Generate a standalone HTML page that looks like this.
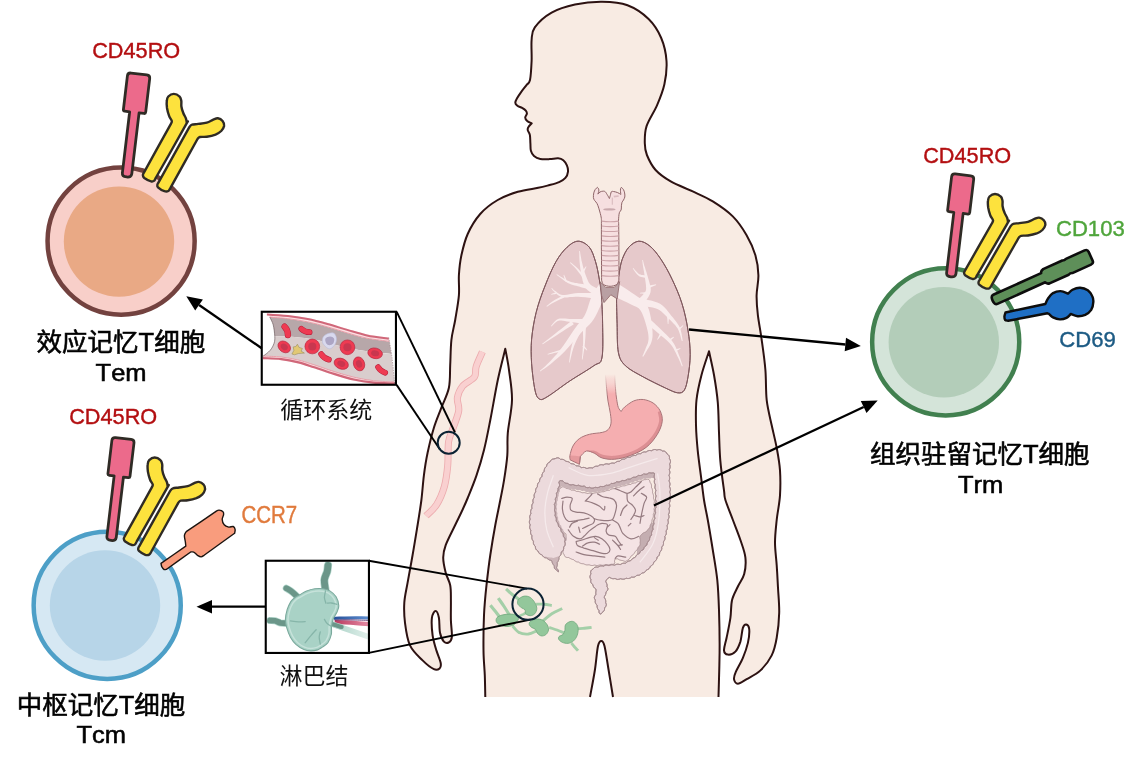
<!DOCTYPE html>
<html lang="zh-CN">
<head>
<meta charset="utf-8">
<title>记忆T细胞亚群</title>
<style>
html,body{margin:0;padding:0;background:#fff;}
body{width:1139px;height:766px;overflow:hidden;}
svg{display:block;}
text{font-family:"Liberation Sans","Noto Sans CJK SC",sans-serif;font-kerning:none;}
.cell{font-size:25.5px;fill:#000;stroke:#000;stroke-width:0.6px;}
.cell2{font-size:25px;}
.mk{font-size:21.7px;stroke-width:0.4px;}
.cap{font-size:23px;fill:#111;}
</style>
</head>
<body>
<svg width="1139" height="766" viewBox="0 0 1139 766">
<rect width="1139" height="766" fill="#fff"/>
<path d="M485.3,697C485.2,693.4 485.1,683.2 484.8,675.4C484.5,667.6 483.6,660.4 483.5,650.4C483.4,640.4 483.5,626.2 484,615.3C484.5,604.4 485.4,595.2 486.5,585.2C487.6,575.2 488.8,565 490.3,555C491.8,545 493.6,534.2 495.3,525C497,515.8 498.9,507.4 500.3,500C501.8,492.6 502.8,487.8 504,480.4C505.2,472.9 506.7,463.2 507.3,455.3C507.9,447.4 507,442 507.8,432.8C508.6,423.6 511.8,410.5 512,400C512.2,389.5 510.1,378.5 509,370C507.9,361.5 505.9,352.3 505.3,348.8C504.1,354 500.3,368.1 497.8,380C495.3,391.9 492.6,408.3 490.3,420C488,431.7 486.3,440.8 484,450C481.7,459.2 479.2,467.4 476.5,475.4C473.8,483.4 470.2,491.9 467.7,498C465.2,504.1 463.6,507.5 461.5,512C459.4,516.5 457.8,519.5 455.2,525C452.6,530.5 447.7,539.7 445.7,545.1C443.7,550.5 443.2,553 443.2,557.6C443.2,562.2 444.5,568.1 445.7,572.7C446.9,577.3 449.3,580.6 450.2,585.2C451.1,589.8 450.8,594.4 450.9,600.3C451,606.1 450.7,614.2 450.9,620.3C451.1,626.3 452.2,632.9 451.9,636.6C451.6,640.3 450.2,641.6 448.9,642.4C447.6,643.2 445.4,643.2 443.9,641.6C442.4,640 440.8,636.8 440,632.8C439.2,628.8 439.6,621.4 438.9,617.8C438.2,614.2 436.8,611 435.6,611C434.4,611 432.4,613.8 431.9,617.8C431.4,621.8 431.9,629.9 432.6,635.3C433.4,640.7 435,645.8 436.4,650.4C437.8,655 440.2,660 440.7,663C441.2,666 440.7,667.4 439.6,668.4C438.5,669.4 436.7,670.5 433.9,669.2C431.1,667.9 426.6,664.4 422.6,660.4C418.6,656.4 412.9,651.7 410,645.4C407.1,639.1 405.9,629.9 405,622.8C404.1,615.7 403.9,609.5 404.3,602.8C404.7,596.1 406.2,590.7 407.6,582.7C409,574.7 410.9,564.6 412.6,555C414.3,545.4 416.1,534.2 417.6,525C419.1,515.8 420.3,508.3 421.4,500C422.4,491.7 422.9,483.3 423.9,475.4C424.9,467.5 425.9,460.7 427.6,452.8C429.3,444.9 431.6,435.3 433.9,427.8C436.2,420.3 438.9,414.4 441.4,407.7C443.9,401 447.4,394.8 448.9,387.7C450.4,380.6 449.8,372.9 450.2,365C450.6,357.1 450.6,347.5 451.4,340C452.2,332.5 453.9,327.4 455.2,320C456.4,312.6 458.3,302.8 458.9,295.4C459.5,287.9 458.5,282 458.9,275.3C459.3,268.6 459.9,262.2 461.4,255.3C462.9,248.4 464.6,240.9 467.7,234C470.8,227.1 475.2,219.7 480.2,214C485.2,208.3 491.4,203.7 497.7,200C504,196.3 511,193.8 517.8,191.8C524.5,189.8 532.9,188.9 538.2,187.8C543.5,186.7 546.2,185.9 549.7,185C553.2,184.1 556.5,183.3 559.1,182.1C561.7,180.9 563.9,179.7 565.4,177.9C566.9,176.2 567.8,173.7 568,171.6C568.2,169.5 567.7,167.3 566.9,165.4C566.1,163.5 564.8,161.4 563.3,160.2C561.8,159 560.4,158.5 558.1,158.3C555.8,158.1 552.7,159 549.7,159.1C546.7,159.2 542.9,159.4 540.3,158.9C537.7,158.4 535.6,157.4 534,156C532.4,154.6 531.5,152.8 530.9,150.7C530.3,148.6 530.6,146 530.4,143.4C530.2,140.8 530.3,137.3 529.9,135.1C529.5,132.9 528.1,131.7 527.8,130.4C527.5,129.1 527.6,128.4 528.3,127.2C528.9,126 531.1,124 531.7,123.4C531,123 528.3,122 527.2,121C526.1,120 525.2,118.7 525.2,117.5C525.2,116.3 526.8,114.9 526.9,113.7C527,112.5 526.6,111.6 525.8,110.6C525,109.6 523.5,108.7 522.1,107.9C520.7,107.1 518.5,106.7 517.4,105.8C516.3,104.9 515.3,104 515.3,102.7C515.3,101.4 516.2,99.8 517.2,98C518.2,96.2 519.6,94.2 521.1,92.1C522.6,90 524.8,87.3 526.3,85.3C527.8,83.3 529.1,84 530,80C530.9,76 531.3,67.7 531.6,61C531.9,54.3 531.1,45.6 531.6,40C532.1,34.4 531.5,32 534.8,27.4C538.1,22.8 544.9,16.4 551.6,12.6C558.3,8.8 566.6,6.3 575,4.5C583.4,2.7 593.5,1.7 602.2,1.8C611,1.9 619.8,2.4 627.5,5.3C635.2,8.2 643,13.6 648.6,19C654.2,24.4 658.2,31 661.2,38C664.2,45 666,53.3 666.5,61C667,68.7 666,76.9 664.4,84.3C662.8,91.7 660,98.4 657,105.4C654,112.4 648.5,120.1 646.5,126.4C644.5,132.7 644.7,138.5 644.8,143.3C644.9,148.1 645.1,150.6 646.9,155C648.7,159.4 651.6,165.6 655.6,170C659.6,174.4 664.5,177.8 670.7,181.4C676.9,185 685.7,188.1 692.7,191.4C699.7,194.7 706.1,197.2 712.8,201.4C719.5,205.6 727.2,210.8 732.8,216.4C738.4,222 742.8,228.7 746.6,235.2C750.4,241.7 753.4,248.6 755.4,255.3C757.4,262 758.2,268.6 758.4,275.3C758.6,282 756.7,288.7 756.6,295.4C756.5,302.1 757,308 757.9,315.4C758.8,322.8 760.5,330.9 761.7,340C763,349.1 764.6,360 765.4,370C766.2,380 765.7,391 766.7,400.2C767.8,409.4 770,417.4 771.7,425.3C773.4,433.2 775.3,440.3 776.7,447.8C778.1,455.3 779.5,462.5 780,470.4C780.5,478.3 780.5,487.1 780,495.4C779.5,503.7 777.5,512.1 776.7,520C775.9,527.9 775,535.1 775,542.6C775,550.1 776.2,557.7 776.7,565.2C777.2,572.7 777.6,579.8 778,587.7C778.4,595.6 779.4,604.4 779.2,612.8C779,621.1 778,630.7 776.7,637.8C775.5,644.9 774.4,650 771.7,655.4C769,660.8 764.7,666.4 760.5,670.4C756.3,674.4 750.5,677 746.7,679.2C742.9,681.4 740,683.7 737.9,683.7C735.8,683.7 734.3,681.2 734,679.2C733.7,677.2 734.4,675.2 735.9,671.7C737.4,668.2 740.9,662.7 742.9,657.9C744.9,653.1 746.8,647.7 747.9,642.9C749,638.1 749.5,632 749.2,629C748.9,626 747.2,624.8 746.2,624.6C745.2,624.4 743.9,625 742.9,627.8C741.9,630.6 741.6,637.6 740.4,641.6C739.1,645.6 737.5,649.4 735.4,651.6C733.3,653.8 729.8,654.8 727.9,654.6C726,654.4 724.2,653.2 724,650.4C723.8,647.6 725.5,643.2 726.6,637.8C727.7,632.4 729.5,624 730.4,617.8C731.3,611.5 730.8,605.5 732,600.3C733.2,595.1 735.9,590.9 737.9,586.5C739.9,582.1 743,578.8 744.2,574C745.5,569.2 746,563.3 745.4,557.6C744.8,551.9 742.5,546.3 740.4,540C738.3,533.7 735.4,526.7 732.9,520C730.4,513.3 726.9,504.9 725.4,500C723.9,495.1 724.9,497 724,490.4C723.1,483.8 721.1,470 720.3,460.4C719.5,450.8 719.4,442.4 719,432.8C718.6,423.2 718.6,412.3 717.8,402.7C717,393.1 715.5,383.6 714,375C712.5,366.4 709.8,355.2 709,351.3C707.8,355.2 703.6,366.9 701.5,375C699.4,383.1 697.4,391.6 696.5,400C695.6,408.4 695.8,416.9 696,425.3C696.2,433.7 696.8,441.1 697.7,450.3C698.6,459.5 700.5,472.1 701.5,480.4C702.5,488.7 703,493.4 704,500C705,506.6 706.3,511.7 707.8,520C709.3,528.3 711.2,540 712.8,550C714.4,560 716.3,570.2 717.3,580.2C718.3,590.2 718.6,598.6 719,610.3C719.4,622 719.7,635.9 719.6,650.4C719.5,664.9 718.7,689.2 718.5,697L613,697C612.3,692.5 610,678.5 608.6,670C607.2,661.5 605.7,650.8 604.5,646C603.3,641.2 602.4,641 601.3,641C600.2,641 599.1,641.2 598,646C596.9,650.8 596.2,661.5 594.9,670C593.6,678.5 590.8,692.5 590,697Z" fill="#f8ebe3"/>
<path d="M485.3,697C485.2,693.4 485.1,683.2 484.8,675.4C484.5,667.6 483.6,660.4 483.5,650.4C483.4,640.4 483.5,626.2 484,615.3C484.5,604.4 485.4,595.2 486.5,585.2C487.6,575.2 488.8,565 490.3,555C491.8,545 493.6,534.2 495.3,525C497,515.8 498.9,507.4 500.3,500C501.8,492.6 502.8,487.8 504,480.4C505.2,472.9 506.7,463.2 507.3,455.3C507.9,447.4 507,442 507.8,432.8C508.6,423.6 511.8,410.5 512,400C512.2,389.5 510.1,378.5 509,370C507.9,361.5 505.9,352.3 505.3,348.8C504.1,354 500.3,368.1 497.8,380C495.3,391.9 492.6,408.3 490.3,420C488,431.7 486.3,440.8 484,450C481.7,459.2 479.2,467.4 476.5,475.4C473.8,483.4 470.2,491.9 467.7,498C465.2,504.1 463.6,507.5 461.5,512C459.4,516.5 457.8,519.5 455.2,525C452.6,530.5 447.7,539.7 445.7,545.1C443.7,550.5 443.2,553 443.2,557.6C443.2,562.2 444.5,568.1 445.7,572.7C446.9,577.3 449.3,580.6 450.2,585.2C451.1,589.8 450.8,594.4 450.9,600.3C451,606.1 450.7,614.2 450.9,620.3C451.1,626.3 452.2,632.9 451.9,636.6C451.6,640.3 450.2,641.6 448.9,642.4C447.6,643.2 445.4,643.2 443.9,641.6C442.4,640 440.8,636.8 440,632.8C439.2,628.8 439.6,621.4 438.9,617.8C438.2,614.2 436.8,611 435.6,611C434.4,611 432.4,613.8 431.9,617.8C431.4,621.8 431.9,629.9 432.6,635.3C433.4,640.7 435,645.8 436.4,650.4C437.8,655 440.2,660 440.7,663C441.2,666 440.7,667.4 439.6,668.4C438.5,669.4 436.7,670.5 433.9,669.2C431.1,667.9 426.6,664.4 422.6,660.4C418.6,656.4 412.9,651.7 410,645.4C407.1,639.1 405.9,629.9 405,622.8C404.1,615.7 403.9,609.5 404.3,602.8C404.7,596.1 406.2,590.7 407.6,582.7C409,574.7 410.9,564.6 412.6,555C414.3,545.4 416.1,534.2 417.6,525C419.1,515.8 420.3,508.3 421.4,500C422.4,491.7 422.9,483.3 423.9,475.4C424.9,467.5 425.9,460.7 427.6,452.8C429.3,444.9 431.6,435.3 433.9,427.8C436.2,420.3 438.9,414.4 441.4,407.7C443.9,401 447.4,394.8 448.9,387.7C450.4,380.6 449.8,372.9 450.2,365C450.6,357.1 450.6,347.5 451.4,340C452.2,332.5 453.9,327.4 455.2,320C456.4,312.6 458.3,302.8 458.9,295.4C459.5,287.9 458.5,282 458.9,275.3C459.3,268.6 459.9,262.2 461.4,255.3C462.9,248.4 464.6,240.9 467.7,234C470.8,227.1 475.2,219.7 480.2,214C485.2,208.3 491.4,203.7 497.7,200C504,196.3 511,193.8 517.8,191.8C524.5,189.8 532.9,188.9 538.2,187.8C543.5,186.7 546.2,185.9 549.7,185C553.2,184.1 556.5,183.3 559.1,182.1C561.7,180.9 563.9,179.7 565.4,177.9C566.9,176.2 567.8,173.7 568,171.6C568.2,169.5 567.7,167.3 566.9,165.4C566.1,163.5 564.8,161.4 563.3,160.2C561.8,159 560.4,158.5 558.1,158.3C555.8,158.1 552.7,159 549.7,159.1C546.7,159.2 542.9,159.4 540.3,158.9C537.7,158.4 535.6,157.4 534,156C532.4,154.6 531.5,152.8 530.9,150.7C530.3,148.6 530.6,146 530.4,143.4C530.2,140.8 530.3,137.3 529.9,135.1C529.5,132.9 528.1,131.7 527.8,130.4C527.5,129.1 527.6,128.4 528.3,127.2C528.9,126 531.1,124 531.7,123.4C531,123 528.3,122 527.2,121C526.1,120 525.2,118.7 525.2,117.5C525.2,116.3 526.8,114.9 526.9,113.7C527,112.5 526.6,111.6 525.8,110.6C525,109.6 523.5,108.7 522.1,107.9C520.7,107.1 518.5,106.7 517.4,105.8C516.3,104.9 515.3,104 515.3,102.7C515.3,101.4 516.2,99.8 517.2,98C518.2,96.2 519.6,94.2 521.1,92.1C522.6,90 524.8,87.3 526.3,85.3C527.8,83.3 529.1,84 530,80C530.9,76 531.3,67.7 531.6,61C531.9,54.3 531.1,45.6 531.6,40C532.1,34.4 531.5,32 534.8,27.4C538.1,22.8 544.9,16.4 551.6,12.6C558.3,8.8 566.6,6.3 575,4.5C583.4,2.7 593.5,1.7 602.2,1.8C611,1.9 619.8,2.4 627.5,5.3C635.2,8.2 643,13.6 648.6,19C654.2,24.4 658.2,31 661.2,38C664.2,45 666,53.3 666.5,61C667,68.7 666,76.9 664.4,84.3C662.8,91.7 660,98.4 657,105.4C654,112.4 648.5,120.1 646.5,126.4C644.5,132.7 644.7,138.5 644.8,143.3C644.9,148.1 645.1,150.6 646.9,155C648.7,159.4 651.6,165.6 655.6,170C659.6,174.4 664.5,177.8 670.7,181.4C676.9,185 685.7,188.1 692.7,191.4C699.7,194.7 706.1,197.2 712.8,201.4C719.5,205.6 727.2,210.8 732.8,216.4C738.4,222 742.8,228.7 746.6,235.2C750.4,241.7 753.4,248.6 755.4,255.3C757.4,262 758.2,268.6 758.4,275.3C758.6,282 756.7,288.7 756.6,295.4C756.5,302.1 757,308 757.9,315.4C758.8,322.8 760.5,330.9 761.7,340C763,349.1 764.6,360 765.4,370C766.2,380 765.7,391 766.7,400.2C767.8,409.4 770,417.4 771.7,425.3C773.4,433.2 775.3,440.3 776.7,447.8C778.1,455.3 779.5,462.5 780,470.4C780.5,478.3 780.5,487.1 780,495.4C779.5,503.7 777.5,512.1 776.7,520C775.9,527.9 775,535.1 775,542.6C775,550.1 776.2,557.7 776.7,565.2C777.2,572.7 777.6,579.8 778,587.7C778.4,595.6 779.4,604.4 779.2,612.8C779,621.1 778,630.7 776.7,637.8C775.5,644.9 774.4,650 771.7,655.4C769,660.8 764.7,666.4 760.5,670.4C756.3,674.4 750.5,677 746.7,679.2C742.9,681.4 740,683.7 737.9,683.7C735.8,683.7 734.3,681.2 734,679.2C733.7,677.2 734.4,675.2 735.9,671.7C737.4,668.2 740.9,662.7 742.9,657.9C744.9,653.1 746.8,647.7 747.9,642.9C749,638.1 749.5,632 749.2,629C748.9,626 747.2,624.8 746.2,624.6C745.2,624.4 743.9,625 742.9,627.8C741.9,630.6 741.6,637.6 740.4,641.6C739.1,645.6 737.5,649.4 735.4,651.6C733.3,653.8 729.8,654.8 727.9,654.6C726,654.4 724.2,653.2 724,650.4C723.8,647.6 725.5,643.2 726.6,637.8C727.7,632.4 729.5,624 730.4,617.8C731.3,611.5 730.8,605.5 732,600.3C733.2,595.1 735.9,590.9 737.9,586.5C739.9,582.1 743,578.8 744.2,574C745.5,569.2 746,563.3 745.4,557.6C744.8,551.9 742.5,546.3 740.4,540C738.3,533.7 735.4,526.7 732.9,520C730.4,513.3 726.9,504.9 725.4,500C723.9,495.1 724.9,497 724,490.4C723.1,483.8 721.1,470 720.3,460.4C719.5,450.8 719.4,442.4 719,432.8C718.6,423.2 718.6,412.3 717.8,402.7C717,393.1 715.5,383.6 714,375C712.5,366.4 709.8,355.2 709,351.3C707.8,355.2 703.6,366.9 701.5,375C699.4,383.1 697.4,391.6 696.5,400C695.6,408.4 695.8,416.9 696,425.3C696.2,433.7 696.8,441.1 697.7,450.3C698.6,459.5 700.5,472.1 701.5,480.4C702.5,488.7 703,493.4 704,500C705,506.6 706.3,511.7 707.8,520C709.3,528.3 711.2,540 712.8,550C714.4,560 716.3,570.2 717.3,580.2C718.3,590.2 718.6,598.6 719,610.3C719.4,622 719.7,635.9 719.6,650.4C719.5,664.9 718.7,689.2 718.5,697" fill="none" stroke="#2d1212" stroke-width="2" stroke-linejoin="round"/>
<path d="M613,697C612.3,692.5 610,678.5 608.6,670C607.2,661.5 605.7,650.8 604.5,646C603.3,641.2 602.4,641 601.3,641C600.2,641 599.1,641.2 598,646C596.9,650.8 596.2,661.5 594.9,670C593.6,678.5 590.8,692.5 590,697" fill="none" stroke="#2d1212" stroke-width="2" stroke-linejoin="round"/>
<path d="M482.4,351.9C481.4,354.3 477.5,362.3 476.2,366.5C474.8,370.7 476.6,373.7 474.4,377C472.1,380.2 465.4,382.6 462.6,386.1C459.8,389.6 458.1,393.7 457.4,397.8C456.7,402 459.5,405.7 458.7,410.9C457.9,416.1 454.4,423.9 452.7,429.1C451,434.4 449.4,436.1 448.5,442.2C447.7,448.3 448.4,458.3 447.7,465.7C447,473.1 446.2,480 444.4,486.5C442.5,493.1 439.6,499.9 436.5,504.8C433.5,509.7 427.8,513.9 426.1,515.8" fill="none" stroke="#ecaaad" stroke-width="7.0" stroke-linecap="butt"/><path d="M482.4,351.9C481.4,354.3 477.5,362.3 476.2,366.5C474.8,370.7 476.6,373.7 474.4,377C472.1,380.2 465.4,382.6 462.6,386.1C459.8,389.6 458.1,393.7 457.4,397.8C456.7,402 459.5,405.7 458.7,410.9C457.9,416.1 454.4,423.9 452.7,429.1C451,434.4 449.4,436.1 448.5,442.2C447.7,448.3 448.4,458.3 447.7,465.7C447,473.1 446.2,480 444.4,486.5C442.5,493.1 439.6,499.9 436.5,504.8C433.5,509.7 427.8,513.9 426.1,515.8" fill="none" stroke="#f9d0d0" stroke-width="5.4" stroke-linecap="butt"/>
<path d="M578.2,241.2C581.9,241.2 586.4,243.8 589.3,247.2C592.2,250.6 593.8,256.2 595.5,261.6C597.2,267 598.3,273.4 599.3,279.3C600.3,285.3 600.9,289.7 601.5,297.1C602,304.5 602.5,313.5 602.6,323.7C602.7,333.8 603.4,351 601.9,358C600.4,365 599.1,361.9 593.7,365.8C588.3,369.7 577.1,376.1 569.3,381.3C561.6,386.5 552.2,393.9 547.2,396.8C542.2,399.8 541.4,400.1 539.4,399C537.4,397.9 536.3,396.1 535,390.2C533.7,384.3 532.2,372.1 531.6,363.6C531.1,355.1 530.9,347.7 531.6,339.2C532.4,330.7 533.9,321.5 536.1,312.6C538.3,303.7 541.6,294.5 545,286C548.3,277.5 552.3,268.1 556,261.6C559.7,255.1 563.4,250.6 567.1,247.2C570.8,243.8 574.5,241.2 578.2,241.2Z" fill="#e6c9cb" stroke="#80595e" stroke-width="1"/><path d="M638.8,241.2C635.3,241.4 631.6,244.2 628.8,247.2C626.1,250.2 623.9,254.8 622.2,259.4C620.5,264 619.8,269.4 618.9,274.9C617.9,280.4 616.9,284.5 616.6,292.6C616.4,300.8 616.8,313.7 617.1,323.7C617.4,333.6 617,345.5 618.4,352.5C619.8,359.5 621.4,361.7 625.5,365.8C629.7,369.9 636.6,373.2 643.2,376.9C649.9,380.6 659.7,385.3 665.4,388C671.1,390.6 674.5,392.5 677.6,392.8C680.8,393.2 682.5,392.8 684.3,390.2C686,387.5 687,382.8 688,376.9C689,371 690.2,362.5 690.2,354.7C690.2,346.9 689.4,338.8 688,330.3C686.7,321.8 684.7,312.2 682,303.7C679.4,295.2 675.6,286.7 672.1,279.3C668.6,271.9 664.7,264.9 661,259.4C657.3,253.8 653.6,249.1 649.9,246.1C646.2,243.1 642.3,241 638.8,241.2Z" fill="#e6c9cb" stroke="#80595e" stroke-width="1"/><clipPath id="cl"><path d="M578.2,241.2C581.9,241.2 586.4,243.8 589.3,247.2C592.2,250.6 593.8,256.2 595.5,261.6C597.2,267 598.3,273.4 599.3,279.3C600.3,285.3 600.9,289.7 601.5,297.1C602,304.5 602.5,313.5 602.6,323.7C602.7,333.8 603.4,351 601.9,358C600.4,365 599.1,361.9 593.7,365.8C588.3,369.7 577.1,376.1 569.3,381.3C561.6,386.5 552.2,393.9 547.2,396.8C542.2,399.8 541.4,400.1 539.4,399C537.4,397.9 536.3,396.1 535,390.2C533.7,384.3 532.2,372.1 531.6,363.6C531.1,355.1 530.9,347.7 531.6,339.2C532.4,330.7 533.9,321.5 536.1,312.6C538.3,303.7 541.6,294.5 545,286C548.3,277.5 552.3,268.1 556,261.6C559.7,255.1 563.4,250.6 567.1,247.2C570.8,243.8 574.5,241.2 578.2,241.2Z"/></clipPath><clipPath id="cr"><path d="M638.8,241.2C635.3,241.4 631.6,244.2 628.8,247.2C626.1,250.2 623.9,254.8 622.2,259.4C620.5,264 619.8,269.4 618.9,274.9C617.9,280.4 616.9,284.5 616.6,292.6C616.4,300.8 616.8,313.7 617.1,323.7C617.4,333.6 617,345.5 618.4,352.5C619.8,359.5 621.4,361.7 625.5,365.8C629.7,369.9 636.6,373.2 643.2,376.9C649.9,380.6 659.7,385.3 665.4,388C671.1,390.6 674.5,392.5 677.6,392.8C680.8,393.2 682.5,392.8 684.3,390.2C686,387.5 687,382.8 688,376.9C689,371 690.2,362.5 690.2,354.7C690.2,346.9 689.4,338.8 688,330.3C686.7,321.8 684.7,312.2 682,303.7C679.4,295.2 675.6,286.7 672.1,279.3C668.6,271.9 664.7,264.9 661,259.4C657.3,253.8 653.6,249.1 649.9,246.1C646.2,243.1 642.3,241 638.8,241.2Z"/></clipPath><g clip-path="url(#cl)"><path d="M599.3,284.1L598.6,285.2L597.5,286.8L596.2,288.7L594.7,291.1L593.2,293.6L591.7,296.5L590.4,299.5L589.3,302.8L588.3,306L587.3,309.2L586.2,312L585.1,314.5L583.9,316.7L582.6,318.6L581,320.6L579.3,322.7L577.3,325.2L575.3,327.9L573,331.2L570.7,334.7L568.2,338.5L565.7,342.2L563.3,345.7L561,348.8L558.8,351.6L556.7,354.2L554.5,356.6L552.5,358.8L550.5,360.9L548.7,362.8L546.9,364.6L545.2,366.2L543.5,367.7L542,369L540.8,370L539.9,370.8L540.3,371.4L541.3,370.7L542.6,369.8L544.3,368.7L546.1,367.4L548.1,365.9L550.1,364.4L552.2,362.7L554.4,360.8L556.8,358.8L559.2,356.7L561.8,354.3L564.4,351.7L567.1,348.8L570,345.5L573,342.1L575.9,338.7L578.7,335.5L581.1,332.7L583.3,330.4L585.4,328.4L587.4,326.5L589.5,324.4L591.5,322.2L593.5,319.5L595.3,316.4L597,313.2L598.5,310L599.9,307L601.2,304.3L602.4,302.1L603.7,300.2L605.2,298.3L606.6,296.5L608.1,294.9L609.3,293.4L610.3,292.3Z" fill="#f9ecec"/><path d="M600.1,289.8L598.8,289.2L597.1,288.4L595.2,287.5L593.3,286.5L591.6,285.5L590.4,284.5L589.5,283.5L588.6,282.2L587.9,280.7L587.2,279.1L586.5,277.3L585.8,275.4L585.1,273.4L584.4,271.3L583.7,269.1L583.1,266.9L582.5,264.6L582,262.5L581.5,260.4L581.1,258.1L580.7,255.9L580.4,253.9L580.1,252.2L579.9,250.9L579.2,251L579.2,252.3L579.3,254L579.3,256.1L579.4,258.3L579.5,260.7L579.7,262.9L579.9,265.1L580.2,267.4L580.5,269.8L580.9,272.1L581.3,274.4L581.7,276.6L582.2,278.6L582.6,280.6L583.2,282.5L583.8,284.5L584.7,286.4L586,288.4L587.7,290.2L589.7,291.8L591.7,293.3L593.6,294.6L595.2,295.6L596.2,296.3Z" fill="#f9ecec"/><path d="M585,276.3L584.1,275.3L582.9,274L581.4,272.4L579.9,270.7L578.3,269.1L577,267.7L575.7,266.6L574.4,265.5L573.2,264.4L572.1,263.5L571.1,262.8L570.4,262.2L570,262.7L570.6,263.4L571.5,264.2L572.5,265.2L573.6,266.3L574.8,267.5L575.9,268.8L577.1,270.2L578.4,271.9L579.8,273.7L581.1,275.5L582.2,276.9L582.9,278Z" fill="#f9ecec"/><path d="M583.9,272.1L584.2,271.4L584.7,270.5L585.2,269.4L585.7,268.3L586.2,267.3L586.5,266.7L585.9,266.3L585.5,266.9L584.8,267.7L584.1,268.7L583.3,269.7L582.7,270.5L582.2,271.1Z" fill="#f9ecec"/><path d="M589.7,285.1L588.4,285L586.7,284.7L584.7,284.4L582.6,284.1L580.4,283.8L578.5,283.5L576.8,283.1L575.1,282.9L573.5,282.6L572,282.2L570.4,281.8L568.7,281.1L566.7,280.2L564.5,278.9L562.2,277.5L560,276.2L558.2,275L556.9,274.2L556.5,274.7L557.7,275.7L559.5,277L561.5,278.6L563.7,280.2L565.8,281.7L567.8,282.9L569.6,283.8L571.3,284.4L572.9,285L574.6,285.4L576.2,285.8L577.9,286.3L579.8,286.8L581.9,287.4L584,287.9L586,288.4L587.7,288.8L588.9,289Z" fill="#f9ecec"/><path d="M566.8,280.8L566.5,280.1L566,279L565.5,277.8L564.9,276.6L564.4,275.5L564.1,274.8L563.5,275L563.7,275.8L564,276.9L564.3,278.2L564.7,279.5L565,280.6L565.2,281.4Z" fill="#f9ecec"/><path d="M598.3,293.1L596.1,293.1L593,293L589.3,292.9L585.4,292.9L581.6,292.9L578.2,293L575.1,293.3L572.2,293.8L569.5,294.3L567,294.8L564.8,295.1L562.8,295.1L561.2,294.8L559.8,294.3L558.5,293.5L557.4,292.7L556.3,291.8L555.3,291.1L554.4,290.5L553.7,289.9L553.1,289.3L552.6,288.8L552.2,288.3L551.8,288L551.4,288.4L551.6,288.8L552,289.3L552.5,289.9L553,290.5L553.7,291.3L554.6,292L555.5,292.8L556.4,293.7L557.6,294.8L558.9,295.8L560.6,296.6L562.5,297.2L564.8,297.4L567.3,297.4L569.9,297.1L572.6,296.9L575.4,296.7L578.2,296.7L581.4,296.9L585.1,297.3L589,297.7L592.6,298.2L595.7,298.6L598,298.8Z" fill="#f9ecec"/><path d="M563.2,295.2L562.1,295.8L560.6,296.7L558.8,297.7L556.9,298.8L555,299.8L553.4,300.8L552,301.8L550.6,302.8L549.3,303.8L548.2,304.8L547.2,305.5L546.5,306.1L546.9,306.7L547.7,306.2L548.7,305.5L549.9,304.7L551.3,303.8L552.8,303L554.2,302.2L555.8,301.4L557.7,300.5L559.7,299.6L561.6,298.8L563.2,298.1L564.4,297.6Z" fill="#f9ecec"/><path d="M555.8,292.2L555.2,292.4L554.4,292.8L553.4,293.2L552.5,293.5L551.6,293.9L551.1,294.1L551.2,294.7L551.9,294.6L552.7,294.5L553.8,294.3L554.8,294.2L555.7,294L556.3,293.9Z" fill="#f9ecec"/><path d="M586.1,319L584.2,319L581.6,319L578.5,318.9L575.2,318.9L572.1,318.9L569.4,318.9L567.3,318.8L565.2,318.6L563.3,318.5L561.5,318.5L559.7,318.6L558,319.1L556.3,320L554.9,321.3L553.6,322.7L552.5,324.1L551.6,325.3L550.9,326.1L551.4,326.6L552.2,325.8L553.2,324.7L554.4,323.5L555.8,322.3L557.2,321.3L558.5,320.7L559.9,320.5L561.4,320.6L563.1,320.8L564.9,321.1L567,321.5L569.2,321.8L571.9,322.2L575,322.5L578.2,322.9L581.3,323.3L583.9,323.7L585.8,323.9Z" fill="#f9ecec"/><path d="M571.5,320.9L569.7,322.3L567.2,324.2L564.3,326.5L561.2,329L558.1,331.3L555.4,333.4L552.9,335.4L550.3,337.4L547.7,339.4L545.4,341.2L543.5,342.7L542.1,343.8L542.5,344.3L544,343.4L546.1,342L548.5,340.5L551.2,338.7L554,336.9L556.7,335.2L559.6,333.3L562.8,331.3L566.1,329.1L569.3,327.1L571.9,325.4L573.8,324.2Z" fill="#f9ecec"/><path d="M577.5,329.5L576.8,331.2L575.9,333.6L574.8,336.4L573.7,339.4L572.6,342.6L571.8,345.5L571.1,348.5L570.5,351.7L570,355L569.6,358L569.3,360.6L569,362.4L569.7,362.5L570.1,360.7L570.7,358.2L571.4,355.3L572.2,352.1L573.1,349L574,346.2L575.1,343.5L576.4,340.6L577.8,337.7L579.2,335L580.3,332.8L581.1,331.1Z" fill="#f9ecec"/><path d="M582.9,325.9L582.9,327.8L583,330.5L583,333.7L583.1,337.2L583.1,340.5L583.1,343.6L582.9,346.5L582.7,349.6L582.5,352.6L582.2,355.4L582,357.8L581.9,359.5L582.5,359.6L582.8,357.9L583.2,355.6L583.6,352.8L584.1,349.7L584.5,346.6L584.9,343.7L585.1,340.6L585.4,337.2L585.6,333.8L585.7,330.6L585.9,327.9L586,325.9Z" fill="#f9ecec"/><path d="M562.4,349.2L561.4,349.5L560.1,349.9L558.4,350.4L556.7,350.9L555.1,351.4L553.7,351.9L552.4,352.3L551.2,352.7L550,353.1L549,353.4L548.2,353.7L547.5,353.9L547.7,354.6L548.4,354.4L549.2,354.2L550.3,354L551.5,353.7L552.7,353.4L554,353.1L555.4,352.8L557.1,352.5L558.9,352.1L560.5,351.8L561.9,351.5L563,351.3Z" fill="#f9ecec"/><path d="M582.4,346.4L583,346.9L583.7,347.6L584.6,348.5L585.5,349.3L586.3,350L586.8,350.5L587.3,350L586.9,349.5L586.3,348.6L585.5,347.6L584.8,346.7L584.2,345.8L583.7,345.2Z" fill="#f9ecec"/></g><g clip-path="url(#cr)"><path d="M611.2,295.1L613.3,296.1L616.3,297.5L619.7,299L623.3,300.7L626.7,302.3L629.6,303.8L632.1,305L634.3,306L636.1,306.8L637.5,307.5L638.7,308.3L639.8,309.4L640.9,311.1L642.1,313.3L643.2,315.9L644.2,318.7L645.1,321.6L645.9,324.3L646.7,326.9L647.3,329.5L647.9,332L648.3,334.5L648.5,336.8L648.6,339L648.3,340.9L647.9,342.9L647.2,344.7L646.4,346.6L645.7,348.3L645.1,349.9L644.5,351.3L644,352.6L643.5,353.8L643.1,354.8L642.7,355.6L642.4,356.3L643.2,356.7L643.6,356.1L644.1,355.3L644.7,354.4L645.3,353.3L646,352L646.8,350.7L647.6,349.2L648.6,347.7L649.6,345.9L650.7,343.9L651.5,341.8L652.1,339.4L652.5,336.9L652.6,334.3L652.5,331.5L652.3,328.7L652,325.9L651.7,323.1L651.2,320.1L650.7,317L650,313.8L649.2,310.6L648.1,307.6L646.7,304.7L645,302.2L642.9,300.3L640.9,298.7L638.8,297.5L636.9,296.2L634.8,294.8L632.1,293L628.9,290.8L625.5,288.6L622.3,286.5L619.6,284.7L617.7,283.5Z" fill="#f9ecec"/><path d="M643.6,303.6L644.4,302.5L645.5,301L647,299.1L648.4,297L649.7,294.6L650.5,292.2L650.8,289.8L650.6,287.5L650.2,285.3L649.6,283.2L649,281.1L648.4,279L647.8,276.8L647.1,274.4L646.4,272L645.6,269.7L645,267.6L644.4,265.9L644,264.4L643.7,263.2L643.4,262.1L643.2,261.3L643.1,260.6L642.9,260L642.3,260.1L642.3,260.7L642.4,261.4L642.5,262.3L642.6,263.4L642.8,264.7L643,266.2L643.3,268.1L643.7,270.2L644.1,272.6L644.5,275L644.9,277.4L645.2,279.7L645.5,281.8L645.8,284L646,286L646.1,287.8L646.1,289.5L645.7,290.9L645,292.2L643.8,293.8L642.4,295.4L640.9,297L639.5,298.3L638.5,299.4Z" fill="#f9ecec"/><path d="M646.1,275.4L645.3,275.3L644.2,275.2L642.9,275.1L641.6,274.9L640.4,274.6L639.3,274.2L638.3,273.4L637.1,272.3L635.9,271.1L634.9,269.9L634,268.8L633.3,268L632.8,268.5L633.3,269.3L634.1,270.4L635,271.8L636.1,273.3L637.2,274.6L638.3,275.6L639.6,276.4L641.1,276.9L642.5,277.3L643.9,277.6L644.9,277.8L645.7,278Z" fill="#f9ecec"/><path d="M648.1,288.4L649,288L650.5,287.4L652.1,286.7L653.8,286L655.2,285.4L656.2,285L656,284.3L655,284.5L653.4,284.8L651.7,285.1L649.9,285.4L648.4,285.6L647.3,285.8Z" fill="#f9ecec"/><path d="M646.6,292.1L645.8,292.2L644.6,292.3L643.3,292.4L641.9,292.6L640.7,292.7L639.9,292.7L639.9,293.4L640.7,293.5L641.9,293.6L643.3,293.7L644.6,293.9L645.8,294L646.6,294.1Z" fill="#f9ecec"/><path d="M642.5,306.3L644.4,306.6L646.9,306.8L649.7,307.1L652.6,307.6L655.3,308.2L657.4,308.9L659.3,309.9L661.1,311.3L663,312.9L664.8,314.7L666.6,316.6L668.4,318.4L670.2,320.1L671.9,321.8L673.5,323.4L675.1,325.1L676.5,326.9L677.7,328.6L678.7,330.7L679.5,333L680.3,335.4L680.9,337.7L681.4,339.7L681.8,341.1L682.7,340.9L682.5,339.4L682.2,337.4L681.8,335.1L681.3,332.5L680.7,329.9L679.8,327.6L678.7,325.4L677.4,323.4L676,321.4L674.4,319.5L672.9,317.6L671.3,315.7L669.8,313.7L668.2,311.7L666.5,309.6L664.6,307.5L662.5,305.6L660.1,303.8L657.3,302.5L654.1,301.4L651,300.5L648,299.9L645.6,299.3L644,298.9Z" fill="#f9ecec"/><path d="M667,315.2L667.1,316.3L667.2,317.9L667.4,319.7L667.5,321.5L667.7,323.1L667.7,324.1L668.4,324.1L668.5,323.1L668.6,321.5L668.8,319.7L669,317.9L669.1,316.3L669.2,315.2Z" fill="#f9ecec"/><path d="M679.8,329.9L680.2,329.4L680.8,328.6L681.6,327.8L682.3,326.9L682.9,326.2L683.4,325.7L682.9,325.2L682.4,325.6L681.6,326.2L680.7,326.9L679.8,327.6L679.1,328.2L678.6,328.6Z" fill="#f9ecec"/><path d="M647.6,324.8L648.9,325.8L650.7,327.2L652.9,328.8L655.1,330.6L657.4,332.4L659.5,334.2L661.5,335.9L663.5,337.5L665.5,339.2L667.5,340.9L669.2,342.7L670.8,344.5L672.3,346.5L673.6,348.6L674.8,350.9L675.9,353.1L676.9,355.3L677.9,357.3L678.8,359.1L679.6,360.9L680.3,362.6L680.9,364.1L681.5,365.4L681.9,366.4L682.7,366.1L682.4,365.1L682,363.8L681.5,362.2L680.9,360.4L680.3,358.5L679.5,356.6L678.7,354.5L677.9,352.3L676.9,349.9L675.9,347.4L674.7,345L673.3,342.7L671.7,340.6L670,338.5L668.1,336.5L666.2,334.6L664.3,332.7L662.5,330.9L660.5,329L658.4,326.9L656.2,324.9L654.2,323L652.5,321.5L651.3,320.4Z" fill="#f9ecec"/><path d="M660.5,332.4L660.1,333.3L659.5,334.5L658.8,335.9L658.1,337.4L657.6,338.6L657.2,339.5L657.7,339.8L658.3,339L659.1,337.9L660.1,336.7L661,335.4L661.8,334.3L662.4,333.6Z" fill="#f9ecec"/><path d="M670,341.1L670.5,340.6L671.2,340L672,339.2L672.8,338.4L673.6,337.7L674,337.2L673.6,336.7L673.1,337L672.2,337.5L671.2,338.1L670.2,338.7L669.4,339.2L668.8,339.5Z" fill="#f9ecec"/><path d="M675.9,351.1L676.5,350.8L677.3,350.4L678.3,350L679.2,349.5L680,349.1L680.6,348.8L680.4,348.2L679.8,348.3L678.9,348.6L677.8,348.8L676.8,349.1L675.9,349.3L675.3,349.4Z" fill="#f9ecec"/></g><path d="M578.2,241.2C581.9,241.2 586.4,243.8 589.3,247.2C592.2,250.6 593.8,256.2 595.5,261.6C597.2,267 598.3,273.4 599.3,279.3C600.3,285.3 600.9,289.7 601.5,297.1C602,304.5 602.5,313.5 602.6,323.7C602.7,333.8 603.4,351 601.9,358C600.4,365 599.1,361.9 593.7,365.8C588.3,369.7 577.1,376.1 569.3,381.3C561.6,386.5 552.2,393.9 547.2,396.8C542.2,399.8 541.4,400.1 539.4,399C537.4,397.9 536.3,396.1 535,390.2C533.7,384.3 532.2,372.1 531.6,363.6C531.1,355.1 530.9,347.7 531.6,339.2C532.4,330.7 533.9,321.5 536.1,312.6C538.3,303.7 541.6,294.5 545,286C548.3,277.5 552.3,268.1 556,261.6C559.7,255.1 563.4,250.6 567.1,247.2C570.8,243.8 574.5,241.2 578.2,241.2Z" fill="none" stroke="#80595e" stroke-width="1"/><path d="M638.8,241.2C635.3,241.4 631.6,244.2 628.8,247.2C626.1,250.2 623.9,254.8 622.2,259.4C620.5,264 619.8,269.4 618.9,274.9C617.9,280.4 616.9,284.5 616.6,292.6C616.4,300.8 616.8,313.7 617.1,323.7C617.4,333.6 617,345.5 618.4,352.5C619.8,359.5 621.4,361.7 625.5,365.8C629.7,369.9 636.6,373.2 643.2,376.9C649.9,380.6 659.7,385.3 665.4,388C671.1,390.6 674.5,392.5 677.6,392.8C680.8,393.2 682.5,392.8 684.3,390.2C686,387.5 687,382.8 688,376.9C689,371 690.2,362.5 690.2,354.7C690.2,346.9 689.4,338.8 688,330.3C686.7,321.8 684.7,312.2 682,303.7C679.4,295.2 675.6,286.7 672.1,279.3C668.6,271.9 664.7,264.9 661,259.4C657.3,253.8 653.6,249.1 649.9,246.1C646.2,243.1 642.3,241 638.8,241.2Z" fill="none" stroke="#80595e" stroke-width="1"/>
<path d="M600.2,281.9L605.7,287.4L614.2,287.4L619.6,281.6L617.2,298.9L610.8,294.8L604,302.6L601.6,295.5Z" fill="#b9a0a3" stroke="#8e6468" stroke-width="0.8" stroke-linejoin="round"/><path d="M597.3,187.3C597.5,187.6 598.3,188.2 598.6,188.8C598.8,189.4 598.9,190.3 598.8,191.2C598.7,192 598,193.6 597.9,194.1C598.2,193.8 599.1,192.5 600,192C600.8,191.5 602,191.2 602.9,191.2C603.8,191.1 604.5,191.1 605.3,191.8C606,192.4 606.9,194.2 607.6,195.3C608.3,196.4 609.1,198 609.4,198.5C609.6,197.9 610.2,195.8 610.5,194.7C610.9,193.6 610.8,192.3 611.3,191.8C611.8,191.2 612.4,191.3 613.5,191.5C614.5,191.6 616.4,192.1 617.6,192.6C618.8,193.1 620.3,194.1 620.9,194.4C620.8,194 620.6,192.7 620.5,191.8C620.5,190.8 620.4,189.5 620.5,188.8C620.7,188.1 621.3,187.6 621.4,187.3C621.8,187.7 622.9,188.8 623.5,189.7C624,190.6 624.4,191.7 624.6,192.9C624.9,194.2 625,195.9 624.8,197C624.6,198.2 623.9,199.1 623.5,200C623,200.9 622.4,201.4 622,202.3C621.7,203.3 621.6,204.6 621.4,205.8C621.3,207.1 621.5,208.9 621.1,210C620.8,211 619.9,211.2 619.5,212.3C619.1,213.4 618.9,215 618.8,216.4C618.6,217.9 618.6,219.7 618.5,221.1C618.5,222.6 618.6,220.5 618.7,225C618.7,229.5 618.9,238.7 618.9,247.9C619,257.1 618.9,274.8 618.9,280.2C618.5,280.9 618,283.6 616.5,284.6C615.1,285.6 612.2,286.3 610.1,286.3C607.9,286.3 605,285.6 603.6,284.6C602.2,283.6 601.9,280.9 601.6,280.2C601.6,274.8 601.5,257.1 601.4,247.9C601.4,238.7 601.4,230 601.4,225C601.4,220.1 601.5,220.1 601.3,218.2C601.1,216.3 600.7,215.2 600.3,213.5C599.9,211.8 599.3,209.9 598.8,208.2C598.3,206.5 597.7,204.8 597,203.5C596.4,202.2 595.3,201.5 594.7,200.6C594.1,199.6 593.5,198.9 593.4,197.6C593.3,196.4 593.5,194.3 593.8,192.9C594.1,191.6 594.7,190.3 595.3,189.4C595.9,188.5 597,187.7 597.3,187.3Z" fill="#f6dfe0" stroke="#8e6468" stroke-width="1" stroke-linejoin="round"/><path d="M601.8,221.1Q610.1,222.3 618.8,221.1M601.8,226Q610.1,227.2 618.8,226M601.8,231Q610.1,232.1 618.8,231M601.8,235.9Q610.1,237.1 618.8,235.9M601.8,240.6Q610.1,241.8 618.8,240.6M601.8,245.6Q610.1,246.8 618.8,245.6M601.8,250.5Q610.1,251.7 618.8,250.5M601.8,255.4Q610.1,256.6 618.8,255.4M601.8,260.3Q610.1,261.5 618.8,260.3M601.8,265.4Q610.1,266.6 618.8,265.4M601.8,270.5Q610.1,271.7 618.8,270.5M601.8,275.6Q610.1,276.8 618.8,275.6" fill="none" stroke="#cda4a9" stroke-width="1.1"/><ellipse cx="609.38" cy="209.38" rx="6.2" ry="1.2" fill="#c9a9ad"/><path d="M612.31,197.63L612.31,204.68" stroke="#d3b4b8" stroke-width="0.9" fill="none"/><path d="M613.5,195.8L618.5,195.2L618.8,196.8L614.1,197.6Z" fill="#dbbcc0"/>
<defs><linearGradient id="eso" x1="0" y1="0" x2="0" y2="1"><stop offset="0" stop-color="#f5aeb0" stop-opacity="0"/><stop offset="0.09" stop-color="#f6c5c5" stop-opacity="0.55"/><stop offset="0.22" stop-color="#f5aeb0" stop-opacity="1"/><stop offset="1" stop-color="#f5aeb0"/></linearGradient><linearGradient id="esl" x1="0" y1="0" x2="0" y2="1"><stop offset="0" stop-color="#a97478" stop-opacity="0"/><stop offset="0.25" stop-color="#a97478" stop-opacity="1"/><stop offset="1" stop-color="#a97478"/></linearGradient></defs><path d="M605.3,374.2C605.6,376.6 606.2,384 606.6,388.4C607,392.9 607.4,396.9 608,401.1C608.7,405.3 609.9,410 610.4,413.7C610.9,417.4 611.4,420.6 611,423.2C610.7,425.8 609.7,428 608.2,429.5C606.7,431.1 605.3,431.6 602.2,432.4C599.1,433.2 593.3,433.2 589.5,434.3C585.7,435.3 582,436.7 579.3,438.7C576.5,440.7 574.5,443.3 572.9,446.1C571.4,448.9 570.4,453.3 569.9,455.6C569.5,457.9 570.2,459.2 570.2,459.9C571.8,460.6 577.9,463.6 579.4,464.3C579.6,463 580.2,457.7 580.4,456.4C581.4,455.5 584.1,451.5 586.4,451C588.7,450.5 591.6,452.1 594.3,453.2C596.9,454.4 598.7,457 602.2,458C605.6,459 610.1,459.7 614.8,459.2C619.6,458.8 625.4,457.5 630.6,455.4C635.9,453.4 642,450.7 646.4,447.2C650.8,443.8 654.5,438.9 657.2,434.6C659.8,430.3 661.7,425.6 662.2,421.6C662.7,417.7 661.7,414 660.2,410.9C658.6,407.8 655.9,404.9 653.1,403C650.2,401.1 646.5,399.9 643.3,399.5C640,399.2 636.9,399.7 633.8,400.9C630.7,402.2 626.7,405.3 624.6,407.1C622.5,408.9 621.7,410.8 621.1,411.5C620.7,410.8 619,409.4 618.3,407.4C617.6,405.4 617.2,402.7 616.7,399.5C616.2,396.3 615.8,392.7 615.5,388.4C615.1,384.2 614.9,376.6 614.8,374.2Z" fill="url(#eso)"/><path d="M586.4,451C587.7,451.4 591.6,452.1 594.3,453.2C596.9,454.4 598.7,457 602.2,458C605.6,459 610.1,459.7 614.8,459.2C619.6,458.8 625.4,457.5 630.6,455.4C635.9,453.4 642,450.7 646.4,447.2C650.8,443.8 654.5,438.9 657.2,434.6C659.8,430.3 661.7,425.6 662.2,421.6C662.7,417.7 660.5,412.7 660.2,410.9L657.8,412.1C658,413.7 659.6,417.8 659.1,421.3C658.5,424.8 656.8,429.1 654.3,433C651.8,436.9 648.1,441.3 644,444.5C640,447.8 634.7,450.4 629.8,452.3C625,454.2 619.3,455.3 614.8,455.8C610.3,456.2 606.3,455.6 603,454.8C599.7,454 597.8,451.5 595.1,450.9C592.3,450.2 587.8,451 586.4,451Z" fill="#dc8f93"/><path d="M569.9,455.6L570.2,459.9L579.4,464.3L580.4,456.4L575.3,455.8Z" fill="#e59a9d"/><path d="M605.3,374.2C605.6,376.6 606.2,384 606.6,388.4C607,392.9 607.4,396.9 608,401.1C608.7,405.3 609.9,410 610.4,413.7C610.9,417.4 611.4,420.6 611,423.2C610.7,425.8 609.7,428 608.2,429.5C606.7,431.1 605.3,431.6 602.2,432.4C599.1,433.2 593.3,433.2 589.5,434.3C585.7,435.3 582,436.7 579.3,438.7C576.5,440.7 574.5,443.3 572.9,446.1C571.4,448.9 570.4,453.3 569.9,455.6C569.5,457.9 570.2,459.2 570.2,459.9C571.8,460.6 577.9,463.6 579.4,464.3C579.6,463 580.2,457.7 580.4,456.4C581.4,455.5 584.1,451.5 586.4,451C588.7,450.5 591.6,452.1 594.3,453.2C596.9,454.4 598.7,457 602.2,458C605.6,459 610.1,459.7 614.8,459.2C619.6,458.8 625.4,457.5 630.6,455.4C635.9,453.4 642,450.7 646.4,447.2C650.8,443.8 654.5,438.9 657.2,434.6C659.8,430.3 661.7,425.6 662.2,421.6C662.7,417.7 661.7,414 660.2,410.9C658.6,407.8 655.9,404.9 653.1,403C650.2,401.1 646.5,399.9 643.3,399.5C640,399.2 636.9,399.7 633.8,400.9C630.7,402.2 626.7,405.3 624.6,407.1C622.5,408.9 621.7,410.8 621.1,411.5C620.7,410.8 619,409.4 618.3,407.4C617.6,405.4 617.2,402.7 616.7,399.5C616.2,396.3 615.8,392.7 615.5,388.4C615.1,384.2 614.9,376.6 614.8,374.2" fill="none" stroke="url(#esl)" stroke-width="1" stroke-linejoin="round"/><path d="M580.4,456.4L579.4,464.3" stroke="#a97478" stroke-width="0.9" fill="none"/>
<path d="M638.6,528.3L657.6,520.8L657.6,543.5L648.1,553L636.7,555.8Z" fill="#c4aeb1"/><path d="M561.2,487.6L561.6,487.3L562,487L562.5,486.8L563,486.8L563.5,486.8L564.1,487L564.5,487.2L565,487.4L565.4,487.7L565.8,488L566.2,488.4L566.7,488.4L567.2,488.5L567.7,488.6L568.2,488.7L568.7,488.8L569.2,489L569.6,489.2L570.1,489.4L570.5,489.6L571,489.8L571.4,490.1L572,490.1L572.5,490.1L573,490.1L573.5,490.2L574,490.3L574.5,490.4L574.9,490.6L575.4,490.8L575.8,491L576.3,491.3L576.7,491.5L577.3,491.5L577.8,491.5L578.3,491.5L578.8,491.6L579.3,491.7L579.8,491.8L580.2,491.9L580.7,492.1L581.2,492.3L581.6,492.6L582.1,492.8L582.6,492.7L583.2,492.7L583.7,492.6L584.2,492.6L584.7,492.7L585.2,492.8L585.6,492.9L586.1,493L586.6,493.2L587.1,493.3L587.6,493.5L588.1,493.4L588.6,493.3L589.1,493.2L589.6,493.1L590.1,493.1L590.6,493.1L591.1,493.1L591.6,493.2L592.1,493.3L592.6,493.4L593.1,493.5L593.6,493.3L594.1,493.2L594.6,493L595.1,492.9L595.6,492.8L596.1,492.7L596.6,492.7L597.1,492.7L597.6,492.8L598.1,492.8L598.6,492.8L599.1,492.6L599.5,492.4L600,492.2L600.5,492L601,491.9L601.5,491.8L602,491.8L602.5,491.7L603,491.7L603.5,491.7L604,491.7L604.5,491.5L604.9,491.2L605.4,491L605.8,490.8L606.3,490.7L606.8,490.5L607.3,490.4L607.8,490.4L608.3,490.4L608.8,490.3L609.3,490.3L609.8,490L610.2,489.7L610.6,489.5L611.1,489.3L611.6,489.1L612,488.9L612.5,488.8L613,488.7L613.5,488.7L614.1,488.7L614.6,488.6L615,488.3L615.4,488.1L615.9,487.8L616.4,487.6L616.8,487.4L617.3,487.3L617.8,487.2L618.3,487.2L618.8,487.1L619.3,487.1L619.8,487.1L620.3,486.8L620.7,486.6L621.2,486.4L621.7,486.2L622.2,486L622.6,485.9L623.1,485.9L623.6,485.8L624.2,485.8L624.7,485.8L625.2,485.8L625.6,485.5L626.1,485.3L626.6,485.1L627,484.9L627.5,484.8L628,484.6L628.5,484.6L629,484.5L629.5,484.5L630,484.5L630.5,484.5L631,484.2L631.4,483.9L631.9,483.7L632.3,483.5L632.8,483.3L633.3,483.2L633.8,483.1L634.3,483L634.8,482.9L635.3,482.9L635.8,482.8L636.2,482.5L636.6,482.2L637.1,482L637.5,481.7L638,481.6L638.5,481.4L639,481.3L639.5,481.2L640,481.2L640.5,481.2L641,481.2L641.5,480.9L641.9,480.7L642.4,480.4L642.8,480.2L643.3,480L643.7,479.9L644.2,479.7L644.7,479.6L645.2,479.6L645.7,479.6L646.2,479.5L646.7,479.3L647.2,479.2L647.7,479.2L648.2,479.3L648.8,479.5L649.1,479.9L649.5,480.3L649.6,480.8L649.8,481.3L649.9,481.8L650,482.3L650.4,482.7L650.6,483.1L650.9,483.5L651.1,484L651.3,484.5L651.4,485L651.5,485.5L651.5,486L651.5,486.5L651.5,487L651.5,487.5L651.8,488L652,488.4L652.2,488.9L652.3,489.4L652.5,489.9L652.5,490.4L652.6,490.9L652.6,491.4L652.6,491.9L652.5,492.4L652.6,492.9L652.8,493.4L653,493.8L653.2,494.3L653.3,494.8L653.5,495.3L653.5,495.8L653.6,496.3L653.6,496.8L653.5,497.3L653.5,497.8L653.5,498.3L653.7,498.8L653.9,499.3L654.1,499.7L654.2,500.2L654.3,500.7L654.4,501.2L654.4,501.7L654.3,502.2L654.2,502.7L654.1,503.3L654.1,503.8L654.3,504.2L654.5,504.7L654.6,505.2L654.6,505.7L654.7,506.2L654.6,506.7L654.6,507.2L654.5,507.7L654.3,508.2L654.1,508.7L654.1,509.2L654.2,509.7L654.3,510.2L654.3,510.7L654.3,511.3L654.2,511.8L654.2,512.3L654,512.7L653.8,513.2L653.6,513.7L653.4,514.2L653.3,514.6L653.4,515.2L653.4,515.7L653.4,516.2L653.3,516.7L653.2,517.2L653.1,517.7L652.9,518.1L652.7,518.6L652.5,519.1L652.2,519.5L652,520L652,520.5L652,521L652,521.5L651.9,522L651.7,522.5L651.6,523L651.3,523.4L651.1,523.9L650.8,524.3L650.5,524.7L650.3,525.2L650.2,525.7L650.1,526.2L650,526.7L649.8,527.2L649.6,527.6L649.3,528L649,528.4L648.7,528.8L648.3,529.2L647.9,529.5L647.6,529.8L647.3,530.3L647.1,530.8L646.7,531.1L646.4,531.5L645.9,531.8L645.5,532L645.1,532.3L644.6,532.4L644.1,532.6L643.6,532.7L643.2,533L642.8,533.4L642.4,533.7L642.1,534.1L641.7,534.4L641.4,534.8L641,535.1L640.7,535.4L640.3,535.8L640.1,536.2L639.8,536.7L639.7,537.2L639.8,537.7L639.9,538.2L640,538.7L640.2,539.1L640.2,539.6L640.3,540.1L640.3,540.6L640.3,541.1L640.2,541.7L640.1,542.1L640.1,542.6L640.2,543.1L640.2,543.7L640.2,544.2L640.1,544.7L639.9,545.2L639.7,545.6L639.4,546L639.1,546.4L638.7,546.8L638.3,547.2L638.1,547.6L637.9,548.1L637.7,548.6L637.5,549L637.3,549.5L637,549.9L636.7,550.3L636.3,550.6L635.9,551L635.5,551.3L635.1,551.6L634.9,552L634.7,552.5L634.4,553L634.2,553.4L633.9,553.8L633.6,554.2L633.2,554.6L632.8,554.9L632.4,555.2L632,555.4L631.5,555.7L631.2,556.1L630.9,556.5L630.7,557L630.4,557.4L630.1,557.8L629.8,558.2L629.5,558.6L629.1,558.9L628.8,559.3L628.3,559.6L627.9,559.8L627.5,560.1L627.2,560.5L626.8,560.9L626.4,561.1L625.9,561.3L625.3,561.4L624.8,561.3L624.3,561.2L623.8,561L623.4,560.8L622.9,560.6L622.4,560.5L621.9,560.5L621.4,560.4L620.9,560.3L620.4,560.2L619.9,560.1L619.5,559.9L619,559.7L618.6,559.4L618.1,559.2L617.7,558.9L617.2,558.8L616.7,558.8L616.1,558.9L615.7,559L615.3,559L614.9,559.3L614.8,559.6L614.7,560L614.6,560.5L614.6,561L614.5,561.5L614.6,562L614.8,562.5L614.7,563L614.5,563.5L614.1,563.9L613.6,564.1L613.1,564.3L612.6,564.3L612.1,564.3L611.6,564.3L611.1,564.2L610.6,564.4L610.1,564.6L609.6,564.7L609.1,564.9L608.6,564.9L608.1,565L607.6,565L607.1,565L606.6,564.9L606.1,564.8L605.6,564.7L605.1,564.8L604.6,564.9L604.1,565.1L603.6,565.2L603.1,565.2L602.6,565.3L602.1,565.3L601.6,565.2L601.1,565.1L600.6,565L600.1,564.9L599.6,565L599.1,565.2L598.6,565.3L598.1,565.4L597.6,565.5L597.1,565.5L596.6,565.5L596.1,565.4L595.6,565.3L595.1,565.2L594.6,565.1L594.1,565.1L593.6,565.3L593.1,565.4L592.6,565.5L592.1,565.5L591.6,565.5L591.1,565.4L590.6,565.3L590.1,565.2L589.7,565L589.2,564.8L588.7,564.8L588.2,564.9L587.6,564.9L587.1,564.9L586.6,564.9L586.1,564.8L585.7,564.7L585.2,564.5L584.7,564.3L584.3,564.1L583.8,563.8L583.3,563.8L582.8,563.7L582.3,563.7L581.8,563.7L581.3,563.5L580.8,563.4L580.3,563.2L579.9,563L579.4,562.7L579,562.4L578.6,562.1L578.1,562L577.6,562L577.1,561.9L576.6,561.8L576.1,561.6L575.7,561.3L575.2,561.1L574.8,560.8L574.4,560.5L574.1,560.1L573.7,559.7L573.2,559.6L572.7,559.5L572.2,559.3L571.7,559.1L571.3,559L570.8,558.8L570.4,558.5L569.9,558.3L569.5,558L569.1,557.8L568.6,557.5L568.1,557.5L567.6,557.5L567.1,557.5L566.6,557.4L566.1,557.3L565.6,557L565.2,556.7L564.8,556.3L564.6,555.9L564.4,555.4L564.3,554.9L564,554.5L563.7,554.1L563.4,553.7L563.2,553.2L563,552.7L562.9,552.2L562.9,551.7L562.9,551.2L563,550.7L563.1,550.2L563.2,549.7L563.1,549.2L563,548.7L562.9,548.2L562.9,547.6L563,547.1L563.1,546.6L563.2,546.1L563.4,545.7L563.7,545.2L563.9,544.8L564.2,544.4L564.3,543.9L564.3,543.3L564.4,542.8L564.5,542.3L564.6,541.8L564.8,541.4L565,540.9L565.2,540.5L565.5,540L565.7,539.6L566,539.2L566,538.6L566,538.1L566,537.6L566,537.1L566,536.6L566,536.2L566,535.7L566,535.2L566,534.7L565.9,534.2L565.7,533.7L565.3,533.4L564.9,533.1L564.4,532.8L564,532.5L563.6,532.2L563.3,531.8L563,531.4L562.7,530.9L562.5,530.5L562.3,530L562,529.5L561.6,529.3L561.2,529L560.7,528.7L560.3,528.4L560,528.1L559.6,527.7L559.4,527.2L559.1,526.8L558.9,526.3L558.8,525.8L558.7,525.3L558.4,524.9L558,524.5L557.8,524.1L557.5,523.6L557.3,523.2L557.2,522.7L557.1,522.2L557,521.7L557,521.2L557,520.7L557,520.1L556.8,519.7L556.5,519.2L556.3,518.8L556.1,518.3L556,517.8L555.9,517.3L555.9,516.8L555.9,516.3L555.9,515.8L556,515.3L556,514.8L555.8,514.3L555.6,513.8L555.5,513.3L555.4,512.8L555.3,512.3L555.3,511.8L555.3,511.3L555.3,510.8L555.4,510.3L555.6,509.8L555.7,509.3L555.6,508.8L555.4,508.3L555.3,507.8L555.3,507.3L555.3,506.8L555.3,506.3L555.4,505.8L555.5,505.3L555.7,504.8L555.9,504.3L556.1,503.9L556,503.3L555.9,502.8L555.9,502.3L555.9,501.8L556,501.3L556.1,500.8L556.2,500.3L556.4,499.9L556.6,499.4L556.8,498.9L557,498.5L557,498L557,497.4L557,496.9L557.1,496.4L557.1,495.9L557.3,495.4L557.4,495L557.6,494.5L557.9,494.1L558.1,493.6L558.4,493.2L558.4,492.6L558.4,492.1L558.5,491.6L558.6,491.1L558.7,490.6L558.9,490.2L559.2,489.7L559.5,489.3L559.8,488.9L560.2,488.6Z" fill="#f4e3e4" stroke="#a58b8f" stroke-width="0.9" stroke-linejoin="round"/><clipPath id="csi"><path d="M561.2,487.6L561.6,487.3L562,487L562.5,486.8L563,486.8L563.5,486.8L564.1,487L564.5,487.2L565,487.4L565.4,487.7L565.8,488L566.2,488.4L566.7,488.4L567.2,488.5L567.7,488.6L568.2,488.7L568.7,488.8L569.2,489L569.6,489.2L570.1,489.4L570.5,489.6L571,489.8L571.4,490.1L572,490.1L572.5,490.1L573,490.1L573.5,490.2L574,490.3L574.5,490.4L574.9,490.6L575.4,490.8L575.8,491L576.3,491.3L576.7,491.5L577.3,491.5L577.8,491.5L578.3,491.5L578.8,491.6L579.3,491.7L579.8,491.8L580.2,491.9L580.7,492.1L581.2,492.3L581.6,492.6L582.1,492.8L582.6,492.7L583.2,492.7L583.7,492.6L584.2,492.6L584.7,492.7L585.2,492.8L585.6,492.9L586.1,493L586.6,493.2L587.1,493.3L587.6,493.5L588.1,493.4L588.6,493.3L589.1,493.2L589.6,493.1L590.1,493.1L590.6,493.1L591.1,493.1L591.6,493.2L592.1,493.3L592.6,493.4L593.1,493.5L593.6,493.3L594.1,493.2L594.6,493L595.1,492.9L595.6,492.8L596.1,492.7L596.6,492.7L597.1,492.7L597.6,492.8L598.1,492.8L598.6,492.8L599.1,492.6L599.5,492.4L600,492.2L600.5,492L601,491.9L601.5,491.8L602,491.8L602.5,491.7L603,491.7L603.5,491.7L604,491.7L604.5,491.5L604.9,491.2L605.4,491L605.8,490.8L606.3,490.7L606.8,490.5L607.3,490.4L607.8,490.4L608.3,490.4L608.8,490.3L609.3,490.3L609.8,490L610.2,489.7L610.6,489.5L611.1,489.3L611.6,489.1L612,488.9L612.5,488.8L613,488.7L613.5,488.7L614.1,488.7L614.6,488.6L615,488.3L615.4,488.1L615.9,487.8L616.4,487.6L616.8,487.4L617.3,487.3L617.8,487.2L618.3,487.2L618.8,487.1L619.3,487.1L619.8,487.1L620.3,486.8L620.7,486.6L621.2,486.4L621.7,486.2L622.2,486L622.6,485.9L623.1,485.9L623.6,485.8L624.2,485.8L624.7,485.8L625.2,485.8L625.6,485.5L626.1,485.3L626.6,485.1L627,484.9L627.5,484.8L628,484.6L628.5,484.6L629,484.5L629.5,484.5L630,484.5L630.5,484.5L631,484.2L631.4,483.9L631.9,483.7L632.3,483.5L632.8,483.3L633.3,483.2L633.8,483.1L634.3,483L634.8,482.9L635.3,482.9L635.8,482.8L636.2,482.5L636.6,482.2L637.1,482L637.5,481.7L638,481.6L638.5,481.4L639,481.3L639.5,481.2L640,481.2L640.5,481.2L641,481.2L641.5,480.9L641.9,480.7L642.4,480.4L642.8,480.2L643.3,480L643.7,479.9L644.2,479.7L644.7,479.6L645.2,479.6L645.7,479.6L646.2,479.5L646.7,479.3L647.2,479.2L647.7,479.2L648.2,479.3L648.8,479.5L649.1,479.9L649.5,480.3L649.6,480.8L649.8,481.3L649.9,481.8L650,482.3L650.4,482.7L650.6,483.1L650.9,483.5L651.1,484L651.3,484.5L651.4,485L651.5,485.5L651.5,486L651.5,486.5L651.5,487L651.5,487.5L651.8,488L652,488.4L652.2,488.9L652.3,489.4L652.5,489.9L652.5,490.4L652.6,490.9L652.6,491.4L652.6,491.9L652.5,492.4L652.6,492.9L652.8,493.4L653,493.8L653.2,494.3L653.3,494.8L653.5,495.3L653.5,495.8L653.6,496.3L653.6,496.8L653.5,497.3L653.5,497.8L653.5,498.3L653.7,498.8L653.9,499.3L654.1,499.7L654.2,500.2L654.3,500.7L654.4,501.2L654.4,501.7L654.3,502.2L654.2,502.7L654.1,503.3L654.1,503.8L654.3,504.2L654.5,504.7L654.6,505.2L654.6,505.7L654.7,506.2L654.6,506.7L654.6,507.2L654.5,507.7L654.3,508.2L654.1,508.7L654.1,509.2L654.2,509.7L654.3,510.2L654.3,510.7L654.3,511.3L654.2,511.8L654.2,512.3L654,512.7L653.8,513.2L653.6,513.7L653.4,514.2L653.3,514.6L653.4,515.2L653.4,515.7L653.4,516.2L653.3,516.7L653.2,517.2L653.1,517.7L652.9,518.1L652.7,518.6L652.5,519.1L652.2,519.5L652,520L652,520.5L652,521L652,521.5L651.9,522L651.7,522.5L651.6,523L651.3,523.4L651.1,523.9L650.8,524.3L650.5,524.7L650.3,525.2L650.2,525.7L650.1,526.2L650,526.7L649.8,527.2L649.6,527.6L649.3,528L649,528.4L648.7,528.8L648.3,529.2L647.9,529.5L647.6,529.8L647.3,530.3L647.1,530.8L646.7,531.1L646.4,531.5L645.9,531.8L645.5,532L645.1,532.3L644.6,532.4L644.1,532.6L643.6,532.7L643.2,533L642.8,533.4L642.4,533.7L642.1,534.1L641.7,534.4L641.4,534.8L641,535.1L640.7,535.4L640.3,535.8L640.1,536.2L639.8,536.7L639.7,537.2L639.8,537.7L639.9,538.2L640,538.7L640.2,539.1L640.2,539.6L640.3,540.1L640.3,540.6L640.3,541.1L640.2,541.7L640.1,542.1L640.1,542.6L640.2,543.1L640.2,543.7L640.2,544.2L640.1,544.7L639.9,545.2L639.7,545.6L639.4,546L639.1,546.4L638.7,546.8L638.3,547.2L638.1,547.6L637.9,548.1L637.7,548.6L637.5,549L637.3,549.5L637,549.9L636.7,550.3L636.3,550.6L635.9,551L635.5,551.3L635.1,551.6L634.9,552L634.7,552.5L634.4,553L634.2,553.4L633.9,553.8L633.6,554.2L633.2,554.6L632.8,554.9L632.4,555.2L632,555.4L631.5,555.7L631.2,556.1L630.9,556.5L630.7,557L630.4,557.4L630.1,557.8L629.8,558.2L629.5,558.6L629.1,558.9L628.8,559.3L628.3,559.6L627.9,559.8L627.5,560.1L627.2,560.5L626.8,560.9L626.4,561.1L625.9,561.3L625.3,561.4L624.8,561.3L624.3,561.2L623.8,561L623.4,560.8L622.9,560.6L622.4,560.5L621.9,560.5L621.4,560.4L620.9,560.3L620.4,560.2L619.9,560.1L619.5,559.9L619,559.7L618.6,559.4L618.1,559.2L617.7,558.9L617.2,558.8L616.7,558.8L616.1,558.9L615.7,559L615.3,559L614.9,559.3L614.8,559.6L614.7,560L614.6,560.5L614.6,561L614.5,561.5L614.6,562L614.8,562.5L614.7,563L614.5,563.5L614.1,563.9L613.6,564.1L613.1,564.3L612.6,564.3L612.1,564.3L611.6,564.3L611.1,564.2L610.6,564.4L610.1,564.6L609.6,564.7L609.1,564.9L608.6,564.9L608.1,565L607.6,565L607.1,565L606.6,564.9L606.1,564.8L605.6,564.7L605.1,564.8L604.6,564.9L604.1,565.1L603.6,565.2L603.1,565.2L602.6,565.3L602.1,565.3L601.6,565.2L601.1,565.1L600.6,565L600.1,564.9L599.6,565L599.1,565.2L598.6,565.3L598.1,565.4L597.6,565.5L597.1,565.5L596.6,565.5L596.1,565.4L595.6,565.3L595.1,565.2L594.6,565.1L594.1,565.1L593.6,565.3L593.1,565.4L592.6,565.5L592.1,565.5L591.6,565.5L591.1,565.4L590.6,565.3L590.1,565.2L589.7,565L589.2,564.8L588.7,564.8L588.2,564.9L587.6,564.9L587.1,564.9L586.6,564.9L586.1,564.8L585.7,564.7L585.2,564.5L584.7,564.3L584.3,564.1L583.8,563.8L583.3,563.8L582.8,563.7L582.3,563.7L581.8,563.7L581.3,563.5L580.8,563.4L580.3,563.2L579.9,563L579.4,562.7L579,562.4L578.6,562.1L578.1,562L577.6,562L577.1,561.9L576.6,561.8L576.1,561.6L575.7,561.3L575.2,561.1L574.8,560.8L574.4,560.5L574.1,560.1L573.7,559.7L573.2,559.6L572.7,559.5L572.2,559.3L571.7,559.1L571.3,559L570.8,558.8L570.4,558.5L569.9,558.3L569.5,558L569.1,557.8L568.6,557.5L568.1,557.5L567.6,557.5L567.1,557.5L566.6,557.4L566.1,557.3L565.6,557L565.2,556.7L564.8,556.3L564.6,555.9L564.4,555.4L564.3,554.9L564,554.5L563.7,554.1L563.4,553.7L563.2,553.2L563,552.7L562.9,552.2L562.9,551.7L562.9,551.2L563,550.7L563.1,550.2L563.2,549.7L563.1,549.2L563,548.7L562.9,548.2L562.9,547.6L563,547.1L563.1,546.6L563.2,546.1L563.4,545.7L563.7,545.2L563.9,544.8L564.2,544.4L564.3,543.9L564.3,543.3L564.4,542.8L564.5,542.3L564.6,541.8L564.8,541.4L565,540.9L565.2,540.5L565.5,540L565.7,539.6L566,539.2L566,538.6L566,538.1L566,537.6L566,537.1L566,536.6L566,536.2L566,535.7L566,535.2L566,534.7L565.9,534.2L565.7,533.7L565.3,533.4L564.9,533.1L564.4,532.8L564,532.5L563.6,532.2L563.3,531.8L563,531.4L562.7,530.9L562.5,530.5L562.3,530L562,529.5L561.6,529.3L561.2,529L560.7,528.7L560.3,528.4L560,528.1L559.6,527.7L559.4,527.2L559.1,526.8L558.9,526.3L558.8,525.8L558.7,525.3L558.4,524.9L558,524.5L557.8,524.1L557.5,523.6L557.3,523.2L557.2,522.7L557.1,522.2L557,521.7L557,521.2L557,520.7L557,520.1L556.8,519.7L556.5,519.2L556.3,518.8L556.1,518.3L556,517.8L555.9,517.3L555.9,516.8L555.9,516.3L555.9,515.8L556,515.3L556,514.8L555.8,514.3L555.6,513.8L555.5,513.3L555.4,512.8L555.3,512.3L555.3,511.8L555.3,511.3L555.3,510.8L555.4,510.3L555.6,509.8L555.7,509.3L555.6,508.8L555.4,508.3L555.3,507.8L555.3,507.3L555.3,506.8L555.3,506.3L555.4,505.8L555.5,505.3L555.7,504.8L555.9,504.3L556.1,503.9L556,503.3L555.9,502.8L555.9,502.3L555.9,501.8L556,501.3L556.1,500.8L556.2,500.3L556.4,499.9L556.6,499.4L556.8,498.9L557,498.5L557,498L557,497.4L557,496.9L557.1,496.4L557.1,495.9L557.3,495.4L557.4,495L557.6,494.5L557.9,494.1L558.1,493.6L558.4,493.2L558.4,492.6L558.4,492.1L558.5,491.6L558.6,491.1L558.7,490.6L558.9,490.2L559.2,489.7L559.5,489.3L559.8,488.9L560.2,488.6Z"/></clipPath><path d="M561.7,498.5C562.6,498.3 565.2,497.2 567,497.2C568.7,497.2 571.6,497.2 572.2,498.5C572.7,499.8 570.4,503.1 570.2,505C570,507 569.9,509 570.9,510.2C571.9,511.4 573.9,511.8 576.1,512.2C578.3,512.6 581.5,512.3 583.9,512.8C586.3,513.4 588.7,514.4 590.5,515.5C592.2,516.5 593.9,518.1 594.4,519.4C594.8,520.7 594.1,522.2 593.1,523.3C592,524.4 589.6,525 587.8,525.9C586.1,526.8 583.5,528.1 582.6,528.5M563,501.1C562.9,502.4 562.2,506.3 562.4,508.9C562.6,511.5 563.4,514.7 564.4,516.8C565.3,518.8 566.3,520.7 568.3,521.3C570.2,522 573.5,521 576.1,520.7C578.7,520.3 581.8,519.8 583.9,519.4C586.1,518.9 588.3,518.3 589.1,518.1M585.2,501.1C586.1,500.2 589.1,497.4 590.5,495.9C591.8,494.4 592.6,492.6 593.1,492M586.5,501.1C587.6,501.4 590.9,502.2 593.1,503.1C595.2,503.9 597.7,505.1 599.6,506.3C601.4,507.5 603.3,510.2 604.1,510.2C605,510.2 604.7,507 604.8,506.3M597.6,493.9C598.4,494.4 600.3,495.9 602.2,496.5C604,497.2 606.8,497.3 608.7,497.8C610.7,498.4 612.6,498.6 613.9,499.8C615.2,501 616.3,502.8 616.5,505C616.8,507.2 615.9,510.4 615.2,512.8C614.6,515.2 613.9,518.1 612.6,519.4C611.3,520.7 609.6,520.6 607.4,520.7C605.2,520.8 601.8,520.3 599.6,520C597.4,519.7 595.2,518.9 594.4,518.7M613.9,488.1C615,488.5 618.3,489.8 620.5,490.7C622.6,491.5 625.2,493.1 627,493.3C628.7,493.5 629.4,493 630.9,492C632.4,490.9 634.4,488.5 636.1,486.7C637.9,485 640.5,482.4 641.3,481.5M627,493.3C627.1,494.6 626.8,499.1 627.6,501.1C628.5,503.1 630.9,503.5 632.2,505C633.5,506.5 635.3,508.5 635.5,510.2C635.7,512 634.3,513.9 633.5,515.5C632.7,517 631.3,518.7 630.9,519.4M620.5,515.5C620.9,514.4 622,510.7 623.1,508.9C624.2,507.2 626.3,505.7 627,505M641.3,493.3C642.2,493.9 646.1,495.4 646.6,497.2C647,498.9 644.8,500.7 644,503.7C643.1,506.8 642,512.2 641.3,515.5C640.7,518.7 640.3,522 640,523.3M634.8,515.5C635.7,515.7 638.5,516.8 640,516.8C641.6,516.8 643.3,515.7 644,515.5M628.3,525.9C628.7,525.5 630.5,523.7 630.9,523.3M612.6,520C613.5,520.6 616.5,521.9 617.9,523.3C619.2,524.7 619.6,526.8 620.5,528.5C621.3,530.2 621.3,532 623.1,533.7C624.8,535.5 628.3,538.5 630.9,538.9C633.5,539.4 637.4,536.8 638.7,536.3M569.6,527.2C570,526.5 570.9,524.3 572.2,523.3C573.5,522.3 576.5,521.6 577.4,521.3M568.3,529.8C569.1,530.9 571.5,534.8 573.5,536.3C575.4,537.9 578.3,538.9 580,538.9C581.8,538.9 582.4,537.6 583.9,536.3C585.5,535 587.4,532.6 589.1,531.1C590.9,529.6 592.8,528.3 594.4,527.2C595.9,526.1 597.6,525 598.3,524.6M578.7,527.2C578.9,528.1 579.8,531.5 580,532.4M598.3,524.6C598.9,524.4 600.7,523.3 602.2,523.3C603.7,523.3 606.8,523.3 607.4,524.6C608.1,525.9 605.9,529.4 606.1,531.1C606.3,532.8 607.2,534.1 608.7,535C610.2,535.9 613.7,535.5 615.2,536.3C616.8,537.2 616.8,538.7 617.9,540.2C618.9,541.8 621.1,544.6 621.8,545.5M607.4,527.2C607.8,526.8 609.6,525 610,524.6M576.1,541.5C577,541.3 579.1,540.9 581.3,540.2C583.5,539.6 586.8,538.3 589.1,537.6C591.5,537 593.5,536.1 595.7,536.3C597.8,536.5 600.2,537.6 602.2,538.9C604.1,540.2 606.1,542.4 607.4,544.2C608.7,545.9 610,547.9 610,549.4C610,550.9 608.7,552.6 607.4,553.3C606.1,553.9 604.6,553.7 602.2,553.3C599.8,552.9 596.1,551.5 593.1,550.7C590,549.8 586.5,548.9 583.9,548.1C581.3,547.2 578.7,546.5 577.4,545.5C576.1,544.4 576.3,542.2 576.1,541.5M582.6,546.1C583.5,545.6 585.9,543.5 587.8,542.9C589.8,542.2 592.4,542 594.4,542.2C596.3,542.4 598.7,543.8 599.6,544.2M594.4,537.6C595,538.1 597.6,539.8 598.3,540.2M612.6,540.2C613.5,541.1 616.5,543.9 617.9,545.5C619.2,547 620,548.7 620.5,549.4M617.9,545.5C618.6,545.4 621.7,544.9 622.4,544.8M576.1,552C577.4,552.4 580.9,553.9 583.9,554.6C587,555.3 590.9,555.5 594.4,555.9C597.8,556.3 603.1,557 604.8,557.2M615.2,558.5C615.7,558.1 616.1,556.1 617.9,555.9C619.6,555.7 624.4,557 625.7,557.2M633.5,495.9C634.4,495 637,492.2 638.7,490.7C640.5,489.1 643.1,487.4 644,486.7" fill="none" stroke="#957b80" stroke-width="1.2" stroke-linecap="round" clip-path="url(#csi)"/><path d="M560,480.6L560.5,480.4L561.1,480.3L561.6,480.3L562.1,480.5L562.5,480.7L562.9,481.1L563.3,481.5L563.6,482L564,482.3L564.5,482.3L565.1,482.4L565.6,482.5L566.1,482.6L566.5,482.9L566.9,483.2L567.3,483.6L567.6,484L568.1,484.1L568.7,484L569.2,483.9L569.7,483.9L570.2,484L570.7,484.1L571.2,484.4L571.6,484.7L572.1,485L572.6,484.9L573.1,484.8L573.6,484.6L574.1,484.6L574.6,484.6L575.1,484.8L575.6,485L576.1,485.3L576.5,485.6L577.1,485.4L577.6,485.2L578.1,485.1L578.6,485.1L579.1,485.2L579.6,485.3L580.1,485.6L580.5,485.9L581,486.1L581.5,485.9L582.1,485.8L582.6,485.7L583.1,485.8L583.6,485.9L584,486.2L584.5,486.5L584.9,486.9L585.4,487L585.9,486.9L586.5,486.8L587,486.8L587.5,486.9L587.9,487.1L588.4,487.4L588.8,487.7L589.3,488L589.8,487.9L590.3,487.7L590.8,487.5L591.3,487.4L591.8,487.4L592.3,487.5L592.8,487.6L593.3,487.9L593.9,488L594.3,487.7L594.8,487.4L595.3,487.2L595.8,487.1L596.3,487L596.8,487.1L597.3,487.2L597.8,487.4L598.3,487.4L598.8,487.1L599.2,486.8L599.7,486.5L600.2,486.4L600.7,486.3L601.2,486.4L601.7,486.5L602.3,486.7L602.8,486.5L603.2,486.2L603.6,485.9L604.1,485.6L604.6,485.5L605.1,485.4L605.6,485.5L606.1,485.6L606.7,485.7L607.1,485.4L607.5,485L608,484.7L608.4,484.4L608.9,484.3L609.4,484.2L609.9,484.2L610.5,484.3L611,484.3L611.4,483.9L611.8,483.5L612.2,483.2L612.6,482.9L613.1,482.8L613.6,482.8L614.2,482.8L614.7,482.9L615.2,482.8L615.6,482.4L616,482.1L616.5,481.8L617,481.6L617.5,481.5L618,481.6L618.5,481.7L619.1,481.8L619.5,481.6L620,481.2L620.4,480.9L620.9,480.7L621.4,480.6L621.9,480.5L622.4,480.6L622.9,480.7L623.5,480.8L623.9,480.5L624.3,480.1L624.8,479.8L625.2,479.6L625.7,479.5L626.2,479.5L626.8,479.5L627.3,479.6L627.8,479.7L628.2,479.2L628.6,478.9L629.1,478.6L629.5,478.3L630,478.2L630.5,478.2L631.1,478.2L631.6,478.3L632.1,478.2L632.5,477.8L632.9,477.4L633.3,477.1L633.8,476.9L634.3,476.8L634.8,476.8L635.3,476.8L635.9,476.9L636.3,476.6L636.7,476.2L637.1,475.9L637.6,475.6L638,475.5L638.6,475.4L639.1,475.4L639.6,475.5L640.2,475.6L640.6,475.2L641,474.9L641.4,474.6L641.9,474.3L642.4,474.2L642.9,474.2L643.4,474.3L644,474.4L644.5,474.5L644.9,474.1L645.4,473.8L645.8,473.5L646.3,473.4L646.8,473.3L647.3,473.3L647.9,473.5L648.4,473.6L648.9,473.5L649.3,473.2L649.8,472.9L650.3,472.7L650.8,472.6L651.3,472.6L651.8,472.7L652.3,472.9L652.8,473.2L653.3,473.1L653.8,473L654.4,473.1L654.8,473.5L655.1,474L655.3,474.5L655.2,475L655.1,475.6L654.8,476L655.1,476.5L655.1,477.1L654.9,477.6L654.5,478.1L653.9,478.2L653.4,478.2L652.8,478.1L652.3,477.9L651.8,477.8L651.3,478.1L650.8,478.3L650.4,478.5L649.9,478.5L649.4,478.5L648.9,478.4L648.3,478.2L647.8,477.9L647.3,478L646.9,478.3L646.4,478.5L645.9,478.8L645.4,478.9L644.9,478.9L644.4,478.8L643.9,478.7L643.3,478.6L642.9,478.8L642.5,479.2L642,479.5L641.6,479.8L641.1,479.9L640.6,480L640.1,479.9L639.5,479.8L639,479.7L638.6,480.1L638.2,480.5L637.7,480.8L637.3,481.1L636.8,481.2L636.3,481.3L635.8,481.2L635.2,481.1L634.7,481.2L634.3,481.6L633.9,482L633.5,482.3L633,482.5L632.6,482.7L632,482.7L631.5,482.6L630.9,482.5L630.5,482.8L630.1,483.2L629.7,483.5L629.2,483.8L628.8,484L628.3,484.1L627.7,484L627.2,484L626.6,483.8L626.2,484.2L625.8,484.5L625.4,484.8L624.9,485.1L624.4,485.2L623.9,485.2L623.4,485.1L622.8,485L622.3,484.9L621.9,485.3L621.4,485.6L621,485.9L620.5,486.1L620,486.2L619.5,486.2L619,486.1L618.4,486L617.9,486L617.5,486.4L617.1,486.8L616.6,487L616.2,487.2L615.7,487.3L615.2,487.3L614.6,487.2L614.1,487.1L613.6,487.4L613.2,487.8L612.8,488.1L612.4,488.4L611.9,488.6L611.4,488.7L610.9,488.7L610.3,488.6L609.8,488.5L609.4,488.9L609,489.3L608.6,489.6L608.1,489.9L607.6,490L607.1,490.1L606.6,490L606,489.9L605.5,489.8L605.1,490.2L604.7,490.6L604.2,490.9L603.7,491L603.2,491.1L602.7,491.1L602.2,491L601.6,490.8L601.1,490.9L600.7,491.2L600.3,491.5L599.8,491.8L599.3,491.9L598.8,491.9L598.3,491.9L597.7,491.7L597.2,491.5L596.7,491.7L596.3,492L595.8,492.3L595.3,492.5L594.8,492.5L594.3,492.5L593.8,492.4L593.3,492.2L592.8,491.9L592.3,492.2L591.8,492.5L591.3,492.6L590.8,492.7L590.3,492.7L589.7,492.5L589.3,492.3L588.8,492L588.4,491.7L587.8,491.9L587.3,492L586.8,492L586.2,492L585.8,491.8L585.3,491.5L584.9,491.2L584.5,490.8L584,490.7L583.5,490.8L582.9,490.9L582.4,490.9L581.9,490.9L581.5,490.7L581,490.5L580.5,490.2L580.1,489.9L579.5,489.9L579,490.1L578.5,490.3L578,490.3L577.5,490.3L577,490.1L576.5,489.9L576.1,489.6L575.6,489.3L575.1,489.5L574.5,489.7L574,489.8L573.5,489.8L573,489.7L572.5,489.6L572.1,489.3L571.6,489L571.1,488.7L570.6,488.9L570.1,489.1L569.5,489.1L569,489.1L568.6,488.9L568.1,488.7L567.7,488.3L567.3,487.9L566.8,487.8L566.2,487.9L565.7,488L565.2,487.9L564.7,487.8L564.2,487.6L563.8,487.3L563.4,486.9L563.1,486.4L562.5,486.4L562,486.4L561.4,486.4L560.9,486.2L560.5,486L560.1,485.6L559.8,485.2L559.6,484.7L559.5,484.1L559,483.9L558.6,483.5L558.4,483L558.2,482.5L558.3,481.9L558.5,481.4L558.9,481L559.4,480.8Z" fill="#c9b3b6"/><path d="M558.8,485.6L558.8,486.1L558.8,486.7L558.7,487.2L558.6,487.7L558.4,488.1L558.2,488.6L557.9,489L557.6,489.4L557.3,489.9L557.4,490.4L557.4,490.9L557.4,491.5L557.4,492L557.2,492.4L557,492.9L556.8,493.4L556.5,493.8L556.3,494.3L556.4,494.8L556.4,495.3L556.4,495.8L556.4,496.3L556.3,496.8L556.1,497.3L555.8,497.7L555.5,498.2L555.4,498.7L555.5,499.2L555.6,499.7L555.6,500.2L555.5,500.7L555.4,501.2L555.2,501.7L555,502.2L554.7,502.6L554.7,503.1L554.8,503.7L554.9,504.2L555,504.7L555,505.2L554.9,505.7L554.7,506.2L554.5,506.7L554.3,507.1L554.4,507.7L554.6,508.2L554.8,508.6L554.9,509.1L554.9,509.6L554.9,510.1L554.8,510.6L554.7,511.2L554.5,511.7L554.7,512.2L554.9,512.6L555.1,513.1L555.3,513.6L555.4,514.1L555.4,514.6L555.3,515.1L555.2,515.6L555.1,516.2L555.4,516.6L555.7,517.1L555.9,517.5L556.1,518L556.2,518.5L556.2,519L556.2,519.5L556.1,520L556.1,520.6L556.5,521L556.8,521.4L557,521.8L557.3,522.3L557.4,522.7L557.5,523.2L557.6,523.7L557.7,524.3L557.8,524.8L558.2,525.1L558.6,525.5L559,525.9L559.2,526.3L559.5,526.7L559.6,527.2L559.7,527.7L559.8,528.3L560,528.7L560.4,529.1L560.8,529.4L561.1,529.8L561.3,530.3L561.5,530.8L561.6,531.3L561.6,531.8L561.6,532.3L561.8,532.8L562.2,533.2L562.5,533.6L562.8,534L563,534.5L563.1,535L563.1,535.5L563.1,536L563.1,536.6L563.4,537L563.8,537.4L564.1,537.8L564.4,538.2L564.6,538.7L564.7,539.1L564.9,539.6L565,540.1L565.2,540.6L565.8,540.8L566.3,540.8L566.6,540.6L566.8,540.2L566.8,539.9L566.8,539.4L566.8,538.9L566.8,538.4L566.8,537.8L566.4,537.4L566.1,537L565.8,536.6L565.5,536.2L565.3,535.7L565.2,535.2L565.2,534.7L565.1,534.2L565.1,533.7L564.7,533.3L564.3,532.9L564,532.5L563.7,532.1L563.6,531.6L563.4,531.1L563.4,530.6L563.3,530L563.2,529.6L562.8,529.2L562.4,528.8L562.1,528.4L561.8,528L561.6,527.6L561.4,527.1L561.3,526.6L561.3,526L561,525.6L560.6,525.3L560.2,524.9L559.9,524.5L559.7,524L559.5,523.6L559.4,523.1L559.3,522.5L559.4,522L559.1,521.6L558.8,521.1L558.5,520.7L558.3,520.2L558.1,519.8L558.1,519.3L558.1,518.7L558.1,518.2L558.2,517.7L558,517.2L557.7,516.8L557.5,516.3L557.3,515.8L557.2,515.3L557.2,514.8L557.3,514.3L557.4,513.8L557.5,513.3L557.3,512.8L557,512.3L556.8,511.8L556.7,511.3L556.7,510.8L556.7,510.3L556.8,509.8L557,509.3L557.1,508.8L556.9,508.3L556.7,507.8L556.6,507.3L556.5,506.8L556.6,506.3L556.7,505.8L556.9,505.3L557.1,504.8L557.3,504.3L557.1,503.8L557,503.3L556.9,502.8L556.9,502.3L557,501.8L557.2,501.3L557.4,500.9L557.7,500.4L557.9,499.9L557.8,499.4L557.7,498.9L557.7,498.3L557.7,497.9L557.9,497.4L558.1,496.9L558.3,496.4L558.6,496L558.7,495.5L558.6,495L558.6,494.4L558.6,493.9L558.7,493.4L558.9,493L559.1,492.5L559.4,492.1L559.8,491.7L559.8,491.2L559.8,490.6L559.8,490.1L559.9,489.6L560.1,489.1L560.3,488.7L560.6,488.2L560.9,487.8L561.2,487.4L561.3,486.9L561.2,486.4L561.1,485.8L561,485.4L560.9,485L560.7,484.9L560.3,484.8L559.8,484.8L559.3,485Z" fill="#c9b3b6"/><path d="M555.4,458.6L555.8,458.3L556.3,458.1L556.8,457.9L557.3,457.8L557.8,457.8L558.4,457.9L558.8,458L559.3,458.3L559.7,458.6L560.1,458.9L560.5,459.3L561.1,459.3L561.6,459.3L562.1,459.3L562.6,459.4L563.1,459.5L563.6,459.6L564.1,459.8L564.5,460.1L564.9,460.5L565.3,460.8L565.7,461.2L566.1,461.4L566.7,461.4L567.2,461.5L567.7,461.6L568.2,461.7L568.7,461.9L569.1,462.1L569.5,462.4L569.9,462.7L570.3,463.1L570.7,463.5L571.1,463.7L571.7,463.7L572.2,463.8L572.7,463.8L573.2,463.9L573.7,464.1L574.1,464.3L574.6,464.5L575,464.8L575.4,465.2L575.8,465.6L576.2,465.8L576.7,465.8L577.3,465.8L577.8,465.9L578.3,465.9L578.8,466.1L579.3,466.2L579.7,466.4L580.1,466.7L580.6,467L581,467.3L581.4,467.6L582,467.6L582.5,467.5L583,467.4L583.6,467.4L584,467.5L584.5,467.5L585,467.7L585.5,467.9L586,468.1L586.4,468.3L586.9,468.5L587.4,468.4L588,468.3L588.4,468.1L588.9,467.9L589.4,467.8L589.9,467.8L590.4,467.8L590.9,467.8L591.4,467.8L591.9,467.9L592.5,468L593,467.8L593.4,467.4L593.8,467.1L594.2,466.8L594.7,466.6L595.1,466.4L595.6,466.3L596.1,466.2L596.6,466.2L597.2,466.2L597.7,466.2L598.2,466.1L598.6,465.7L599,465.4L599.5,465.1L599.9,464.9L600.4,464.8L600.9,464.7L601.4,464.7L602,464.7L602.5,464.8L603,464.9L603.5,464.9L604,464.7L604.4,464.4L604.9,464.2L605.4,464L605.9,463.9L606.4,463.8L606.9,463.9L607.4,463.9L607.9,464L608.4,464.1L609,464.3L609.4,464L609.9,463.7L610.4,463.5L610.8,463.3L611.3,463.2L611.8,463.1L612.3,463L612.8,463.1L613.3,463.1L613.9,463.2L614.4,463.2L614.9,463L615.3,462.6L615.7,462.3L616.1,462L616.6,461.8L617,461.6L617.5,461.4L618,461.3L618.5,461.3L619,461.2L619.6,461.2L620,460.9L620.4,460.6L620.8,460.2L621.2,459.9L621.6,459.6L622,459.4L622.5,459.2L623,459.1L623.5,459.1L624.1,459.1L624.6,459.1L625.1,458.9L625.5,458.6L625.9,458.2L626.3,457.9L626.8,457.7L627.2,457.5L627.7,457.4L628.2,457.3L628.7,457.3L629.3,457.3L629.8,457.3L630.3,457.2L630.7,456.9L631.1,456.6L631.6,456.3L632,456L632.5,455.8L633,455.7L633.5,455.6L634,455.5L634.5,455.5L635,455.6L635.6,455.6L636,455.2L636.4,454.9L636.8,454.5L637.2,454.3L637.7,454L638.1,453.9L638.6,453.8L639.1,453.7L639.7,453.7L640.2,453.7L640.7,453.7L641.2,453.4L641.6,453L642,452.7L642.4,452.5L642.9,452.2L643.4,452.1L643.8,452L644.4,451.9L644.9,451.9L645.4,452L645.9,452L646.4,451.8L646.8,451.5L647.3,451.2L647.7,451L648.2,450.8L648.7,450.6L649.2,450.5L649.7,450.5L650.2,450.5L650.7,450.6L651.3,450.7L651.8,450.6L652.2,450.3L652.7,450.1L653.1,449.8L653.6,449.7L654.1,449.6L654.6,449.5L655.1,449.5L655.7,449.6L656.2,449.8L656.7,450L657.2,450L657.6,449.8L658.2,449.7L658.7,449.6L659.2,449.6L659.7,449.6L660.2,449.7L660.7,449.9L661.2,450.1L661.6,450.4L662,450.7L662.4,451L663,451L663.5,451L664,451.1L664.5,451.2L665,451.4L665.4,451.7L665.8,452L666.2,452.4L666.5,452.9L666.7,453.3L666.9,453.8L667.3,454.1L667.8,454.4L668.2,454.7L668.6,455.1L668.9,455.5L669.1,455.9L669.3,456.4L669.4,456.9L669.5,457.4L669.4,458L669.4,458.5L669.6,459L669.9,459.4L670.1,459.9L670.3,460.4L670.5,460.9L670.5,461.4L670.5,461.9L670.4,462.4L670.2,462.9L670,463.4L669.7,463.8L669.7,464.3L669.8,464.9L670,465.4L670.1,465.9L670.1,466.4L670.1,466.9L670.1,467.4L670,467.9L669.8,468.4L669.6,468.9L669.4,469.3L669.3,469.8L669.5,470.4L669.6,470.9L669.8,471.4L669.8,471.9L669.9,472.4L669.8,472.9L669.7,473.4L669.6,473.9L669.4,474.4L669.2,474.8L669,475.3L669.2,475.8L669.4,476.4L669.5,476.9L669.6,477.4L669.7,477.8L669.7,478.3L669.6,478.8L669.5,479.3L669.4,479.8L669.2,480.4L669,480.9L669.2,481.4L669.5,481.8L669.6,482.3L669.8,482.8L669.9,483.3L670,483.8L670,484.3L669.9,484.8L669.8,485.3L669.6,485.8L669.5,486.4L669.6,486.9L669.8,487.3L670,487.8L670.2,488.3L670.3,488.8L670.4,489.3L670.4,489.8L670.3,490.3L670.2,490.8L670,491.3L669.8,491.8L669.8,492.3L670,492.8L670.2,493.3L670.3,493.8L670.4,494.3L670.4,494.8L670.4,495.3L670.3,495.8L670.1,496.3L669.9,496.8L669.7,497.3L669.6,497.8L669.8,498.3L670,498.8L670.1,499.3L670.2,499.8L670.2,500.3L670.1,500.8L670,501.3L669.9,501.8L669.7,502.3L669.4,502.8L669.3,503.3L669.4,503.8L669.6,504.3L669.7,504.8L669.8,505.3L669.8,505.8L669.8,506.3L669.7,506.8L669.5,507.3L669.3,507.8L669.1,508.3L668.9,508.8L669,509.3L669.2,509.8L669.3,510.3L669.4,510.8L669.4,511.3L669.4,511.8L669.3,512.3L669.2,512.8L669,513.3L668.8,513.8L668.5,514.3L668.6,514.8L668.8,515.3L668.9,515.8L669,516.3L669,516.8L669,517.3L668.9,517.8L668.7,518.3L668.5,518.8L668.3,519.3L668,519.7L668,520.2L668.1,520.7L668.2,521.3L668.3,521.8L668.3,522.3L668.3,522.8L668.2,523.3L668,523.8L667.8,524.2L667.5,524.7L667.3,525.2L667.1,525.6L667.2,526.2L667.3,526.7L667.4,527.2L667.4,527.7L667.4,528.2L667.3,528.7L667.1,529.2L666.9,529.7L666.6,530.1L666.3,530.6L666.1,531L666.2,531.6L666.3,532.1L666.3,532.6L666.3,533.1L666.3,533.6L666.1,534.1L666,534.6L665.7,535.1L665.5,535.5L665.2,535.9L664.8,536.4L664.9,536.9L665,537.4L665,538L665,538.5L664.9,539L664.8,539.5L664.6,539.9L664.4,540.4L664.1,540.8L663.8,541.3L663.5,541.7L663.4,542.2L663.5,542.7L663.5,543.3L663.5,543.8L663.4,544.3L663.3,544.8L663.1,545.2L662.9,545.7L662.6,546.1L662.2,546.5L661.9,546.9L661.7,547.4L661.8,548L661.8,548.5L661.7,549L661.6,549.5L661.5,550L661.2,550.4L661,550.9L660.7,551.3L660.3,551.7L659.9,552L659.7,552.5L659.6,553L659.6,553.5L659.5,554.1L659.3,554.6L659.2,555L658.9,555.5L658.6,555.9L658.3,556.2L657.9,556.6L657.4,556.9L657.1,557.3L657,557.8L656.9,558.3L656.8,558.9L656.6,559.3L656.3,559.8L656,560.2L655.7,560.6L655.3,560.9L654.9,561.2L654.5,561.5L654,561.8L653.8,562.3L653.7,562.8L653.5,563.3L653.3,563.8L653,564.2L652.7,564.6L652.4,565L651.9,565.3L651.5,565.6L651,565.8L650.6,566.1L650.3,566.5L650.1,567L649.9,567.5L649.6,567.9L649.3,568.3L649,568.7L648.6,569L648.2,569.3L647.7,569.5L647.2,569.7L646.7,569.9L646.3,570.2L646.1,570.7L645.8,571.1L645.4,571.5L645.1,571.9L644.7,572.2L644.2,572.5L643.8,572.7L643.3,572.8L642.7,572.9L642.2,573L641.8,573.2L641.4,573.6L641,574L640.7,574.3L640.3,574.6L639.8,574.9L639.3,575.1L638.9,575.2L638.3,575.3L637.8,575.3L637.3,575.3L636.8,575.4L636.4,575.8L636,576.1L635.6,576.4L635.1,576.7L634.7,576.9L634.2,577.1L633.7,577.2L633.2,577.2L632.6,577.2L632.1,577.2L631.6,577.1L631.2,577.4L630.7,577.7L630.3,578L629.8,578.2L629.3,578.4L628.8,578.5L628.3,578.5L627.8,578.5L627.3,578.5L626.8,578.4L626.2,578.2L625.8,578.4L625.3,578.7L624.8,578.9L624.3,579.1L623.8,579.2L623.3,579.2L622.8,579.2L622.3,579.2L621.8,579.1L621.3,578.9L620.8,578.7L620.3,578.8L619.8,579L619.3,579.2L618.8,579.3L618.3,579.4L617.8,579.5L617.3,579.4L616.8,579.3L616.3,579.1L615.8,578.9L615.4,578.6L614.9,578.5L614.4,578.6L613.8,578.7L613.3,578.7L612.8,578.7L612.3,578.6L611.8,578.5L611.4,578.3L610.9,578.1L610.4,577.8L610,577.5L609.5,577.4L608.9,577.6L608.5,577.9L608,578.2L607.7,578.5L607.4,578.7L607.1,579.1L606.9,579.4L606.6,579.8L606.3,580.3L606,580.7L605.7,581.2L605.9,581.7L606.1,582.2L606.3,582.7L606.5,583.2L606.7,583.6L606.9,584.1L607,584.5L607.1,585.1L607.1,585.6L607,586.1L607,586.6L607.2,587.1L607.5,587.5L607.7,588L607.9,588.5L607.9,589.1L607.8,589.6L607.7,590.1L607.4,590.5L607.1,591L606.7,591.3L606.3,591.7L606.1,592.2L606,592.7L605.9,593.2L605.8,593.7L605.7,594.2L605.5,594.6L605.3,595.1L605,595.5L604.8,595.9L604.5,596.4L604.3,596.9L604.3,597.4L604.5,597.9L604.8,598.4L605.1,598.8L605.3,599.2L605.5,599.7L605.6,600.2L605.7,600.7L605.8,601.2L605.7,601.7L605.7,602.3L605.7,602.7L605.9,603.2L606.1,603.7L606.3,604.2L606.3,604.7L606.2,605.3L606.1,605.7L605.9,606.2L605.6,606.7L605.3,607.1L604.9,607.5L604.6,607.9L604.6,608.4L604.5,608.9L604.5,609.5L604.3,610L604.2,610.4L603.9,610.9L603.6,611.3L603.3,611.7L602.9,612L602.4,612.3L602,612.6L601.8,613L601.5,613.5L601.1,613.9L600.6,614L599.9,613.8L599.5,613.3L599.2,612.9L599.1,612.4L599,611.8L599,611.3L599.1,610.8L598.8,610.3L598.5,609.9L598.2,609.5L597.9,609.1L597.6,608.6L597.4,608.2L597.3,607.7L597.2,607.2L597.1,606.7L597.1,606.1L597.1,605.6L597,605.1L596.6,604.7L596.3,604.3L596,603.9L595.7,603.5L595.5,603L595.3,602.5L595.3,602L595.2,601.5L595.2,601L595.3,600.5L595.3,599.9L595,599.5L594.7,599L594.5,598.6L594.4,598L594.3,597.5L594.4,597L594.6,596.5L594.8,596L595.1,595.6L595.5,595.2L595.8,594.8L595.8,594.2L595.8,593.7L595.8,593.2L595.8,592.7L595.8,592.2L595.9,591.7L595.9,591.3L596,590.8L596,590.3L596,589.8L596,589.2L595.6,588.9L595.2,588.5L594.8,588.2L594.4,587.9L594,587.5L593.7,587.1L593.5,586.7L593.2,586.2L593.1,585.7L592.9,585.2L592.8,584.7L592.5,584.3L592.1,584L591.7,583.6L591.4,583.2L591.1,582.8L590.9,582.3L590.8,581.8L590.7,581.3L590.7,580.8L590.8,580.2L590.9,579.7L590.8,579.2L590.5,578.8L590.3,578.3L590.1,577.8L590,577.3L589.9,576.8L590,576.3L590.1,575.8L590.3,575.3L590.5,574.8L590.7,574.3L590.9,573.8L590.8,573.3L590.7,572.8L590.6,572.3L590.7,571.7L590.8,571.2L591,570.8L591.3,570.3L591.7,569.9L592.1,569.6L592.6,569.4L593,569.1L593.3,568.7L593.6,568.3L594,567.9L594.4,567.6L594.8,567.3L595.3,567.2L595.8,567.1L596.3,567L596.9,567L597.4,567.1L597.9,567.2L598.4,566.9L598.8,566.7L599.3,566.4L599.8,566.2L600.2,566L600.7,565.9L601.2,565.9L601.7,565.9L602.3,565.9L602.8,566L603.3,566.2L603.8,566L604.2,565.8L604.7,565.5L605.2,565.3L605.7,565.2L606.2,565.1L606.7,565.1L607.2,565.2L607.7,565.3L608.2,565.4L608.7,565.6L609.2,565.6L609.7,565.3L610.2,565.1L610.7,564.9L611.2,564.8L611.7,564.7L612.2,564.7L612.7,564.8L613.2,564.8L613.7,565L614.2,565.1L614.7,565.1L615.2,564.9L615.7,564.6L616.2,564.4L616.7,564.3L617.2,564.2L617.7,564.2L618.2,564.2L618.7,564.3L619.2,564.4L619.7,564.5L620.2,564.6L620.7,564.3L621.2,564L621.6,563.8L622.1,563.6L622.5,563.4L623,563.3L623.5,563.2L624,563.2L624.5,563.2L625.1,563.2L625.6,563.2L626,562.9L626.4,562.5L626.8,562.1L627.2,561.8L627.6,561.6L628.1,561.3L628.5,561.1L629,561L629.5,560.9L630,560.8L630.6,560.7L630.9,560.4L631.3,559.9L631.6,559.5L631.9,559.1L632.3,558.8L632.7,558.5L633.1,558.2L633.5,558L634,557.8L634.5,557.6L635,557.4L635.4,557.1L635.6,556.6L635.9,556.1L636.2,555.7L636.5,555.3L636.8,554.9L637.2,554.6L637.6,554.3L638.1,554.1L638.6,553.8L639,553.6L639.5,553.3L639.7,552.9L639.9,552.4L640.2,551.9L640.5,551.5L640.8,551.1L641.1,550.8L641.5,550.5L642,550.2L642.5,550L642.9,549.7L643.4,549.5L643.6,549L643.8,548.5L644,548L644.2,547.5L644.5,547.1L644.8,546.7L645.1,546.4L645.5,546L645.9,545.7L646.4,545.4L646.8,545.1L646.9,544.6L647,544L647.1,543.5L647.3,543L647.5,542.6L647.7,542.1L648,541.7L648.3,541.3L648.6,540.9L649,540.6L649.4,540.2L649.5,539.7L649.6,539.2L649.6,538.6L649.7,538.1L649.8,537.7L650,537.2L650.2,536.7L650.5,536.3L650.8,535.9L651.1,535.5L651.5,535.1L651.6,534.6L651.6,534.1L651.5,533.5L651.6,533L651.6,532.5L651.7,532L651.9,531.5L652.1,531.1L652.3,530.6L652.6,530.2L652.9,529.7L653.1,529.3L653,528.7L652.9,528.2L652.8,527.7L652.8,527.2L652.8,526.7L652.9,526.2L653.1,525.7L653.3,525.2L653.5,524.8L653.8,524.3L654,523.8L653.9,523.3L653.8,522.8L653.7,522.3L653.7,521.7L653.7,521.2L653.8,520.8L653.9,520.3L654.1,519.8L654.4,519.3L654.6,518.9L654.9,518.4L654.8,517.9L654.7,517.3L654.6,516.8L654.5,516.3L654.5,515.8L654.6,515.3L654.7,514.8L654.9,514.3L655.1,513.9L655.3,513.4L655.6,512.9L655.5,512.4L655.4,511.9L655.2,511.4L655.2,510.9L655.1,510.4L655.1,509.9L655.2,509.4L655.4,508.9L655.5,508.4L655.7,507.9L656,507.4L656,506.9L655.8,506.4L655.6,505.9L655.5,505.4L655.4,504.9L655.4,504.4L655.5,503.9L655.6,503.4L655.7,502.9L655.9,502.4L656.1,501.9L656.1,501.4L655.9,500.9L655.8,500.4L655.6,499.9L655.5,499.4L655.5,498.9L655.5,498.4L655.5,497.9L655.7,497.4L655.8,496.9L656,496.4L656.1,495.9L655.9,495.4L655.7,494.9L655.5,494.4L655.4,493.9L655.4,493.4L655.3,492.9L655.4,492.4L655.5,491.9L655.6,491.4L655.8,490.9L655.9,490.4L655.7,489.9L655.5,489.4L655.3,488.9L655.1,488.4L655,488L654.9,487.5L654.9,487L655,486.5L655.1,485.9L655.2,485.4L655.3,484.9L655.2,484.4L654.9,483.9L654.7,483.5L654.5,483L654.4,482.5L654.3,482L654.3,481.5L654.3,481L654.4,480.5L654.6,480L654.8,479.5L654.7,479L654.6,478.5L654.4,478L654.3,477.5L654.2,477L654.2,476.5L654.2,476L654.3,475.5L654.4,475L654.5,474.5L654.6,473.9L654.4,473.3L653.9,473.1L653.4,472.9L653,472.9L652.5,472.9L652,473L651.5,473L651.1,473L650.5,472.9L650,472.9L649.5,472.8L649,472.8L648.5,473.1L648.1,473.4L647.7,473.7L647.2,473.9L646.7,474.1L646.2,474.2L645.7,474.2L645.2,474.2L644.7,474.1L644.1,474L643.6,473.9L643.2,474.3L642.7,474.6L642.3,474.8L641.8,475.1L641.4,475.3L640.9,475.4L640.4,475.5L639.9,475.5L639.4,475.5L638.8,475.5L638.3,475.4L637.8,475.7L637.4,476L637,476.4L636.6,476.6L636.1,476.9L635.7,477.1L635.2,477.2L634.7,477.2L634.1,477.3L633.6,477.3L633.1,477.2L632.6,477.5L632.2,477.8L631.8,478.1L631.4,478.4L630.9,478.7L630.5,478.9L630,479L629.5,479.1L629,479.1L628.4,479.1L627.9,479L627.4,479.1L627,479.5L626.5,479.8L626.1,480L625.6,480.3L625.2,480.4L624.7,480.5L624.2,480.6L623.6,480.6L623.1,480.5L622.6,480.5L622.1,480.4L621.6,480.8L621.2,481.1L620.7,481.3L620.3,481.5L619.8,481.7L619.3,481.8L618.8,481.9L618.3,481.9L617.8,481.8L617.2,481.8L616.7,481.7L616.3,482L615.8,482.4L615.4,482.7L615,482.9L614.5,483.1L614,483.3L613.6,483.4L613.1,483.4L612.5,483.5L612,483.4L611.5,483.4L611,483.7L610.6,484.1L610.2,484.4L609.8,484.7L609.3,484.9L608.8,485.1L608.4,485.2L607.9,485.3L607.3,485.3L606.8,485.2L606.3,485.2L605.8,485.3L605.4,485.7L604.9,485.9L604.5,486.2L604,486.4L603.5,486.5L603,486.6L602.5,486.6L602,486.6L601.5,486.5L600.9,486.4L600.4,486.5L600,486.7L599.5,487L599,487.2L598.6,487.4L598.1,487.5L597.6,487.6L597.1,487.6L596.6,487.5L596,487.4L595.5,487.3L595,487.2L594.5,487.5L594.1,487.7L593.6,487.9L593.1,488.1L592.6,488.1L592.1,488.1L591.6,488.1L591.1,488L590.6,487.8L590.1,487.6L589.6,487.3L589.1,487.5L588.6,487.6L588,487.6L587.5,487.7L587,487.6L586.5,487.5L586.1,487.3L585.6,487L585.2,486.8L584.7,486.4L584.3,486.1L583.8,486.1L583.2,486.2L582.7,486.3L582.2,486.3L581.7,486.3L581.2,486.2L580.7,486.1L580.3,485.9L579.8,485.7L579.3,485.5L578.8,485.2L578.3,485.2L577.8,485.3L577.3,485.5L576.8,485.5L576.3,485.6L575.8,485.5L575.3,485.4L574.8,485.3L574.3,485.1L573.8,484.9L573.4,484.6L572.9,484.5L572.4,484.6L571.8,484.8L571.3,484.8L570.8,484.8L570.3,484.8L569.8,484.7L569.3,484.5L568.9,484.2L568.4,484L568,483.6L567.6,483.4L567.1,483.4L566.5,483.3L566,483.3L565.5,483.1L565,482.9L564.6,482.7L564.2,482.4L563.8,482L563.5,481.6L563.1,481.2L562.8,480.8L562.2,480.8L561.7,480.7L561.2,480.7L560.7,480.6L560.3,480.6L560,480.7L559.7,480.8L559.5,481.1L559.3,481.6L559.1,482.1L558.9,482.6L559,483.1L559.3,483.6L559.4,484.1L559.5,484.6L559.5,485.1L559.5,485.6L559.3,486.2L559.1,486.6L558.8,487.1L558.5,487.5L558.1,487.9L558,488.4L558.1,488.9L558.1,489.4L558,490L557.9,490.5L557.8,490.9L557.6,491.4L557.4,491.9L557.1,492.3L556.8,492.7L556.5,493.2L556.4,493.7L556.5,494.2L556.5,494.7L556.6,495.2L556.5,495.7L556.5,496.2L556.4,496.7L556.2,497.2L556,497.7L555.7,498.1L555.4,498.6L555.2,499L555.3,499.6L555.4,500.1L555.5,500.6L555.5,501.1L555.5,501.6L555.4,502.1L555.2,502.6L555,503.1L554.8,503.5L554.6,504L554.3,504.5L554.5,505L554.7,505.5L554.8,506L554.9,506.5L554.9,507L554.9,507.5L554.9,508L554.8,508.5L554.6,509L554.5,509.5L554.3,510L554.5,510.5L554.7,511L554.9,511.5L555.1,512L555.2,512.5L555.3,513L555.3,513.5L555.3,514L555.2,514.5L555.1,515L555,515.5L555.1,516L555.4,516.5L555.7,516.9L555.9,517.4L556.1,517.9L556.2,518.3L556.3,518.8L556.3,519.3L556.3,519.9L556.3,520.4L556.2,520.9L556.4,521.4L556.7,521.8L557,522.2L557.4,522.6L557.6,523.1L557.9,523.5L558.1,524L558.2,524.4L558.3,524.9L558.4,525.5L558.5,526L558.6,526.5L559.1,526.8L559.5,527.2L559.8,527.5L560.2,527.9L560.5,528.3L560.7,528.8L560.8,529.3L561,529.8L561,530.3L561,530.8L561.1,531.4L561.5,531.7L561.9,532.1L562.2,532.5L562.5,532.9L562.8,533.3L563,533.8L563.2,534.3L563.3,534.8L563.3,535.3L563.4,535.8L563.4,536.4L563.7,536.8L564,537.2L564.4,537.6L564.6,538L564.9,538.5L565,539L565.1,539.5L565,540L565,540.5L564.8,541L564.7,541.6L564.8,542L565,542.5L565.1,543L565.2,543.6L565.2,544.1L565.1,544.6L565,545.1L564.8,545.6L564.5,546L564.2,546.4L563.9,546.9L563.7,547.3L563.7,547.9L563.7,548.4L563.6,548.9L563.5,549.4L563.3,549.9L563.1,550.3L562.8,550.7L562.4,551.1L562.1,551.5L561.6,551.8L561.3,552.2L561.3,552.8L561.2,553.3L561.1,553.8L561,554.3L560.8,554.8L560.6,555.2L560.3,555.6L560,556L559.6,556.4L559.2,556.8L558.9,557.2L558.9,557.7L558.9,558.3L558.9,558.8L558.8,559.3L558.7,559.8L558.5,560.3L558.3,560.7L558.1,561.2L557.8,561.6L557.4,562L557.1,562.4L557.1,563L557.2,563.5L557.2,564L557.2,564.5L557.2,565L557.1,565.5L557,566L556.9,566.4L556.7,566.9L556.6,567.4L556.5,568L556.8,568.5L557.1,568.9L557.5,569.3L557.8,569.6L558.1,570.1L558.4,570.5L558.6,571L558.3,571.8L557.7,571.4L557.5,571L557.2,570.5L556.9,570.2L556.4,569.9L555.9,569.7L555.5,569.4L555.1,569L554.8,568.6L554.5,568.2L554.4,567.7L554.3,567.1L554.3,566.6L554.3,566.1L554.2,565.6L553.8,565.2L553.5,564.8L553.2,564.4L552.9,563.9L552.7,563.5L552.5,563L552.3,562.6L552.2,562.1L552.1,561.6L551.9,561.1L551.6,560.6L551.1,560.4L550.6,560.2L550.1,560.1L549.7,560L549.2,559.8L548.8,559.6L548.3,559.3L547.9,559L547.5,558.7L547.1,558.3L546.7,557.9L546.2,557.9L545.7,557.8L545.2,557.7L544.7,557.6L544.2,557.4L543.8,557.1L543.4,556.7L543.1,556.3L542.8,555.9L542.5,555.5L542.2,555L541.8,554.8L541.3,554.6L540.8,554.4L540.3,554.2L539.9,553.9L539.5,553.6L539.1,553.2L538.9,552.8L538.6,552.3L538.4,551.8L538.2,551.3L537.9,550.9L537.4,550.7L537,550.4L536.6,550L536.3,549.7L536,549.2L535.7,548.8L535.6,548.3L535.5,547.8L535.4,547.3L535.4,546.7L535.2,546.2L534.8,545.9L534.5,545.5L534.2,545.1L533.9,544.6L533.7,544.2L533.5,543.7L533.4,543.2L533.4,542.7L533.4,542.2L533.4,541.6L533.4,541.1L533,540.7L532.7,540.3L532.4,539.8L532.2,539.4L532,538.9L531.9,538.4L531.8,537.9L531.8,537.4L531.8,536.9L531.9,536.3L532,535.8L531.7,535.4L531.4,534.9L531.1,534.5L530.9,534L530.7,533.5L530.6,533L530.6,532.5L530.6,532L530.6,531.5L530.7,531L530.8,530.4L530.6,530L530.4,529.5L530.1,529L529.9,528.6L529.8,528.1L529.7,527.6L529.7,527.1L529.7,526.6L529.8,526.1L530,525.5L530.1,525L530.1,524.5L529.8,524L529.6,523.6L529.5,523.1L529.4,522.5L529.3,522L529.4,521.5L529.5,521.1L529.6,520.5L529.8,520.1L530,519.6L530.1,519.1L530,518.6L529.8,518L529.7,517.5L529.7,517L529.7,516.5L529.8,516L530,515.5L530.2,515.1L530.4,514.6L530.7,514.1L530.9,513.7L530.8,513.1L530.7,512.6L530.6,512.1L530.6,511.6L530.7,511.1L530.8,510.6L530.9,510.1L531.1,509.6L531.4,509.2L531.7,508.7L532,508.3L531.9,507.8L531.8,507.2L531.8,506.7L531.7,506.2L531.8,505.7L531.9,505.2L532,504.7L532.2,504.3L532.5,503.8L532.8,503.3L533.1,502.9L533.1,502.4L533,501.9L532.9,501.3L532.9,500.8L532.9,500.3L533,499.8L533.2,499.3L533.4,498.9L533.6,498.4L533.9,498L534.2,497.5L534.3,497L534.2,496.5L534.1,496L534.1,495.4L534.2,494.9L534.3,494.4L534.4,494L534.6,493.5L534.9,493.1L535.2,492.6L535.5,492.2L535.7,491.7L535.6,491.2L535.6,490.7L535.6,490.1L535.7,489.6L535.8,489.1L536,488.7L536.2,488.2L536.5,487.8L536.8,487.4L537.1,487L537.4,486.5L537.4,486L537.4,485.5L537.5,484.9L537.6,484.4L537.7,484L537.9,483.5L538.2,483.1L538.5,482.6L538.8,482.2L539.2,481.9L539.6,481.5L539.6,481L539.6,480.4L539.7,479.9L539.8,479.4L540,478.9L540.2,478.5L540.4,478L540.7,477.6L541.1,477.2L541.5,476.9L541.9,476.5L542,476L542,475.5L542,474.9L542.1,474.4L542.3,473.9L542.5,473.5L542.7,473L543,472.6L543.3,472.2L543.7,471.8L544.1,471.4L544.2,471L544.2,470.4L544.3,469.9L544.4,469.4L544.5,468.9L544.7,468.4L544.9,468L545.2,467.6L545.6,467.2L546,466.8L546.4,466.5L546.7,466.1L546.7,465.5L546.8,465L547,464.5L547.2,464.1L547.5,463.6L547.8,463.2L548.2,462.9L548.7,462.6L549.1,462.4L549.6,462.1L550,461.9L550.3,461.4L550.5,460.9L550.8,460.5L551.1,460.1L551.5,459.7L551.9,459.5L552.4,459.2L552.9,459.1L553.4,459L554,458.9Z" fill="#ecdadc" stroke="#a58b8f" stroke-width="1" stroke-linejoin="round"/><clipPath id="ccol"><path d="M555.4,458.6L555.8,458.3L556.3,458.1L556.8,457.9L557.3,457.8L557.8,457.8L558.4,457.9L558.8,458L559.3,458.3L559.7,458.6L560.1,458.9L560.5,459.3L561.1,459.3L561.6,459.3L562.1,459.3L562.6,459.4L563.1,459.5L563.6,459.6L564.1,459.8L564.5,460.1L564.9,460.5L565.3,460.8L565.7,461.2L566.1,461.4L566.7,461.4L567.2,461.5L567.7,461.6L568.2,461.7L568.7,461.9L569.1,462.1L569.5,462.4L569.9,462.7L570.3,463.1L570.7,463.5L571.1,463.7L571.7,463.7L572.2,463.8L572.7,463.8L573.2,463.9L573.7,464.1L574.1,464.3L574.6,464.5L575,464.8L575.4,465.2L575.8,465.6L576.2,465.8L576.7,465.8L577.3,465.8L577.8,465.9L578.3,465.9L578.8,466.1L579.3,466.2L579.7,466.4L580.1,466.7L580.6,467L581,467.3L581.4,467.6L582,467.6L582.5,467.5L583,467.4L583.6,467.4L584,467.5L584.5,467.5L585,467.7L585.5,467.9L586,468.1L586.4,468.3L586.9,468.5L587.4,468.4L588,468.3L588.4,468.1L588.9,467.9L589.4,467.8L589.9,467.8L590.4,467.8L590.9,467.8L591.4,467.8L591.9,467.9L592.5,468L593,467.8L593.4,467.4L593.8,467.1L594.2,466.8L594.7,466.6L595.1,466.4L595.6,466.3L596.1,466.2L596.6,466.2L597.2,466.2L597.7,466.2L598.2,466.1L598.6,465.7L599,465.4L599.5,465.1L599.9,464.9L600.4,464.8L600.9,464.7L601.4,464.7L602,464.7L602.5,464.8L603,464.9L603.5,464.9L604,464.7L604.4,464.4L604.9,464.2L605.4,464L605.9,463.9L606.4,463.8L606.9,463.9L607.4,463.9L607.9,464L608.4,464.1L609,464.3L609.4,464L609.9,463.7L610.4,463.5L610.8,463.3L611.3,463.2L611.8,463.1L612.3,463L612.8,463.1L613.3,463.1L613.9,463.2L614.4,463.2L614.9,463L615.3,462.6L615.7,462.3L616.1,462L616.6,461.8L617,461.6L617.5,461.4L618,461.3L618.5,461.3L619,461.2L619.6,461.2L620,460.9L620.4,460.6L620.8,460.2L621.2,459.9L621.6,459.6L622,459.4L622.5,459.2L623,459.1L623.5,459.1L624.1,459.1L624.6,459.1L625.1,458.9L625.5,458.6L625.9,458.2L626.3,457.9L626.8,457.7L627.2,457.5L627.7,457.4L628.2,457.3L628.7,457.3L629.3,457.3L629.8,457.3L630.3,457.2L630.7,456.9L631.1,456.6L631.6,456.3L632,456L632.5,455.8L633,455.7L633.5,455.6L634,455.5L634.5,455.5L635,455.6L635.6,455.6L636,455.2L636.4,454.9L636.8,454.5L637.2,454.3L637.7,454L638.1,453.9L638.6,453.8L639.1,453.7L639.7,453.7L640.2,453.7L640.7,453.7L641.2,453.4L641.6,453L642,452.7L642.4,452.5L642.9,452.2L643.4,452.1L643.8,452L644.4,451.9L644.9,451.9L645.4,452L645.9,452L646.4,451.8L646.8,451.5L647.3,451.2L647.7,451L648.2,450.8L648.7,450.6L649.2,450.5L649.7,450.5L650.2,450.5L650.7,450.6L651.3,450.7L651.8,450.6L652.2,450.3L652.7,450.1L653.1,449.8L653.6,449.7L654.1,449.6L654.6,449.5L655.1,449.5L655.7,449.6L656.2,449.8L656.7,450L657.2,450L657.6,449.8L658.2,449.7L658.7,449.6L659.2,449.6L659.7,449.6L660.2,449.7L660.7,449.9L661.2,450.1L661.6,450.4L662,450.7L662.4,451L663,451L663.5,451L664,451.1L664.5,451.2L665,451.4L665.4,451.7L665.8,452L666.2,452.4L666.5,452.9L666.7,453.3L666.9,453.8L667.3,454.1L667.8,454.4L668.2,454.7L668.6,455.1L668.9,455.5L669.1,455.9L669.3,456.4L669.4,456.9L669.5,457.4L669.4,458L669.4,458.5L669.6,459L669.9,459.4L670.1,459.9L670.3,460.4L670.5,460.9L670.5,461.4L670.5,461.9L670.4,462.4L670.2,462.9L670,463.4L669.7,463.8L669.7,464.3L669.8,464.9L670,465.4L670.1,465.9L670.1,466.4L670.1,466.9L670.1,467.4L670,467.9L669.8,468.4L669.6,468.9L669.4,469.3L669.3,469.8L669.5,470.4L669.6,470.9L669.8,471.4L669.8,471.9L669.9,472.4L669.8,472.9L669.7,473.4L669.6,473.9L669.4,474.4L669.2,474.8L669,475.3L669.2,475.8L669.4,476.4L669.5,476.9L669.6,477.4L669.7,477.8L669.7,478.3L669.6,478.8L669.5,479.3L669.4,479.8L669.2,480.4L669,480.9L669.2,481.4L669.5,481.8L669.6,482.3L669.8,482.8L669.9,483.3L670,483.8L670,484.3L669.9,484.8L669.8,485.3L669.6,485.8L669.5,486.4L669.6,486.9L669.8,487.3L670,487.8L670.2,488.3L670.3,488.8L670.4,489.3L670.4,489.8L670.3,490.3L670.2,490.8L670,491.3L669.8,491.8L669.8,492.3L670,492.8L670.2,493.3L670.3,493.8L670.4,494.3L670.4,494.8L670.4,495.3L670.3,495.8L670.1,496.3L669.9,496.8L669.7,497.3L669.6,497.8L669.8,498.3L670,498.8L670.1,499.3L670.2,499.8L670.2,500.3L670.1,500.8L670,501.3L669.9,501.8L669.7,502.3L669.4,502.8L669.3,503.3L669.4,503.8L669.6,504.3L669.7,504.8L669.8,505.3L669.8,505.8L669.8,506.3L669.7,506.8L669.5,507.3L669.3,507.8L669.1,508.3L668.9,508.8L669,509.3L669.2,509.8L669.3,510.3L669.4,510.8L669.4,511.3L669.4,511.8L669.3,512.3L669.2,512.8L669,513.3L668.8,513.8L668.5,514.3L668.6,514.8L668.8,515.3L668.9,515.8L669,516.3L669,516.8L669,517.3L668.9,517.8L668.7,518.3L668.5,518.8L668.3,519.3L668,519.7L668,520.2L668.1,520.7L668.2,521.3L668.3,521.8L668.3,522.3L668.3,522.8L668.2,523.3L668,523.8L667.8,524.2L667.5,524.7L667.3,525.2L667.1,525.6L667.2,526.2L667.3,526.7L667.4,527.2L667.4,527.7L667.4,528.2L667.3,528.7L667.1,529.2L666.9,529.7L666.6,530.1L666.3,530.6L666.1,531L666.2,531.6L666.3,532.1L666.3,532.6L666.3,533.1L666.3,533.6L666.1,534.1L666,534.6L665.7,535.1L665.5,535.5L665.2,535.9L664.8,536.4L664.9,536.9L665,537.4L665,538L665,538.5L664.9,539L664.8,539.5L664.6,539.9L664.4,540.4L664.1,540.8L663.8,541.3L663.5,541.7L663.4,542.2L663.5,542.7L663.5,543.3L663.5,543.8L663.4,544.3L663.3,544.8L663.1,545.2L662.9,545.7L662.6,546.1L662.2,546.5L661.9,546.9L661.7,547.4L661.8,548L661.8,548.5L661.7,549L661.6,549.5L661.5,550L661.2,550.4L661,550.9L660.7,551.3L660.3,551.7L659.9,552L659.7,552.5L659.6,553L659.6,553.5L659.5,554.1L659.3,554.6L659.2,555L658.9,555.5L658.6,555.9L658.3,556.2L657.9,556.6L657.4,556.9L657.1,557.3L657,557.8L656.9,558.3L656.8,558.9L656.6,559.3L656.3,559.8L656,560.2L655.7,560.6L655.3,560.9L654.9,561.2L654.5,561.5L654,561.8L653.8,562.3L653.7,562.8L653.5,563.3L653.3,563.8L653,564.2L652.7,564.6L652.4,565L651.9,565.3L651.5,565.6L651,565.8L650.6,566.1L650.3,566.5L650.1,567L649.9,567.5L649.6,567.9L649.3,568.3L649,568.7L648.6,569L648.2,569.3L647.7,569.5L647.2,569.7L646.7,569.9L646.3,570.2L646.1,570.7L645.8,571.1L645.4,571.5L645.1,571.9L644.7,572.2L644.2,572.5L643.8,572.7L643.3,572.8L642.7,572.9L642.2,573L641.8,573.2L641.4,573.6L641,574L640.7,574.3L640.3,574.6L639.8,574.9L639.3,575.1L638.9,575.2L638.3,575.3L637.8,575.3L637.3,575.3L636.8,575.4L636.4,575.8L636,576.1L635.6,576.4L635.1,576.7L634.7,576.9L634.2,577.1L633.7,577.2L633.2,577.2L632.6,577.2L632.1,577.2L631.6,577.1L631.2,577.4L630.7,577.7L630.3,578L629.8,578.2L629.3,578.4L628.8,578.5L628.3,578.5L627.8,578.5L627.3,578.5L626.8,578.4L626.2,578.2L625.8,578.4L625.3,578.7L624.8,578.9L624.3,579.1L623.8,579.2L623.3,579.2L622.8,579.2L622.3,579.2L621.8,579.1L621.3,578.9L620.8,578.7L620.3,578.8L619.8,579L619.3,579.2L618.8,579.3L618.3,579.4L617.8,579.5L617.3,579.4L616.8,579.3L616.3,579.1L615.8,578.9L615.4,578.6L614.9,578.5L614.4,578.6L613.8,578.7L613.3,578.7L612.8,578.7L612.3,578.6L611.8,578.5L611.4,578.3L610.9,578.1L610.4,577.8L610,577.5L609.5,577.4L608.9,577.6L608.5,577.9L608,578.2L607.7,578.5L607.4,578.7L607.1,579.1L606.9,579.4L606.6,579.8L606.3,580.3L606,580.7L605.7,581.2L605.9,581.7L606.1,582.2L606.3,582.7L606.5,583.2L606.7,583.6L606.9,584.1L607,584.5L607.1,585.1L607.1,585.6L607,586.1L607,586.6L607.2,587.1L607.5,587.5L607.7,588L607.9,588.5L607.9,589.1L607.8,589.6L607.7,590.1L607.4,590.5L607.1,591L606.7,591.3L606.3,591.7L606.1,592.2L606,592.7L605.9,593.2L605.8,593.7L605.7,594.2L605.5,594.6L605.3,595.1L605,595.5L604.8,595.9L604.5,596.4L604.3,596.9L604.3,597.4L604.5,597.9L604.8,598.4L605.1,598.8L605.3,599.2L605.5,599.7L605.6,600.2L605.7,600.7L605.8,601.2L605.7,601.7L605.7,602.3L605.7,602.7L605.9,603.2L606.1,603.7L606.3,604.2L606.3,604.7L606.2,605.3L606.1,605.7L605.9,606.2L605.6,606.7L605.3,607.1L604.9,607.5L604.6,607.9L604.6,608.4L604.5,608.9L604.5,609.5L604.3,610L604.2,610.4L603.9,610.9L603.6,611.3L603.3,611.7L602.9,612L602.4,612.3L602,612.6L601.8,613L601.5,613.5L601.1,613.9L600.6,614L599.9,613.8L599.5,613.3L599.2,612.9L599.1,612.4L599,611.8L599,611.3L599.1,610.8L598.8,610.3L598.5,609.9L598.2,609.5L597.9,609.1L597.6,608.6L597.4,608.2L597.3,607.7L597.2,607.2L597.1,606.7L597.1,606.1L597.1,605.6L597,605.1L596.6,604.7L596.3,604.3L596,603.9L595.7,603.5L595.5,603L595.3,602.5L595.3,602L595.2,601.5L595.2,601L595.3,600.5L595.3,599.9L595,599.5L594.7,599L594.5,598.6L594.4,598L594.3,597.5L594.4,597L594.6,596.5L594.8,596L595.1,595.6L595.5,595.2L595.8,594.8L595.8,594.2L595.8,593.7L595.8,593.2L595.8,592.7L595.8,592.2L595.9,591.7L595.9,591.3L596,590.8L596,590.3L596,589.8L596,589.2L595.6,588.9L595.2,588.5L594.8,588.2L594.4,587.9L594,587.5L593.7,587.1L593.5,586.7L593.2,586.2L593.1,585.7L592.9,585.2L592.8,584.7L592.5,584.3L592.1,584L591.7,583.6L591.4,583.2L591.1,582.8L590.9,582.3L590.8,581.8L590.7,581.3L590.7,580.8L590.8,580.2L590.9,579.7L590.8,579.2L590.5,578.8L590.3,578.3L590.1,577.8L590,577.3L589.9,576.8L590,576.3L590.1,575.8L590.3,575.3L590.5,574.8L590.7,574.3L590.9,573.8L590.8,573.3L590.7,572.8L590.6,572.3L590.7,571.7L590.8,571.2L591,570.8L591.3,570.3L591.7,569.9L592.1,569.6L592.6,569.4L593,569.1L593.3,568.7L593.6,568.3L594,567.9L594.4,567.6L594.8,567.3L595.3,567.2L595.8,567.1L596.3,567L596.9,567L597.4,567.1L597.9,567.2L598.4,566.9L598.8,566.7L599.3,566.4L599.8,566.2L600.2,566L600.7,565.9L601.2,565.9L601.7,565.9L602.3,565.9L602.8,566L603.3,566.2L603.8,566L604.2,565.8L604.7,565.5L605.2,565.3L605.7,565.2L606.2,565.1L606.7,565.1L607.2,565.2L607.7,565.3L608.2,565.4L608.7,565.6L609.2,565.6L609.7,565.3L610.2,565.1L610.7,564.9L611.2,564.8L611.7,564.7L612.2,564.7L612.7,564.8L613.2,564.8L613.7,565L614.2,565.1L614.7,565.1L615.2,564.9L615.7,564.6L616.2,564.4L616.7,564.3L617.2,564.2L617.7,564.2L618.2,564.2L618.7,564.3L619.2,564.4L619.7,564.5L620.2,564.6L620.7,564.3L621.2,564L621.6,563.8L622.1,563.6L622.5,563.4L623,563.3L623.5,563.2L624,563.2L624.5,563.2L625.1,563.2L625.6,563.2L626,562.9L626.4,562.5L626.8,562.1L627.2,561.8L627.6,561.6L628.1,561.3L628.5,561.1L629,561L629.5,560.9L630,560.8L630.6,560.7L630.9,560.4L631.3,559.9L631.6,559.5L631.9,559.1L632.3,558.8L632.7,558.5L633.1,558.2L633.5,558L634,557.8L634.5,557.6L635,557.4L635.4,557.1L635.6,556.6L635.9,556.1L636.2,555.7L636.5,555.3L636.8,554.9L637.2,554.6L637.6,554.3L638.1,554.1L638.6,553.8L639,553.6L639.5,553.3L639.7,552.9L639.9,552.4L640.2,551.9L640.5,551.5L640.8,551.1L641.1,550.8L641.5,550.5L642,550.2L642.5,550L642.9,549.7L643.4,549.5L643.6,549L643.8,548.5L644,548L644.2,547.5L644.5,547.1L644.8,546.7L645.1,546.4L645.5,546L645.9,545.7L646.4,545.4L646.8,545.1L646.9,544.6L647,544L647.1,543.5L647.3,543L647.5,542.6L647.7,542.1L648,541.7L648.3,541.3L648.6,540.9L649,540.6L649.4,540.2L649.5,539.7L649.6,539.2L649.6,538.6L649.7,538.1L649.8,537.7L650,537.2L650.2,536.7L650.5,536.3L650.8,535.9L651.1,535.5L651.5,535.1L651.6,534.6L651.6,534.1L651.5,533.5L651.6,533L651.6,532.5L651.7,532L651.9,531.5L652.1,531.1L652.3,530.6L652.6,530.2L652.9,529.7L653.1,529.3L653,528.7L652.9,528.2L652.8,527.7L652.8,527.2L652.8,526.7L652.9,526.2L653.1,525.7L653.3,525.2L653.5,524.8L653.8,524.3L654,523.8L653.9,523.3L653.8,522.8L653.7,522.3L653.7,521.7L653.7,521.2L653.8,520.8L653.9,520.3L654.1,519.8L654.4,519.3L654.6,518.9L654.9,518.4L654.8,517.9L654.7,517.3L654.6,516.8L654.5,516.3L654.5,515.8L654.6,515.3L654.7,514.8L654.9,514.3L655.1,513.9L655.3,513.4L655.6,512.9L655.5,512.4L655.4,511.9L655.2,511.4L655.2,510.9L655.1,510.4L655.1,509.9L655.2,509.4L655.4,508.9L655.5,508.4L655.7,507.9L656,507.4L656,506.9L655.8,506.4L655.6,505.9L655.5,505.4L655.4,504.9L655.4,504.4L655.5,503.9L655.6,503.4L655.7,502.9L655.9,502.4L656.1,501.9L656.1,501.4L655.9,500.9L655.8,500.4L655.6,499.9L655.5,499.4L655.5,498.9L655.5,498.4L655.5,497.9L655.7,497.4L655.8,496.9L656,496.4L656.1,495.9L655.9,495.4L655.7,494.9L655.5,494.4L655.4,493.9L655.4,493.4L655.3,492.9L655.4,492.4L655.5,491.9L655.6,491.4L655.8,490.9L655.9,490.4L655.7,489.9L655.5,489.4L655.3,488.9L655.1,488.4L655,488L654.9,487.5L654.9,487L655,486.5L655.1,485.9L655.2,485.4L655.3,484.9L655.2,484.4L654.9,483.9L654.7,483.5L654.5,483L654.4,482.5L654.3,482L654.3,481.5L654.3,481L654.4,480.5L654.6,480L654.8,479.5L654.7,479L654.6,478.5L654.4,478L654.3,477.5L654.2,477L654.2,476.5L654.2,476L654.3,475.5L654.4,475L654.5,474.5L654.6,473.9L654.4,473.3L653.9,473.1L653.4,472.9L653,472.9L652.5,472.9L652,473L651.5,473L651.1,473L650.5,472.9L650,472.9L649.5,472.8L649,472.8L648.5,473.1L648.1,473.4L647.7,473.7L647.2,473.9L646.7,474.1L646.2,474.2L645.7,474.2L645.2,474.2L644.7,474.1L644.1,474L643.6,473.9L643.2,474.3L642.7,474.6L642.3,474.8L641.8,475.1L641.4,475.3L640.9,475.4L640.4,475.5L639.9,475.5L639.4,475.5L638.8,475.5L638.3,475.4L637.8,475.7L637.4,476L637,476.4L636.6,476.6L636.1,476.9L635.7,477.1L635.2,477.2L634.7,477.2L634.1,477.3L633.6,477.3L633.1,477.2L632.6,477.5L632.2,477.8L631.8,478.1L631.4,478.4L630.9,478.7L630.5,478.9L630,479L629.5,479.1L629,479.1L628.4,479.1L627.9,479L627.4,479.1L627,479.5L626.5,479.8L626.1,480L625.6,480.3L625.2,480.4L624.7,480.5L624.2,480.6L623.6,480.6L623.1,480.5L622.6,480.5L622.1,480.4L621.6,480.8L621.2,481.1L620.7,481.3L620.3,481.5L619.8,481.7L619.3,481.8L618.8,481.9L618.3,481.9L617.8,481.8L617.2,481.8L616.7,481.7L616.3,482L615.8,482.4L615.4,482.7L615,482.9L614.5,483.1L614,483.3L613.6,483.4L613.1,483.4L612.5,483.5L612,483.4L611.5,483.4L611,483.7L610.6,484.1L610.2,484.4L609.8,484.7L609.3,484.9L608.8,485.1L608.4,485.2L607.9,485.3L607.3,485.3L606.8,485.2L606.3,485.2L605.8,485.3L605.4,485.7L604.9,485.9L604.5,486.2L604,486.4L603.5,486.5L603,486.6L602.5,486.6L602,486.6L601.5,486.5L600.9,486.4L600.4,486.5L600,486.7L599.5,487L599,487.2L598.6,487.4L598.1,487.5L597.6,487.6L597.1,487.6L596.6,487.5L596,487.4L595.5,487.3L595,487.2L594.5,487.5L594.1,487.7L593.6,487.9L593.1,488.1L592.6,488.1L592.1,488.1L591.6,488.1L591.1,488L590.6,487.8L590.1,487.6L589.6,487.3L589.1,487.5L588.6,487.6L588,487.6L587.5,487.7L587,487.6L586.5,487.5L586.1,487.3L585.6,487L585.2,486.8L584.7,486.4L584.3,486.1L583.8,486.1L583.2,486.2L582.7,486.3L582.2,486.3L581.7,486.3L581.2,486.2L580.7,486.1L580.3,485.9L579.8,485.7L579.3,485.5L578.8,485.2L578.3,485.2L577.8,485.3L577.3,485.5L576.8,485.5L576.3,485.6L575.8,485.5L575.3,485.4L574.8,485.3L574.3,485.1L573.8,484.9L573.4,484.6L572.9,484.5L572.4,484.6L571.8,484.8L571.3,484.8L570.8,484.8L570.3,484.8L569.8,484.7L569.3,484.5L568.9,484.2L568.4,484L568,483.6L567.6,483.4L567.1,483.4L566.5,483.3L566,483.3L565.5,483.1L565,482.9L564.6,482.7L564.2,482.4L563.8,482L563.5,481.6L563.1,481.2L562.8,480.8L562.2,480.8L561.7,480.7L561.2,480.7L560.7,480.6L560.3,480.6L560,480.7L559.7,480.8L559.5,481.1L559.3,481.6L559.1,482.1L558.9,482.6L559,483.1L559.3,483.6L559.4,484.1L559.5,484.6L559.5,485.1L559.5,485.6L559.3,486.2L559.1,486.6L558.8,487.1L558.5,487.5L558.1,487.9L558,488.4L558.1,488.9L558.1,489.4L558,490L557.9,490.5L557.8,490.9L557.6,491.4L557.4,491.9L557.1,492.3L556.8,492.7L556.5,493.2L556.4,493.7L556.5,494.2L556.5,494.7L556.6,495.2L556.5,495.7L556.5,496.2L556.4,496.7L556.2,497.2L556,497.7L555.7,498.1L555.4,498.6L555.2,499L555.3,499.6L555.4,500.1L555.5,500.6L555.5,501.1L555.5,501.6L555.4,502.1L555.2,502.6L555,503.1L554.8,503.5L554.6,504L554.3,504.5L554.5,505L554.7,505.5L554.8,506L554.9,506.5L554.9,507L554.9,507.5L554.9,508L554.8,508.5L554.6,509L554.5,509.5L554.3,510L554.5,510.5L554.7,511L554.9,511.5L555.1,512L555.2,512.5L555.3,513L555.3,513.5L555.3,514L555.2,514.5L555.1,515L555,515.5L555.1,516L555.4,516.5L555.7,516.9L555.9,517.4L556.1,517.9L556.2,518.3L556.3,518.8L556.3,519.3L556.3,519.9L556.3,520.4L556.2,520.9L556.4,521.4L556.7,521.8L557,522.2L557.4,522.6L557.6,523.1L557.9,523.5L558.1,524L558.2,524.4L558.3,524.9L558.4,525.5L558.5,526L558.6,526.5L559.1,526.8L559.5,527.2L559.8,527.5L560.2,527.9L560.5,528.3L560.7,528.8L560.8,529.3L561,529.8L561,530.3L561,530.8L561.1,531.4L561.5,531.7L561.9,532.1L562.2,532.5L562.5,532.9L562.8,533.3L563,533.8L563.2,534.3L563.3,534.8L563.3,535.3L563.4,535.8L563.4,536.4L563.7,536.8L564,537.2L564.4,537.6L564.6,538L564.9,538.5L565,539L565.1,539.5L565,540L565,540.5L564.8,541L564.7,541.6L564.8,542L565,542.5L565.1,543L565.2,543.6L565.2,544.1L565.1,544.6L565,545.1L564.8,545.6L564.5,546L564.2,546.4L563.9,546.9L563.7,547.3L563.7,547.9L563.7,548.4L563.6,548.9L563.5,549.4L563.3,549.9L563.1,550.3L562.8,550.7L562.4,551.1L562.1,551.5L561.6,551.8L561.3,552.2L561.3,552.8L561.2,553.3L561.1,553.8L561,554.3L560.8,554.8L560.6,555.2L560.3,555.6L560,556L559.6,556.4L559.2,556.8L558.9,557.2L558.9,557.7L558.9,558.3L558.9,558.8L558.8,559.3L558.7,559.8L558.5,560.3L558.3,560.7L558.1,561.2L557.8,561.6L557.4,562L557.1,562.4L557.1,563L557.2,563.5L557.2,564L557.2,564.5L557.2,565L557.1,565.5L557,566L556.9,566.4L556.7,566.9L556.6,567.4L556.5,568L556.8,568.5L557.1,568.9L557.5,569.3L557.8,569.6L558.1,570.1L558.4,570.5L558.6,571L558.3,571.8L557.7,571.4L557.5,571L557.2,570.5L556.9,570.2L556.4,569.9L555.9,569.7L555.5,569.4L555.1,569L554.8,568.6L554.5,568.2L554.4,567.7L554.3,567.1L554.3,566.6L554.3,566.1L554.2,565.6L553.8,565.2L553.5,564.8L553.2,564.4L552.9,563.9L552.7,563.5L552.5,563L552.3,562.6L552.2,562.1L552.1,561.6L551.9,561.1L551.6,560.6L551.1,560.4L550.6,560.2L550.1,560.1L549.7,560L549.2,559.8L548.8,559.6L548.3,559.3L547.9,559L547.5,558.7L547.1,558.3L546.7,557.9L546.2,557.9L545.7,557.8L545.2,557.7L544.7,557.6L544.2,557.4L543.8,557.1L543.4,556.7L543.1,556.3L542.8,555.9L542.5,555.5L542.2,555L541.8,554.8L541.3,554.6L540.8,554.4L540.3,554.2L539.9,553.9L539.5,553.6L539.1,553.2L538.9,552.8L538.6,552.3L538.4,551.8L538.2,551.3L537.9,550.9L537.4,550.7L537,550.4L536.6,550L536.3,549.7L536,549.2L535.7,548.8L535.6,548.3L535.5,547.8L535.4,547.3L535.4,546.7L535.2,546.2L534.8,545.9L534.5,545.5L534.2,545.1L533.9,544.6L533.7,544.2L533.5,543.7L533.4,543.2L533.4,542.7L533.4,542.2L533.4,541.6L533.4,541.1L533,540.7L532.7,540.3L532.4,539.8L532.2,539.4L532,538.9L531.9,538.4L531.8,537.9L531.8,537.4L531.8,536.9L531.9,536.3L532,535.8L531.7,535.4L531.4,534.9L531.1,534.5L530.9,534L530.7,533.5L530.6,533L530.6,532.5L530.6,532L530.6,531.5L530.7,531L530.8,530.4L530.6,530L530.4,529.5L530.1,529L529.9,528.6L529.8,528.1L529.7,527.6L529.7,527.1L529.7,526.6L529.8,526.1L530,525.5L530.1,525L530.1,524.5L529.8,524L529.6,523.6L529.5,523.1L529.4,522.5L529.3,522L529.4,521.5L529.5,521.1L529.6,520.5L529.8,520.1L530,519.6L530.1,519.1L530,518.6L529.8,518L529.7,517.5L529.7,517L529.7,516.5L529.8,516L530,515.5L530.2,515.1L530.4,514.6L530.7,514.1L530.9,513.7L530.8,513.1L530.7,512.6L530.6,512.1L530.6,511.6L530.7,511.1L530.8,510.6L530.9,510.1L531.1,509.6L531.4,509.2L531.7,508.7L532,508.3L531.9,507.8L531.8,507.2L531.8,506.7L531.7,506.2L531.8,505.7L531.9,505.2L532,504.7L532.2,504.3L532.5,503.8L532.8,503.3L533.1,502.9L533.1,502.4L533,501.9L532.9,501.3L532.9,500.8L532.9,500.3L533,499.8L533.2,499.3L533.4,498.9L533.6,498.4L533.9,498L534.2,497.5L534.3,497L534.2,496.5L534.1,496L534.1,495.4L534.2,494.9L534.3,494.4L534.4,494L534.6,493.5L534.9,493.1L535.2,492.6L535.5,492.2L535.7,491.7L535.6,491.2L535.6,490.7L535.6,490.1L535.7,489.6L535.8,489.1L536,488.7L536.2,488.2L536.5,487.8L536.8,487.4L537.1,487L537.4,486.5L537.4,486L537.4,485.5L537.5,484.9L537.6,484.4L537.7,484L537.9,483.5L538.2,483.1L538.5,482.6L538.8,482.2L539.2,481.9L539.6,481.5L539.6,481L539.6,480.4L539.7,479.9L539.8,479.4L540,478.9L540.2,478.5L540.4,478L540.7,477.6L541.1,477.2L541.5,476.9L541.9,476.5L542,476L542,475.5L542,474.9L542.1,474.4L542.3,473.9L542.5,473.5L542.7,473L543,472.6L543.3,472.2L543.7,471.8L544.1,471.4L544.2,471L544.2,470.4L544.3,469.9L544.4,469.4L544.5,468.9L544.7,468.4L544.9,468L545.2,467.6L545.6,467.2L546,466.8L546.4,466.5L546.7,466.1L546.7,465.5L546.8,465L547,464.5L547.2,464.1L547.5,463.6L547.8,463.2L548.2,462.9L548.7,462.6L549.1,462.4L549.6,462.1L550,461.9L550.3,461.4L550.5,460.9L550.8,460.5L551.1,460.1L551.5,459.7L551.9,459.5L552.4,459.2L552.9,459.1L553.4,459L554,458.9Z"/></clipPath><g clip-path="url(#ccol)"><path d="M651.5,534C651,536.4 648.4,542.1 646.2,545.4C644.1,548.7 641.1,551.3 638.6,553.7C636.2,556.1 631.4,560.2 631.4,559.8C631.4,559.3 636.7,554.4 638.6,551.1C640.5,547.7 641.1,543 642.8,539.7C644.5,536.4 647.6,532.1 649,531.2C650.5,530.2 652,531.7 651.5,534Z" fill="#c5adb1"/><path d="M558.3,571.5C557.8,571 556.1,569.9 554.9,568.1C553.8,566.3 553.3,562.8 551.5,560.9C549.7,559 543.6,557.2 543.9,556.7C544.3,556.2 550.8,557.9 553.4,557.9C556,557.9 558.9,555.4 559.5,556.7C560,558.1 556.8,563.7 556.6,566.2C556.4,568.7 558,570.6 558.3,571.5Z" fill="#cdb6b9"/><path d="M608.5,577.8C610.1,577.5 614.2,579.1 618,579.1C621.8,579.1 626.8,578.8 631.2,577.6C635.7,576.4 640.7,574.4 644.5,571.9C648.3,569.4 651.3,565.9 654,562.4C656.7,558.9 658.7,555.5 660.6,551.1C662.5,546.6 664.1,541 665.3,535.9C666.6,530.9 667.3,523.3 668.2,520.8C669.1,518.2 670.8,518.1 670.8,520.8C670.8,523.4 669.4,531.5 668.2,536.9C666.9,542.2 665.3,548.2 663.3,553C661.2,557.7 658.9,561.6 656.1,565.3C653.2,568.9 650.2,572.2 646.2,574.7C642.2,577.3 636.7,579.4 632,580.6C627.3,581.8 621.9,581.8 618,581.7C614.1,581.7 610.1,581.1 608.5,580.4C606.9,579.8 606.9,578 608.5,577.8Z" fill="#d9c3c6" opacity="0.7"/><path d="M553.4,475.3C552.5,478.1 549.1,486.4 547.7,492.4C546.3,498.3 545,505 544.9,511.3C544.7,517.6 545.4,524.2 546.8,530.2C548.2,536.2 552.3,544.4 553.4,547.3" fill="none" stroke="#f6ebec" stroke-width="1.3" opacity="0.9"/><path d="M568.6,467.7C571.7,469 580.6,474.4 587.5,475.3C594.4,476.2 603,474.8 610.2,473.4C617.5,472 623.2,469.3 631.1,466.8C639,464.3 653.2,459.7 657.6,458.3" fill="none" stroke="#f6ebec" stroke-width="1.3" opacity="0.9"/><path d="M657.6,473.4C658,476.6 659.7,484.5 659.9,492.4C660,500.2 659.8,512.2 658.7,520.8C657.6,529.3 656.2,536.5 653,543.5C649.9,550.4 642,559.3 639.8,562.4" fill="none" stroke="#f6ebec" stroke-width="1.3" opacity="0.9"/></g><path d="M555.4,458.6L555.8,458.3L556.3,458.1L556.8,457.9L557.3,457.8L557.8,457.8L558.4,457.9L558.8,458L559.3,458.3L559.7,458.6L560.1,458.9L560.5,459.3L561.1,459.3L561.6,459.3L562.1,459.3L562.6,459.4L563.1,459.5L563.6,459.6L564.1,459.8L564.5,460.1L564.9,460.5L565.3,460.8L565.7,461.2L566.1,461.4L566.7,461.4L567.2,461.5L567.7,461.6L568.2,461.7L568.7,461.9L569.1,462.1L569.5,462.4L569.9,462.7L570.3,463.1L570.7,463.5L571.1,463.7L571.7,463.7L572.2,463.8L572.7,463.8L573.2,463.9L573.7,464.1L574.1,464.3L574.6,464.5L575,464.8L575.4,465.2L575.8,465.6L576.2,465.8L576.7,465.8L577.3,465.8L577.8,465.9L578.3,465.9L578.8,466.1L579.3,466.2L579.7,466.4L580.1,466.7L580.6,467L581,467.3L581.4,467.6L582,467.6L582.5,467.5L583,467.4L583.6,467.4L584,467.5L584.5,467.5L585,467.7L585.5,467.9L586,468.1L586.4,468.3L586.9,468.5L587.4,468.4L588,468.3L588.4,468.1L588.9,467.9L589.4,467.8L589.9,467.8L590.4,467.8L590.9,467.8L591.4,467.8L591.9,467.9L592.5,468L593,467.8L593.4,467.4L593.8,467.1L594.2,466.8L594.7,466.6L595.1,466.4L595.6,466.3L596.1,466.2L596.6,466.2L597.2,466.2L597.7,466.2L598.2,466.1L598.6,465.7L599,465.4L599.5,465.1L599.9,464.9L600.4,464.8L600.9,464.7L601.4,464.7L602,464.7L602.5,464.8L603,464.9L603.5,464.9L604,464.7L604.4,464.4L604.9,464.2L605.4,464L605.9,463.9L606.4,463.8L606.9,463.9L607.4,463.9L607.9,464L608.4,464.1L609,464.3L609.4,464L609.9,463.7L610.4,463.5L610.8,463.3L611.3,463.2L611.8,463.1L612.3,463L612.8,463.1L613.3,463.1L613.9,463.2L614.4,463.2L614.9,463L615.3,462.6L615.7,462.3L616.1,462L616.6,461.8L617,461.6L617.5,461.4L618,461.3L618.5,461.3L619,461.2L619.6,461.2L620,460.9L620.4,460.6L620.8,460.2L621.2,459.9L621.6,459.6L622,459.4L622.5,459.2L623,459.1L623.5,459.1L624.1,459.1L624.6,459.1L625.1,458.9L625.5,458.6L625.9,458.2L626.3,457.9L626.8,457.7L627.2,457.5L627.7,457.4L628.2,457.3L628.7,457.3L629.3,457.3L629.8,457.3L630.3,457.2L630.7,456.9L631.1,456.6L631.6,456.3L632,456L632.5,455.8L633,455.7L633.5,455.6L634,455.5L634.5,455.5L635,455.6L635.6,455.6L636,455.2L636.4,454.9L636.8,454.5L637.2,454.3L637.7,454L638.1,453.9L638.6,453.8L639.1,453.7L639.7,453.7L640.2,453.7L640.7,453.7L641.2,453.4L641.6,453L642,452.7L642.4,452.5L642.9,452.2L643.4,452.1L643.8,452L644.4,451.9L644.9,451.9L645.4,452L645.9,452L646.4,451.8L646.8,451.5L647.3,451.2L647.7,451L648.2,450.8L648.7,450.6L649.2,450.5L649.7,450.5L650.2,450.5L650.7,450.6L651.3,450.7L651.8,450.6L652.2,450.3L652.7,450.1L653.1,449.8L653.6,449.7L654.1,449.6L654.6,449.5L655.1,449.5L655.7,449.6L656.2,449.8L656.7,450L657.2,450L657.6,449.8L658.2,449.7L658.7,449.6L659.2,449.6L659.7,449.6L660.2,449.7L660.7,449.9L661.2,450.1L661.6,450.4L662,450.7L662.4,451L663,451L663.5,451L664,451.1L664.5,451.2L665,451.4L665.4,451.7L665.8,452L666.2,452.4L666.5,452.9L666.7,453.3L666.9,453.8L667.3,454.1L667.8,454.4L668.2,454.7L668.6,455.1L668.9,455.5L669.1,455.9L669.3,456.4L669.4,456.9L669.5,457.4L669.4,458L669.4,458.5L669.6,459L669.9,459.4L670.1,459.9L670.3,460.4L670.5,460.9L670.5,461.4L670.5,461.9L670.4,462.4L670.2,462.9L670,463.4L669.7,463.8L669.7,464.3L669.8,464.9L670,465.4L670.1,465.9L670.1,466.4L670.1,466.9L670.1,467.4L670,467.9L669.8,468.4L669.6,468.9L669.4,469.3L669.3,469.8L669.5,470.4L669.6,470.9L669.8,471.4L669.8,471.9L669.9,472.4L669.8,472.9L669.7,473.4L669.6,473.9L669.4,474.4L669.2,474.8L669,475.3L669.2,475.8L669.4,476.4L669.5,476.9L669.6,477.4L669.7,477.8L669.7,478.3L669.6,478.8L669.5,479.3L669.4,479.8L669.2,480.4L669,480.9L669.2,481.4L669.5,481.8L669.6,482.3L669.8,482.8L669.9,483.3L670,483.8L670,484.3L669.9,484.8L669.8,485.3L669.6,485.8L669.5,486.4L669.6,486.9L669.8,487.3L670,487.8L670.2,488.3L670.3,488.8L670.4,489.3L670.4,489.8L670.3,490.3L670.2,490.8L670,491.3L669.8,491.8L669.8,492.3L670,492.8L670.2,493.3L670.3,493.8L670.4,494.3L670.4,494.8L670.4,495.3L670.3,495.8L670.1,496.3L669.9,496.8L669.7,497.3L669.6,497.8L669.8,498.3L670,498.8L670.1,499.3L670.2,499.8L670.2,500.3L670.1,500.8L670,501.3L669.9,501.8L669.7,502.3L669.4,502.8L669.3,503.3L669.4,503.8L669.6,504.3L669.7,504.8L669.8,505.3L669.8,505.8L669.8,506.3L669.7,506.8L669.5,507.3L669.3,507.8L669.1,508.3L668.9,508.8L669,509.3L669.2,509.8L669.3,510.3L669.4,510.8L669.4,511.3L669.4,511.8L669.3,512.3L669.2,512.8L669,513.3L668.8,513.8L668.5,514.3L668.6,514.8L668.8,515.3L668.9,515.8L669,516.3L669,516.8L669,517.3L668.9,517.8L668.7,518.3L668.5,518.8L668.3,519.3L668,519.7L668,520.2L668.1,520.7L668.2,521.3L668.3,521.8L668.3,522.3L668.3,522.8L668.2,523.3L668,523.8L667.8,524.2L667.5,524.7L667.3,525.2L667.1,525.6L667.2,526.2L667.3,526.7L667.4,527.2L667.4,527.7L667.4,528.2L667.3,528.7L667.1,529.2L666.9,529.7L666.6,530.1L666.3,530.6L666.1,531L666.2,531.6L666.3,532.1L666.3,532.6L666.3,533.1L666.3,533.6L666.1,534.1L666,534.6L665.7,535.1L665.5,535.5L665.2,535.9L664.8,536.4L664.9,536.9L665,537.4L665,538L665,538.5L664.9,539L664.8,539.5L664.6,539.9L664.4,540.4L664.1,540.8L663.8,541.3L663.5,541.7L663.4,542.2L663.5,542.7L663.5,543.3L663.5,543.8L663.4,544.3L663.3,544.8L663.1,545.2L662.9,545.7L662.6,546.1L662.2,546.5L661.9,546.9L661.7,547.4L661.8,548L661.8,548.5L661.7,549L661.6,549.5L661.5,550L661.2,550.4L661,550.9L660.7,551.3L660.3,551.7L659.9,552L659.7,552.5L659.6,553L659.6,553.5L659.5,554.1L659.3,554.6L659.2,555L658.9,555.5L658.6,555.9L658.3,556.2L657.9,556.6L657.4,556.9L657.1,557.3L657,557.8L656.9,558.3L656.8,558.9L656.6,559.3L656.3,559.8L656,560.2L655.7,560.6L655.3,560.9L654.9,561.2L654.5,561.5L654,561.8L653.8,562.3L653.7,562.8L653.5,563.3L653.3,563.8L653,564.2L652.7,564.6L652.4,565L651.9,565.3L651.5,565.6L651,565.8L650.6,566.1L650.3,566.5L650.1,567L649.9,567.5L649.6,567.9L649.3,568.3L649,568.7L648.6,569L648.2,569.3L647.7,569.5L647.2,569.7L646.7,569.9L646.3,570.2L646.1,570.7L645.8,571.1L645.4,571.5L645.1,571.9L644.7,572.2L644.2,572.5L643.8,572.7L643.3,572.8L642.7,572.9L642.2,573L641.8,573.2L641.4,573.6L641,574L640.7,574.3L640.3,574.6L639.8,574.9L639.3,575.1L638.9,575.2L638.3,575.3L637.8,575.3L637.3,575.3L636.8,575.4L636.4,575.8L636,576.1L635.6,576.4L635.1,576.7L634.7,576.9L634.2,577.1L633.7,577.2L633.2,577.2L632.6,577.2L632.1,577.2L631.6,577.1L631.2,577.4L630.7,577.7L630.3,578L629.8,578.2L629.3,578.4L628.8,578.5L628.3,578.5L627.8,578.5L627.3,578.5L626.8,578.4L626.2,578.2L625.8,578.4L625.3,578.7L624.8,578.9L624.3,579.1L623.8,579.2L623.3,579.2L622.8,579.2L622.3,579.2L621.8,579.1L621.3,578.9L620.8,578.7L620.3,578.8L619.8,579L619.3,579.2L618.8,579.3L618.3,579.4L617.8,579.5L617.3,579.4L616.8,579.3L616.3,579.1L615.8,578.9L615.4,578.6L614.9,578.5L614.4,578.6L613.8,578.7L613.3,578.7L612.8,578.7L612.3,578.6L611.8,578.5L611.4,578.3L610.9,578.1L610.4,577.8L610,577.5L609.5,577.4L608.9,577.6L608.5,577.9L608,578.2L607.7,578.5L607.4,578.7L607.1,579.1L606.9,579.4L606.6,579.8L606.3,580.3L606,580.7L605.7,581.2L605.9,581.7L606.1,582.2L606.3,582.7L606.5,583.2L606.7,583.6L606.9,584.1L607,584.5L607.1,585.1L607.1,585.6L607,586.1L607,586.6L607.2,587.1L607.5,587.5L607.7,588L607.9,588.5L607.9,589.1L607.8,589.6L607.7,590.1L607.4,590.5L607.1,591L606.7,591.3L606.3,591.7L606.1,592.2L606,592.7L605.9,593.2L605.8,593.7L605.7,594.2L605.5,594.6L605.3,595.1L605,595.5L604.8,595.9L604.5,596.4L604.3,596.9L604.3,597.4L604.5,597.9L604.8,598.4L605.1,598.8L605.3,599.2L605.5,599.7L605.6,600.2L605.7,600.7L605.8,601.2L605.7,601.7L605.7,602.3L605.7,602.7L605.9,603.2L606.1,603.7L606.3,604.2L606.3,604.7L606.2,605.3L606.1,605.7L605.9,606.2L605.6,606.7L605.3,607.1L604.9,607.5L604.6,607.9L604.6,608.4L604.5,608.9L604.5,609.5L604.3,610L604.2,610.4L603.9,610.9L603.6,611.3L603.3,611.7L602.9,612L602.4,612.3L602,612.6L601.8,613L601.5,613.5L601.1,613.9L600.6,614L599.9,613.8L599.5,613.3L599.2,612.9L599.1,612.4L599,611.8L599,611.3L599.1,610.8L598.8,610.3L598.5,609.9L598.2,609.5L597.9,609.1L597.6,608.6L597.4,608.2L597.3,607.7L597.2,607.2L597.1,606.7L597.1,606.1L597.1,605.6L597,605.1L596.6,604.7L596.3,604.3L596,603.9L595.7,603.5L595.5,603L595.3,602.5L595.3,602L595.2,601.5L595.2,601L595.3,600.5L595.3,599.9L595,599.5L594.7,599L594.5,598.6L594.4,598L594.3,597.5L594.4,597L594.6,596.5L594.8,596L595.1,595.6L595.5,595.2L595.8,594.8L595.8,594.2L595.8,593.7L595.8,593.2L595.8,592.7L595.8,592.2L595.9,591.7L595.9,591.3L596,590.8L596,590.3L596,589.8L596,589.2L595.6,588.9L595.2,588.5L594.8,588.2L594.4,587.9L594,587.5L593.7,587.1L593.5,586.7L593.2,586.2L593.1,585.7L592.9,585.2L592.8,584.7L592.5,584.3L592.1,584L591.7,583.6L591.4,583.2L591.1,582.8L590.9,582.3L590.8,581.8L590.7,581.3L590.7,580.8L590.8,580.2L590.9,579.7L590.8,579.2L590.5,578.8L590.3,578.3L590.1,577.8L590,577.3L589.9,576.8L590,576.3L590.1,575.8L590.3,575.3L590.5,574.8L590.7,574.3L590.9,573.8L590.8,573.3L590.7,572.8L590.6,572.3L590.7,571.7L590.8,571.2L591,570.8L591.3,570.3L591.7,569.9L592.1,569.6L592.6,569.4L593,569.1L593.3,568.7L593.6,568.3L594,567.9L594.4,567.6L594.8,567.3L595.3,567.2L595.8,567.1L596.3,567L596.9,567L597.4,567.1L597.9,567.2L598.4,566.9L598.8,566.7L599.3,566.4L599.8,566.2L600.2,566L600.7,565.9L601.2,565.9L601.7,565.9L602.3,565.9L602.8,566L603.3,566.2L603.8,566L604.2,565.8L604.7,565.5L605.2,565.3L605.7,565.2L606.2,565.1L606.7,565.1L607.2,565.2L607.7,565.3L608.2,565.4L608.7,565.6L609.2,565.6L609.7,565.3L610.2,565.1L610.7,564.9L611.2,564.8L611.7,564.7L612.2,564.7L612.7,564.8L613.2,564.8L613.7,565L614.2,565.1L614.7,565.1L615.2,564.9L615.7,564.6L616.2,564.4L616.7,564.3L617.2,564.2L617.7,564.2L618.2,564.2L618.7,564.3L619.2,564.4L619.7,564.5L620.2,564.6L620.7,564.3L621.2,564L621.6,563.8L622.1,563.6L622.5,563.4L623,563.3L623.5,563.2L624,563.2L624.5,563.2L625.1,563.2L625.6,563.2L626,562.9L626.4,562.5L626.8,562.1L627.2,561.8L627.6,561.6L628.1,561.3L628.5,561.1L629,561L629.5,560.9L630,560.8L630.6,560.7L630.9,560.4L631.3,559.9L631.6,559.5L631.9,559.1L632.3,558.8L632.7,558.5L633.1,558.2L633.5,558L634,557.8L634.5,557.6L635,557.4L635.4,557.1L635.6,556.6L635.9,556.1L636.2,555.7L636.5,555.3L636.8,554.9L637.2,554.6L637.6,554.3L638.1,554.1L638.6,553.8L639,553.6L639.5,553.3L639.7,552.9L639.9,552.4L640.2,551.9L640.5,551.5L640.8,551.1L641.1,550.8L641.5,550.5L642,550.2L642.5,550L642.9,549.7L643.4,549.5L643.6,549L643.8,548.5L644,548L644.2,547.5L644.5,547.1L644.8,546.7L645.1,546.4L645.5,546L645.9,545.7L646.4,545.4L646.8,545.1L646.9,544.6L647,544L647.1,543.5L647.3,543L647.5,542.6L647.7,542.1L648,541.7L648.3,541.3L648.6,540.9L649,540.6L649.4,540.2L649.5,539.7L649.6,539.2L649.6,538.6L649.7,538.1L649.8,537.7L650,537.2L650.2,536.7L650.5,536.3L650.8,535.9L651.1,535.5L651.5,535.1L651.6,534.6L651.6,534.1L651.5,533.5L651.6,533L651.6,532.5L651.7,532L651.9,531.5L652.1,531.1L652.3,530.6L652.6,530.2L652.9,529.7L653.1,529.3L653,528.7L652.9,528.2L652.8,527.7L652.8,527.2L652.8,526.7L652.9,526.2L653.1,525.7L653.3,525.2L653.5,524.8L653.8,524.3L654,523.8L653.9,523.3L653.8,522.8L653.7,522.3L653.7,521.7L653.7,521.2L653.8,520.8L653.9,520.3L654.1,519.8L654.4,519.3L654.6,518.9L654.9,518.4L654.8,517.9L654.7,517.3L654.6,516.8L654.5,516.3L654.5,515.8L654.6,515.3L654.7,514.8L654.9,514.3L655.1,513.9L655.3,513.4L655.6,512.9L655.5,512.4L655.4,511.9L655.2,511.4L655.2,510.9L655.1,510.4L655.1,509.9L655.2,509.4L655.4,508.9L655.5,508.4L655.7,507.9L656,507.4L656,506.9L655.8,506.4L655.6,505.9L655.5,505.4L655.4,504.9L655.4,504.4L655.5,503.9L655.6,503.4L655.7,502.9L655.9,502.4L656.1,501.9L656.1,501.4L655.9,500.9L655.8,500.4L655.6,499.9L655.5,499.4L655.5,498.9L655.5,498.4L655.5,497.9L655.7,497.4L655.8,496.9L656,496.4L656.1,495.9L655.9,495.4L655.7,494.9L655.5,494.4L655.4,493.9L655.4,493.4L655.3,492.9L655.4,492.4L655.5,491.9L655.6,491.4L655.8,490.9L655.9,490.4L655.7,489.9L655.5,489.4L655.3,488.9L655.1,488.4L655,488L654.9,487.5L654.9,487L655,486.5L655.1,485.9L655.2,485.4L655.3,484.9L655.2,484.4L654.9,483.9L654.7,483.5L654.5,483L654.4,482.5L654.3,482L654.3,481.5L654.3,481L654.4,480.5L654.6,480L654.8,479.5L654.7,479L654.6,478.5L654.4,478L654.3,477.5L654.2,477L654.2,476.5L654.2,476L654.3,475.5L654.4,475L654.5,474.5L654.6,473.9L654.4,473.3L653.9,473.1L653.4,472.9L653,472.9L652.5,472.9L652,473L651.5,473L651.1,473L650.5,472.9L650,472.9L649.5,472.8L649,472.8L648.5,473.1L648.1,473.4L647.7,473.7L647.2,473.9L646.7,474.1L646.2,474.2L645.7,474.2L645.2,474.2L644.7,474.1L644.1,474L643.6,473.9L643.2,474.3L642.7,474.6L642.3,474.8L641.8,475.1L641.4,475.3L640.9,475.4L640.4,475.5L639.9,475.5L639.4,475.5L638.8,475.5L638.3,475.4L637.8,475.7L637.4,476L637,476.4L636.6,476.6L636.1,476.9L635.7,477.1L635.2,477.2L634.7,477.2L634.1,477.3L633.6,477.3L633.1,477.2L632.6,477.5L632.2,477.8L631.8,478.1L631.4,478.4L630.9,478.7L630.5,478.9L630,479L629.5,479.1L629,479.1L628.4,479.1L627.9,479L627.4,479.1L627,479.5L626.5,479.8L626.1,480L625.6,480.3L625.2,480.4L624.7,480.5L624.2,480.6L623.6,480.6L623.1,480.5L622.6,480.5L622.1,480.4L621.6,480.8L621.2,481.1L620.7,481.3L620.3,481.5L619.8,481.7L619.3,481.8L618.8,481.9L618.3,481.9L617.8,481.8L617.2,481.8L616.7,481.7L616.3,482L615.8,482.4L615.4,482.7L615,482.9L614.5,483.1L614,483.3L613.6,483.4L613.1,483.4L612.5,483.5L612,483.4L611.5,483.4L611,483.7L610.6,484.1L610.2,484.4L609.8,484.7L609.3,484.9L608.8,485.1L608.4,485.2L607.9,485.3L607.3,485.3L606.8,485.2L606.3,485.2L605.8,485.3L605.4,485.7L604.9,485.9L604.5,486.2L604,486.4L603.5,486.5L603,486.6L602.5,486.6L602,486.6L601.5,486.5L600.9,486.4L600.4,486.5L600,486.7L599.5,487L599,487.2L598.6,487.4L598.1,487.5L597.6,487.6L597.1,487.6L596.6,487.5L596,487.4L595.5,487.3L595,487.2L594.5,487.5L594.1,487.7L593.6,487.9L593.1,488.1L592.6,488.1L592.1,488.1L591.6,488.1L591.1,488L590.6,487.8L590.1,487.6L589.6,487.3L589.1,487.5L588.6,487.6L588,487.6L587.5,487.7L587,487.6L586.5,487.5L586.1,487.3L585.6,487L585.2,486.8L584.7,486.4L584.3,486.1L583.8,486.1L583.2,486.2L582.7,486.3L582.2,486.3L581.7,486.3L581.2,486.2L580.7,486.1L580.3,485.9L579.8,485.7L579.3,485.5L578.8,485.2L578.3,485.2L577.8,485.3L577.3,485.5L576.8,485.5L576.3,485.6L575.8,485.5L575.3,485.4L574.8,485.3L574.3,485.1L573.8,484.9L573.4,484.6L572.9,484.5L572.4,484.6L571.8,484.8L571.3,484.8L570.8,484.8L570.3,484.8L569.8,484.7L569.3,484.5L568.9,484.2L568.4,484L568,483.6L567.6,483.4L567.1,483.4L566.5,483.3L566,483.3L565.5,483.1L565,482.9L564.6,482.7L564.2,482.4L563.8,482L563.5,481.6L563.1,481.2L562.8,480.8L562.2,480.8L561.7,480.7L561.2,480.7L560.7,480.6L560.3,480.6L560,480.7L559.7,480.8L559.5,481.1L559.3,481.6L559.1,482.1L558.9,482.6L559,483.1L559.3,483.6L559.4,484.1L559.5,484.6L559.5,485.1L559.5,485.6L559.3,486.2L559.1,486.6L558.8,487.1L558.5,487.5L558.1,487.9L558,488.4L558.1,488.9L558.1,489.4L558,490L557.9,490.5L557.8,490.9L557.6,491.4L557.4,491.9L557.1,492.3L556.8,492.7L556.5,493.2L556.4,493.7L556.5,494.2L556.5,494.7L556.6,495.2L556.5,495.7L556.5,496.2L556.4,496.7L556.2,497.2L556,497.7L555.7,498.1L555.4,498.6L555.2,499L555.3,499.6L555.4,500.1L555.5,500.6L555.5,501.1L555.5,501.6L555.4,502.1L555.2,502.6L555,503.1L554.8,503.5L554.6,504L554.3,504.5L554.5,505L554.7,505.5L554.8,506L554.9,506.5L554.9,507L554.9,507.5L554.9,508L554.8,508.5L554.6,509L554.5,509.5L554.3,510L554.5,510.5L554.7,511L554.9,511.5L555.1,512L555.2,512.5L555.3,513L555.3,513.5L555.3,514L555.2,514.5L555.1,515L555,515.5L555.1,516L555.4,516.5L555.7,516.9L555.9,517.4L556.1,517.9L556.2,518.3L556.3,518.8L556.3,519.3L556.3,519.9L556.3,520.4L556.2,520.9L556.4,521.4L556.7,521.8L557,522.2L557.4,522.6L557.6,523.1L557.9,523.5L558.1,524L558.2,524.4L558.3,524.9L558.4,525.5L558.5,526L558.6,526.5L559.1,526.8L559.5,527.2L559.8,527.5L560.2,527.9L560.5,528.3L560.7,528.8L560.8,529.3L561,529.8L561,530.3L561,530.8L561.1,531.4L561.5,531.7L561.9,532.1L562.2,532.5L562.5,532.9L562.8,533.3L563,533.8L563.2,534.3L563.3,534.8L563.3,535.3L563.4,535.8L563.4,536.4L563.7,536.8L564,537.2L564.4,537.6L564.6,538L564.9,538.5L565,539L565.1,539.5L565,540L565,540.5L564.8,541L564.7,541.6L564.8,542L565,542.5L565.1,543L565.2,543.6L565.2,544.1L565.1,544.6L565,545.1L564.8,545.6L564.5,546L564.2,546.4L563.9,546.9L563.7,547.3L563.7,547.9L563.7,548.4L563.6,548.9L563.5,549.4L563.3,549.9L563.1,550.3L562.8,550.7L562.4,551.1L562.1,551.5L561.6,551.8L561.3,552.2L561.3,552.8L561.2,553.3L561.1,553.8L561,554.3L560.8,554.8L560.6,555.2L560.3,555.6L560,556L559.6,556.4L559.2,556.8L558.9,557.2L558.9,557.7L558.9,558.3L558.9,558.8L558.8,559.3L558.7,559.8L558.5,560.3L558.3,560.7L558.1,561.2L557.8,561.6L557.4,562L557.1,562.4L557.1,563L557.2,563.5L557.2,564L557.2,564.5L557.2,565L557.1,565.5L557,566L556.9,566.4L556.7,566.9L556.6,567.4L556.5,568L556.8,568.5L557.1,568.9L557.5,569.3L557.8,569.6L558.1,570.1L558.4,570.5L558.6,571L558.3,571.8L557.7,571.4L557.5,571L557.2,570.5L556.9,570.2L556.4,569.9L555.9,569.7L555.5,569.4L555.1,569L554.8,568.6L554.5,568.2L554.4,567.7L554.3,567.1L554.3,566.6L554.3,566.1L554.2,565.6L553.8,565.2L553.5,564.8L553.2,564.4L552.9,563.9L552.7,563.5L552.5,563L552.3,562.6L552.2,562.1L552.1,561.6L551.9,561.1L551.6,560.6L551.1,560.4L550.6,560.2L550.1,560.1L549.7,560L549.2,559.8L548.8,559.6L548.3,559.3L547.9,559L547.5,558.7L547.1,558.3L546.7,557.9L546.2,557.9L545.7,557.8L545.2,557.7L544.7,557.6L544.2,557.4L543.8,557.1L543.4,556.7L543.1,556.3L542.8,555.9L542.5,555.5L542.2,555L541.8,554.8L541.3,554.6L540.8,554.4L540.3,554.2L539.9,553.9L539.5,553.6L539.1,553.2L538.9,552.8L538.6,552.3L538.4,551.8L538.2,551.3L537.9,550.9L537.4,550.7L537,550.4L536.6,550L536.3,549.7L536,549.2L535.7,548.8L535.6,548.3L535.5,547.8L535.4,547.3L535.4,546.7L535.2,546.2L534.8,545.9L534.5,545.5L534.2,545.1L533.9,544.6L533.7,544.2L533.5,543.7L533.4,543.2L533.4,542.7L533.4,542.2L533.4,541.6L533.4,541.1L533,540.7L532.7,540.3L532.4,539.8L532.2,539.4L532,538.9L531.9,538.4L531.8,537.9L531.8,537.4L531.8,536.9L531.9,536.3L532,535.8L531.7,535.4L531.4,534.9L531.1,534.5L530.9,534L530.7,533.5L530.6,533L530.6,532.5L530.6,532L530.6,531.5L530.7,531L530.8,530.4L530.6,530L530.4,529.5L530.1,529L529.9,528.6L529.8,528.1L529.7,527.6L529.7,527.1L529.7,526.6L529.8,526.1L530,525.5L530.1,525L530.1,524.5L529.8,524L529.6,523.6L529.5,523.1L529.4,522.5L529.3,522L529.4,521.5L529.5,521.1L529.6,520.5L529.8,520.1L530,519.6L530.1,519.1L530,518.6L529.8,518L529.7,517.5L529.7,517L529.7,516.5L529.8,516L530,515.5L530.2,515.1L530.4,514.6L530.7,514.1L530.9,513.7L530.8,513.1L530.7,512.6L530.6,512.1L530.6,511.6L530.7,511.1L530.8,510.6L530.9,510.1L531.1,509.6L531.4,509.2L531.7,508.7L532,508.3L531.9,507.8L531.8,507.2L531.8,506.7L531.7,506.2L531.8,505.7L531.9,505.2L532,504.7L532.2,504.3L532.5,503.8L532.8,503.3L533.1,502.9L533.1,502.4L533,501.9L532.9,501.3L532.9,500.8L532.9,500.3L533,499.8L533.2,499.3L533.4,498.9L533.6,498.4L533.9,498L534.2,497.5L534.3,497L534.2,496.5L534.1,496L534.1,495.4L534.2,494.9L534.3,494.4L534.4,494L534.6,493.5L534.9,493.1L535.2,492.6L535.5,492.2L535.7,491.7L535.6,491.2L535.6,490.7L535.6,490.1L535.7,489.6L535.8,489.1L536,488.7L536.2,488.2L536.5,487.8L536.8,487.4L537.1,487L537.4,486.5L537.4,486L537.4,485.5L537.5,484.9L537.6,484.4L537.7,484L537.9,483.5L538.2,483.1L538.5,482.6L538.8,482.2L539.2,481.9L539.6,481.5L539.6,481L539.6,480.4L539.7,479.9L539.8,479.4L540,478.9L540.2,478.5L540.4,478L540.7,477.6L541.1,477.2L541.5,476.9L541.9,476.5L542,476L542,475.5L542,474.9L542.1,474.4L542.3,473.9L542.5,473.5L542.7,473L543,472.6L543.3,472.2L543.7,471.8L544.1,471.4L544.2,471L544.2,470.4L544.3,469.9L544.4,469.4L544.5,468.9L544.7,468.4L544.9,468L545.2,467.6L545.6,467.2L546,466.8L546.4,466.5L546.7,466.1L546.7,465.5L546.8,465L547,464.5L547.2,464.1L547.5,463.6L547.8,463.2L548.2,462.9L548.7,462.6L549.1,462.4L549.6,462.1L550,461.9L550.3,461.4L550.5,460.9L550.8,460.5L551.1,460.1L551.5,459.7L551.9,459.5L552.4,459.2L552.9,459.1L553.4,459L554,458.9Z" fill="none" stroke="#a58b8f" stroke-width="1" stroke-linejoin="round"/>
<path d="M506.1,588.9C507.2,589.9 510.5,593.1 512.6,594.8C514.8,596.5 518.1,598.6 519.2,599.4" fill="none" stroke="#a4cfa8" stroke-width="3.13"/><path d="M498.3,598.1C499.2,599.5 502.3,603.7 504.1,606.5C506,609.4 508.5,613.6 509.4,615" fill="none" stroke="#a4cfa8" stroke-width="3.13"/><path d="M490.4,605.2C491.3,606.3 494,609.7 495.7,611.8C497.3,613.8 499.5,616.7 500.2,617.6" fill="none" stroke="#a4cfa8" stroke-width="3.13"/><path d="M536.1,604.2C537.4,604.2 541.3,604 544,604.2C546.6,604.4 550.5,605.3 551.8,605.5" fill="none" stroke="#a4cfa8" stroke-width="2.87"/><path d="M542.6,621.2C544.2,619.9 548.5,615.8 551.8,613.7C555.1,611.6 560.5,609.4 562.2,608.5" fill="none" stroke="#a4cfa8" stroke-width="2.87"/><path d="M512.6,626.1C513.7,627.2 516.5,631.3 519.2,632.6C521.8,634 525.5,634.2 528.3,634C531.1,633.7 534.8,631.6 536.1,631.1" fill="none" stroke="#a4cfa8" stroke-width="2.87"/><path d="M517.9,617C518.7,616.6 521.4,615.2 523.1,614.4C524.7,613.6 526.9,612.4 527.6,612" fill="none" stroke="#a4cfa8" stroke-width="2.61"/><path d="M549.2,627.4C550.5,627.9 554.5,629.1 557,630C559.5,631 563,632.4 564.2,632.9" fill="none" stroke="#a4cfa8" stroke-width="2.87"/><path d="M577.9,628.7C579,628.7 582.1,628.4 584.4,628.2C586.7,628 590.4,627.6 591.6,627.4" fill="none" stroke="#a4cfa8" stroke-width="2.87"/><path d="M571.4,643.1C571.9,643.7 573.5,645.7 574.6,647C575.8,648.3 577.6,650.1 578.1,650.7" fill="none" stroke="#a4cfa8" stroke-width="2.87"/><path d="M519.2,598.7C520.3,597.8 522.5,596.3 524.4,596.1C526.2,595.9 528.5,596.3 530.2,597.4C532,598.5 533.7,600.8 534.8,602.6C535.9,604.5 536.8,606.6 536.8,608.5C536.8,610.4 535.9,612.5 534.8,613.7C533.7,614.9 531.8,615.7 530.2,615.7C528.7,615.7 526.5,614.7 525.7,613.7C524.8,612.8 525.7,610.8 525,609.8C524.4,608.8 522.9,608.7 521.8,607.9C520.6,607 518.8,605.7 518.1,604.6C517.4,603.5 517.4,602.3 517.6,601.3C517.8,600.4 518,599.6 519.2,598.7Z" fill="#93c79b" stroke="#6ea77b" stroke-width="0.8"/><path d="M497,617.6C497.9,616.6 500,615.6 502.2,615C504.4,614.4 507.7,614.1 510,614.1C512.3,614.1 514.5,614.3 515.9,615C517.3,615.7 518.4,617.1 518.5,618.3C518.6,619.5 517.5,621 516.5,622.2C515.6,623.4 514.4,624.8 512.6,625.5C510.9,626.2 508.3,626.5 506.1,626.4C503.9,626.3 501.2,625.6 499.6,624.8C497.9,624 496.8,622.8 496.3,621.6C495.9,620.4 496,618.7 497,617.6Z" fill="#93c79b" stroke="#6ea77b" stroke-width="0.8"/><path d="M530.2,621.6C531.4,620.6 534.1,619.2 536.1,619C538.2,618.7 540.8,619.3 542.6,620.2C544.5,621.2 546.2,623.2 547.2,624.8C548.2,626.5 548.7,628.4 548.5,630C548.3,631.7 547.1,633.6 545.9,634.6C544.7,635.6 542.8,636.1 541.4,635.9C539.9,635.7 538.4,634.4 537.4,633.3C536.4,632.2 536.4,630.4 535.5,629.4C534.5,628.4 532.6,628.2 531.6,627.4C530.5,626.6 529.6,625.5 529.3,624.6C529.1,623.6 529.1,622.5 530.2,621.6Z" fill="#93c79b" stroke="#6ea77b" stroke-width="0.8"/><path d="M565.5,624.8C566.4,623.3 568.5,622 570.1,621.6C571.6,621.1 573.3,621.3 574.6,622.2C575.9,623.1 577.4,624.8 577.9,626.8C578.4,628.7 578.2,631.8 577.6,634C577.1,636.1 576,638.3 574.6,639.8C573.3,641.4 571.3,642.6 569.4,643.1C567.6,643.6 565.3,643.4 563.5,642.8C561.8,642.3 559.7,640.9 559,639.8C558.2,638.8 558.3,637.4 559,636.6C559.6,635.7 561.9,635.6 562.9,634.6C563.9,633.6 564.4,632.3 564.8,630.7C565.3,629.1 564.6,626.3 565.5,624.8Z" fill="#93c79b" stroke="#6ea77b" stroke-width="0.8"/>
<circle cx="121.1" cy="241.1" r="73.55" fill="#f8cfc9" stroke="#73423f" stroke-width="4.5"/><circle cx="119.0" cy="241.6" r="55.2" fill="#e9a985"/>
<g transform="translate(126.5,178.3) rotate(6.8) scale(1.03)"><path d="M-4.6,-4.8 L-4.6,-64.5 L-9.4,-64.5 Q-10.9,-64.5 -10.9,-66.0 L-10.9,-98.8 Q-10.9,-102.0 -7.7,-102.0 L7.7,-102.0 Q10.9,-102.0 10.9,-98.8 L10.9,-66.0 Q10.9,-64.5 9.4,-64.5 L4.6,-64.5 L4.6,-4.8 Q4.6,-1.3 0,-1.3 Q-4.6,-1.3 -4.6,-4.8 Z" fill="#ec6a8b" stroke="#2f2b25" stroke-width="2.7" stroke-linejoin="round"/></g>
<g transform="translate(0,0)" fill="#fde23d" stroke="#2f2b25" stroke-width="2.4" stroke-linejoin="round"><path d="M143.9,172.6C148.4,164.5 166.4,131.9 170.9,123.8C171.1,123.3 172.1,122.2 171.8,120.9C171.5,119.6 169.8,118 169.1,115.9C168.3,113.7 167.4,110.5 167,108C166.7,105.5 166.5,102.7 166.8,100.8C167,98.9 167.2,97.6 168.3,96.5C169.5,95.3 171.9,93.9 173.8,93.9C175.7,93.9 178.3,95.3 179.5,96.5C180.8,97.6 180.9,99.1 181.3,100.8C181.6,102.5 181.1,104.5 181.4,106.5C181.7,108.6 182.5,111.1 183.3,113C184,115 185.3,116.7 185.9,118.3C186.4,119.9 186.8,121.3 186.7,122.6C186.6,124 190.3,117 185.1,126.2C180,135.5 160.6,169.3 155.7,178C155.4,178.4 155,180.1 154.2,180.7C153.5,181.3 152.7,181.9 151.1,181.4C149.4,181 145.7,179 144.3,178C143,176.9 143,176.1 142.9,175.2C142.8,174.3 143.7,173.1 143.9,172.6Z"/><path d="M158.3,182.8C163.4,173.6 184,136.6 189.2,127.4C189.6,126.9 190.5,125.2 192,124.7C193.5,124.1 195.8,124.3 198.2,123.9C200.7,123.6 204.3,123.4 206.8,122.6C209.4,121.9 211.5,120.3 213.3,119.6C215.1,118.9 216.3,118.1 217.9,118.3C219.5,118.5 221.6,119.7 222.6,120.9C223.7,122.2 224.3,124.3 224.1,126C223.8,127.6 222.6,129.5 221.2,131C219.8,132.4 217.9,133.6 215.5,134.6C213.1,135.5 209.4,136.3 206.8,136.7C204.3,137.1 201.5,136.6 199.9,137C198.4,137.4 197.9,138.7 197.5,139C192.9,147.3 174.8,180.2 170.2,188.4C169.9,188.9 169.3,190.6 168.3,191C167.4,191.5 166.2,191.8 164.4,191.2C162.7,190.6 159.2,188.4 158,187.3C156.8,186.2 157.4,185.3 157.4,184.6C157.5,183.8 158.1,183.1 158.3,182.8Z"/></g>
<circle cx="107.2" cy="605.4" r="73.55" fill="#d6e8f3" stroke="#4d9fc7" stroke-width="4.5"/><circle cx="105.0" cy="605.5" r="55.2" fill="#b7d5e8"/>
<g transform="translate(111.0,541.8) rotate(6.8) scale(1.02)"><path d="M-4.6,-4.8 L-4.6,-64.5 L-9.4,-64.5 Q-10.9,-64.5 -10.9,-66.0 L-10.9,-98.8 Q-10.9,-102.0 -7.7,-102.0 L7.7,-102.0 Q10.9,-102.0 10.9,-98.8 L10.9,-66.0 Q10.9,-64.5 9.4,-64.5 L4.6,-64.5 L4.6,-4.8 Q4.6,-1.3 0,-1.3 Q-4.6,-1.3 -4.6,-4.8 Z" fill="#ec6a8b" stroke="#2f2b25" stroke-width="2.7" stroke-linejoin="round"/></g>
<g transform="translate(-19.1,363.6)" fill="#fde23d" stroke="#2f2b25" stroke-width="2.4" stroke-linejoin="round"><path d="M143.9,172.6C148.4,164.5 166.4,131.9 170.9,123.8C171.1,123.3 172.1,122.2 171.8,120.9C171.5,119.6 169.8,118 169.1,115.9C168.3,113.7 167.4,110.5 167,108C166.7,105.5 166.5,102.7 166.8,100.8C167,98.9 167.2,97.6 168.3,96.5C169.5,95.3 171.9,93.9 173.8,93.9C175.7,93.9 178.3,95.3 179.5,96.5C180.8,97.6 180.9,99.1 181.3,100.8C181.6,102.5 181.1,104.5 181.4,106.5C181.7,108.6 182.5,111.1 183.3,113C184,115 185.3,116.7 185.9,118.3C186.4,119.9 186.8,121.3 186.7,122.6C186.6,124 190.3,117 185.1,126.2C180,135.5 160.6,169.3 155.7,178C155.4,178.4 155,180.1 154.2,180.7C153.5,181.3 152.7,181.9 151.1,181.4C149.4,181 145.7,179 144.3,178C143,176.9 143,176.1 142.9,175.2C142.8,174.3 143.7,173.1 143.9,172.6Z"/><path d="M158.3,182.8C163.4,173.6 184,136.6 189.2,127.4C189.6,126.9 190.5,125.2 192,124.7C193.5,124.1 195.8,124.3 198.2,123.9C200.7,123.6 204.3,123.4 206.8,122.6C209.4,121.9 211.5,120.3 213.3,119.6C215.1,118.9 216.3,118.1 217.9,118.3C219.5,118.5 221.6,119.7 222.6,120.9C223.7,122.2 224.3,124.3 224.1,126C223.8,127.6 222.6,129.5 221.2,131C219.8,132.4 217.9,133.6 215.5,134.6C213.1,135.5 209.4,136.3 206.8,136.7C204.3,137.1 201.5,136.6 199.9,137C198.4,137.4 197.9,138.7 197.5,139C192.9,147.3 174.8,180.2 170.2,188.4C169.9,188.9 169.3,190.6 168.3,191C167.4,191.5 166.2,191.8 164.4,191.2C162.7,190.6 159.2,188.4 158,187.3C156.8,186.2 157.4,185.3 157.4,184.6C157.5,183.8 158.1,183.1 158.3,182.8Z"/></g>
<path d="M161,563.3C165.1,560.5 181.7,549 185.8,546.2C185.8,545.5 185.6,544 185.4,542.2C185.2,540.5 184.3,537.4 184.4,535.6C184.6,533.9 185.9,532.4 186.2,531.7C191.2,528.3 211.1,514.7 216,511.4C216.5,511.1 217.9,510 219.1,510.1C220.3,510.2 222.3,511 223,511.8C223.8,512.5 223.8,513.3 223.6,514.6C223.5,515.9 222.1,517.8 222.2,519.5C222.3,521.2 223.1,523.6 224.2,524.8C225.2,526.1 227.2,526.8 228.7,527.1C230.2,527.4 232.1,526.1 233.2,526.5C234.2,526.9 234.9,528.2 235.1,529.3C235.4,530.5 234.7,532.6 234.6,533.3C229.5,536.9 209.2,551.6 204.1,555.3C203.6,555.6 202.2,556.9 201.1,556.9C200,556.9 198.7,556.1 197.5,555.3C196.3,554.5 195,552.7 193.8,552.1C192.7,551.5 191.3,552 190.7,552C186.7,554.8 170.6,566.3 166.6,569.2C166.2,569.3 164.8,570 164.1,569.5C163.3,569.1 162.3,567.6 161.8,566.6C161.3,565.5 161.1,563.9 161,563.3Z" fill="#f99c7d" stroke="#1c1410" stroke-width="1.4" stroke-linejoin="round"/>
<circle cx="945.7" cy="341.9" r="73.55" fill="#d4e4d9" stroke="#41804f" stroke-width="4.5"/><circle cx="943.8" cy="342.3" r="55.2" fill="#b3cdb9"/>
<g transform="translate(950.7,278.2) rotate(6.8) scale(1.02)"><path d="M-4.6,-4.8 L-4.6,-64.5 L-9.4,-64.5 Q-10.9,-64.5 -10.9,-66.0 L-10.9,-98.8 Q-10.9,-102.0 -7.7,-102.0 L7.7,-102.0 Q10.9,-102.0 10.9,-98.8 L10.9,-66.0 Q10.9,-64.5 9.4,-64.5 L4.6,-64.5 L4.6,-4.8 Q4.6,-1.3 0,-1.3 Q-4.6,-1.3 -4.6,-4.8 Z" fill="#ec6a8b" stroke="#2f2b25" stroke-width="2.7" stroke-linejoin="round"/></g>
<g transform="translate(821.2,98.7) translate(180,140) scale(1,0.97) translate(-180,-140)" fill="#fde23d" stroke="#2f2b25" stroke-width="2.4" stroke-linejoin="round"><path d="M143.9,172.6C148.4,164.5 166.4,131.9 170.9,123.8C171.1,123.3 172.1,122.2 171.8,120.9C171.5,119.6 169.8,118 169.1,115.9C168.3,113.7 167.4,110.5 167,108C166.7,105.5 166.5,102.7 166.8,100.8C167,98.9 167.2,97.6 168.3,96.5C169.5,95.3 171.9,93.9 173.8,93.9C175.7,93.9 178.3,95.3 179.5,96.5C180.8,97.6 180.9,99.1 181.3,100.8C181.6,102.5 181.1,104.5 181.4,106.5C181.7,108.6 182.5,111.1 183.3,113C184,115 185.3,116.7 185.9,118.3C186.4,119.9 186.8,121.3 186.7,122.6C186.6,124 190.3,117 185.1,126.2C180,135.5 160.6,169.3 155.7,178C155.4,178.4 155,180.1 154.2,180.7C153.5,181.3 152.7,181.9 151.1,181.4C149.4,181 145.7,179 144.3,178C143,176.9 143,176.1 142.9,175.2C142.8,174.3 143.7,173.1 143.9,172.6Z"/><path d="M158.3,182.8C163.4,173.6 184,136.6 189.2,127.4C189.6,126.9 190.5,125.2 192,124.7C193.5,124.1 195.8,124.3 198.2,123.9C200.7,123.6 204.3,123.4 206.8,122.6C209.4,121.9 211.5,120.3 213.3,119.6C215.1,118.9 216.3,118.1 217.9,118.3C219.5,118.5 221.6,119.7 222.6,120.9C223.7,122.2 224.3,124.3 224.1,126C223.8,127.6 222.6,129.5 221.2,131C219.8,132.4 217.9,133.6 215.5,134.6C213.1,135.5 209.4,136.3 206.8,136.7C204.3,137.1 201.5,136.6 199.9,137C198.4,137.4 197.9,138.7 197.5,139C192.9,147.3 174.8,180.2 170.2,188.4C169.9,188.9 169.3,190.6 168.3,191C167.4,191.5 166.2,191.8 164.4,191.2C162.7,190.6 159.2,188.4 158,187.3C156.8,186.2 157.4,185.3 157.4,184.6C157.5,183.8 158.1,183.1 158.3,182.8Z"/></g>
<g transform="translate(992.6,300.6) rotate(-24.35)"><path d="M3,-5.0 L55.5,-5.0 Q56,-7.2 59,-7.8 L80,-7.8 Q82,-6.8 84,-7.8 L104.5,-7.8 Q107.6,-7.8 107.6,-4.8 L107.6,4.8 Q107.6,7.8 104.5,7.8 L84,7.8 Q82,6.8 80,7.8 L59,7.8 Q56,7.2 55.5,5.0 L3,5.0 Q0,5.0 0,0 Q0,-5.0 3,-5.0 Z" fill="#5e8f59" stroke="#0d0d0d" stroke-width="2.6" stroke-linejoin="round"/></g>
<path d="M1005.5,312.5C1012.1,311.1 1038.7,305.4 1045.3,304C1045.8,303.1 1046.6,300.5 1047.9,298.7C1049.2,296.9 1050.9,294.4 1053,293.1C1055.1,291.9 1058.1,291 1060.6,291.1C1063.1,291.2 1067,293.2 1068.2,293.6C1068.9,293 1070.5,290.7 1072.5,289.7C1074.5,288.7 1077.6,287.6 1080.1,287.7C1082.7,287.8 1085.7,288.8 1087.8,290.2C1089.8,291.7 1091.4,294.2 1092.3,296.2C1093.3,298.2 1093.5,299.9 1093.3,302.1C1093.2,304.4 1092.5,307.6 1091.2,309.8C1089.8,311.9 1087.5,313.8 1085.2,314.9C1082.9,315.9 1080,316.3 1077.6,316.2C1075.2,316.1 1071.9,314.4 1070.8,314C1070.1,314.6 1068.4,317 1066.5,317.9C1064.7,318.8 1062,319.5 1059.8,319.4C1057.5,319.3 1054.8,318.3 1053,317.4C1051.1,316.5 1049.7,314.5 1048.7,313.8C1047.8,313.2 1047.6,313.4 1047.4,313.3C1040.8,314.6 1014.7,319.5 1008.2,320.8C1007.7,320.6 1005.7,320.6 1005.1,319.9C1004.5,319.2 1004.4,317.8 1004.4,316.5C1004.5,315.3 1005.3,313.1 1005.5,312.5Z" fill="#1f6fc5" stroke="#0d0d0d" stroke-width="2.4" stroke-linejoin="round"/>
<g stroke="#000" stroke-width="1.9" fill="none">
<line x1="396.6" y1="311.7" x2="455.0" y2="432.5"/>
<line x1="396.6" y1="384.9" x2="440.0" y2="449.5"/>
<line x1="368.8" y1="560.7" x2="527.0" y2="588.6"/>
<line x1="368.8" y1="652.9" x2="530.5" y2="619.6"/>
</g>
<circle cx="448.7" cy="442.7" r="11" fill="none" stroke="#0b2233" stroke-width="2"/>
<circle cx="528" cy="604.2" r="15.6" fill="none" stroke="#0b2233" stroke-width="2"/>
<line x1="261.7" y1="348.3" x2="199.1" y2="305" stroke="#000" stroke-width="2.3"/><polygon points="186.3,296.2 202.9,299.5 195.2,310.6" fill="#000"/>
<line x1="265.8" y1="606.7" x2="212" y2="606.7" stroke="#000" stroke-width="2.3"/><polygon points="196.5,606.7 212,600 212,613.5" fill="#000"/>
<line x1="689" y1="329.5" x2="845.4" y2="344.5" stroke="#000" stroke-width="2.3"/><polygon points="860.8,346 844.7,351.2 846,337.8" fill="#000"/>
<line x1="653.9" y1="505.5" x2="863.7" y2="407" stroke="#000" stroke-width="2.3"/><polygon points="877.7,400.4 866.5,413.1 860.8,400.9" fill="#000"/>
<clipPath id="cbv"><rect x="262.5" y="312.5" width="133" height="71.6"/></clipPath><g clip-path="url(#cbv)"><path d="M269.8,317.1C272.8,317.4 281.6,317.9 287.9,318.7C294.3,319.5 301.1,320.5 307.7,321.9C314.3,323.2 320.9,325 327.4,326.9C334,328.7 340.6,331 347.2,332.9C353.8,334.8 359.9,336.8 366.9,338.2C374,339.6 385.6,340.8 389.3,341.4L391.3,354C388.3,353.7 379.8,353 373.5,352.1C367.3,351.3 360.4,350.4 353.8,349.1C347.2,347.8 340.6,346.1 334,344.5C327.4,342.9 320.9,340.8 314.3,339.5C307.7,338.2 301.1,337.4 294.5,336.9C287.9,336.3 278.1,336.4 274.8,336.3L274.8,336.3C274.5,334.4 274,328 273.2,324.8C272.3,321.6 270.3,318.4 269.8,317.1Z" fill="#b7a7a9"/><path d="M274.8,336.3C278.1,336.4 287.9,336.3 294.5,336.9C301.1,337.4 307.7,338.2 314.3,339.5C320.9,340.8 327.4,342.9 334,344.5C340.6,346.1 347.2,347.8 353.8,349.1C360.4,350.4 367.3,351.3 373.5,352.1C379.8,353 388.3,353.7 391.3,354L394.3,382C390.9,381.8 380.3,381.5 373.5,380.7C366.8,379.9 360.4,378.7 353.8,377.2C347.2,375.6 340.6,373.6 334,371.5C327.4,369.5 320.2,366.8 314.3,364.9C308.3,363 303.9,361.4 298.5,360.1C293,358.7 287.2,357.7 281.3,357C275.5,356.4 266.2,356.3 263.2,356.1L263.2,356.1C264.3,355.2 268.3,352.6 270.1,350.4C272,348.3 273.3,345.5 274.1,343.2C274.9,340.8 274.6,337.5 274.8,336.3Z" fill="#d9cdcd"/><path d="M266.9,313.2C270.4,313.5 281.1,314.1 287.9,314.9C294.7,315.7 301.1,316.6 307.7,317.9C314.3,319.2 320.9,321 327.4,322.8C334,324.6 340.6,326.8 347.2,328.7C353.8,330.6 360,332.8 366.9,334.2C373.9,335.7 385.1,337 388.7,337.5L389.3,341.4C385.6,340.8 374,339.6 366.9,338.2C359.9,336.8 353.8,334.8 347.2,332.9C340.6,331 334,328.7 327.4,326.9C320.9,325 314.3,323.2 307.7,321.9C301.1,320.5 294.3,319.5 287.9,318.7C281.6,317.9 272.8,317.4 269.8,317.1Z" fill="#fbdfe2"/><path d="M263.2,356.1C266.2,356.3 275.5,356.4 281.3,357C287.2,357.7 293,358.7 298.5,360.1C303.9,361.4 308.3,363 314.3,364.9C320.2,366.8 327.4,369.5 334,371.5C340.6,373.6 347.2,375.6 353.8,377.2C360.4,378.7 366.8,379.9 373.5,380.7C380.3,381.5 390.9,381.8 394.3,382L394.9,384.6C391.3,384.4 380.4,384.4 373.5,383.8C366.7,383.1 360.4,382.2 353.8,380.7C347.2,379.3 340.6,377.1 334,375.1C327.4,373 320.2,370.4 314.3,368.5C308.3,366.6 303.9,365 298.5,363.6C293,362.2 287.3,361 281.3,360.3C275.4,359.6 266,359.4 262.9,359.3Z" fill="#fbdfe2"/><path d="M266.9,314.4C270.4,314.6 281.1,315.3 287.9,316.1C294.7,316.9 301.1,317.8 307.7,319.1C314.3,320.4 320.9,322.2 327.4,324C334,325.8 340.6,328 347.2,329.9C353.8,331.8 360,333.9 366.9,335.4C373.9,336.9 385.1,338.2 388.7,338.7" fill="none" stroke="#d0687a" stroke-width="2.0"/><path d="M269.8,317.1C272.8,317.4 281.6,317.9 287.9,318.7C294.3,319.5 301.1,320.5 307.7,321.9C314.3,323.2 320.9,325 327.4,326.9C334,328.7 340.6,331 347.2,332.9C353.8,334.8 359.9,336.8 366.9,338.2C374,339.6 385.6,340.8 389.3,341.4" fill="none" stroke="#e596a2" stroke-width="0.9"/><path d="M262.9,358.1C266,358.3 275.4,358.4 281.3,359.1C287.3,359.9 293,361.1 298.5,362.4C303.9,363.8 308.3,365.4 314.3,367.3C320.2,369.2 327.4,371.8 334,373.9C340.6,375.9 347.2,378.1 353.8,379.5C360.4,381 366.7,381.9 373.5,382.6C380.4,383.2 391.3,383.2 394.9,383.4" fill="none" stroke="#d0687a" stroke-width="2.2"/><path d="M263.2,356.1C266.2,356.3 275.5,356.4 281.3,357C287.2,357.7 293,358.7 298.5,360.1C303.9,361.4 308.3,363 314.3,364.9C320.2,366.8 327.4,369.5 334,371.5C340.6,373.6 347.2,375.6 353.8,377.2C360.4,378.7 366.8,379.9 373.5,380.7C380.3,381.5 390.9,381.8 394.3,382" fill="none" stroke="#e596a2" stroke-width="0.9"/><path d="M269.8,317.1C270.3,318.4 272.3,321.6 273.2,324.8C274,328 274.6,333.3 274.8,336.3C274.9,339.4 274.9,340.8 274.1,343.2C273.3,345.5 272,348.3 270.1,350.4C268.3,352.6 264.3,355.2 263.2,356.1" fill="none" stroke="#5d4a4d" stroke-width="0.6"/><path d="M388.7,337.5C389.2,340.9 391,349.9 392,357.7C393,365.4 394.2,379.6 394.6,384" fill="none" stroke="#8f6f74" stroke-width="0.6" stroke-dasharray="1.5 1"/><g transform="translate(286.61,330.68) rotate(-22)"><path d="M-0.38,-4.48 Q1.58,0 -0.38,4.48" fill="none" stroke="#b3203a" stroke-width="6.32" stroke-linecap="round"/><path d="M-0.38,-4.48 Q1.58,0 -0.38,4.48" fill="none" stroke="#ee3b52" stroke-width="5.32" stroke-linecap="round"/></g><g transform="translate(305.31,330.81) rotate(22)"><path d="M-4.48,-0.35 Q0,1.45 4.48,-0.35" fill="none" stroke="#b3203a" stroke-width="5.79" stroke-linecap="round"/><path d="M-4.48,-0.35 Q0,1.45 4.48,-0.35" fill="none" stroke="#ee3b52" stroke-width="4.79" stroke-linecap="round"/></g><g transform="translate(284.24,346.88) rotate(38)"><ellipse rx="6.85" ry="5.27" fill="#ee3b52" stroke="#b3203a" stroke-width="0.6"/><ellipse rx="3.77" ry="2.90" fill="#c9374f"/></g><g transform="translate(312.29,346.49) rotate(0)"><ellipse rx="7.38" ry="7.38" fill="#ee3b52" stroke="#b3203a" stroke-width="0.6"/><ellipse rx="4.06" ry="4.06" fill="#c9374f"/></g><g transform="translate(324.8,357.15) rotate(36)"><path d="M-4.74,-0.35 Q0,1.45 4.74,-0.35" fill="none" stroke="#b3203a" stroke-width="5.79" stroke-linecap="round"/><path d="M-4.74,-0.35 Q0,1.45 4.74,-0.35" fill="none" stroke="#ee3b52" stroke-width="4.79" stroke-linecap="round"/></g><g transform="translate(347.45,347.28) rotate(0)"><ellipse rx="7.38" ry="7.38" fill="#ee3b52" stroke="#b3203a" stroke-width="0.6"/><ellipse rx="4.06" ry="4.06" fill="#c9374f"/></g><g transform="translate(341.26,363.74) rotate(22)"><ellipse rx="7.38" ry="5.27" fill="#ee3b52" stroke="#b3203a" stroke-width="0.6"/><ellipse rx="4.06" ry="2.90" fill="#c9374f"/></g><g transform="translate(359.04,363.87) rotate(-18)"><ellipse rx="5.53" ry="7.11" fill="#ee3b52" stroke="#b3203a" stroke-width="0.6"/><ellipse rx="3.04" ry="3.91" fill="#c9374f"/></g><g transform="translate(375.11,353.33) rotate(12)"><ellipse rx="7.38" ry="5.27" fill="#ee3b52" stroke="#b3203a" stroke-width="0.6"/><ellipse rx="4.06" ry="2.90" fill="#c9374f"/></g><g transform="translate(381.43,370.19) rotate(38)"><path d="M-4.48,-0.35 Q0,1.45 4.48,-0.35" fill="none" stroke="#b3203a" stroke-width="5.79" stroke-linecap="round"/><path d="M-4.48,-0.35 Q0,1.45 4.48,-0.35" fill="none" stroke="#ee3b52" stroke-width="4.79" stroke-linecap="round"/></g><path d="M323.5,336.6C324.5,335.2 327,333.9 328.8,333.3C330.5,332.8 332.7,332.6 334,333.3C335.3,334.1 336.1,336.3 336.4,337.9C336.7,339.6 336.3,341.5 335.6,343.2C334.9,344.8 333.2,346.9 332,347.8C330.9,348.7 330,349 328.8,348.7C327.5,348.4 325.9,347 324.8,345.8C323.7,344.7 322.6,343.4 322.4,341.9C322.2,340.3 322.4,338 323.5,336.6Z" fill="#d9d9ee" stroke="#b9bcd8" stroke-width="0.6"/><path d="M325.5,338.6C326.1,337.5 328.6,336.6 330.1,336.6C331.5,336.6 333.5,337.5 334,338.6C334.6,339.7 334.1,342.1 333.4,343.2C332.6,344.3 330.6,345.2 329.4,345.2C328.2,345.2 326.8,344.3 326.1,343.2C325.5,342.1 324.8,339.7 325.5,338.6Z" fill="#aca5c4"/><path d="M297.4,344.2L299.1,347.4L302.4,348.5L301.1,351.1L304.4,353.1L298.5,353.5L294.5,354.8L291.9,354L293.9,350.4L293.2,346.9L295.8,346.5Z" fill="#e2c874" stroke="#8f8450" stroke-width="0.5" stroke-linejoin="round"/></g><clipPath id="cln"><rect x="266.5" y="561.5" width="101.7" height="90.7"/></clipPath><defs><linearGradient id="lg1" x1="0" y1="0" x2="1" y2="0"><stop offset="0" stop-color="#a9d2c6"/><stop offset="1" stop-color="#e4f1ed"/></linearGradient></defs><g clip-path="url(#cln)"><path d="M325.5,590C325.3,588.2 324.1,582.8 324.4,579.7C324.7,576.6 326.6,573.8 327.2,571.5C327.8,569.1 327.8,566.3 328,565.3" fill="none" stroke="#b4d8ce" stroke-width="8.22" stroke-linecap="round"/><path d="M325.5,590C325.3,588.2 324.1,582.8 324.4,579.7C324.7,576.6 326.6,573.8 327.2,571.5C327.8,569.1 327.8,566.3 328,565.3" fill="none" stroke="#6b9689" stroke-width="6.85" stroke-linecap="round"/><path d="M298.4,597.8C297.4,596.8 294.2,593.6 292.2,592C290.2,590.4 287.3,588.8 286.3,588.2" fill="none" stroke="#b4d8ce" stroke-width="7.13" stroke-linecap="round"/><path d="M298.4,597.8C297.4,596.8 294.2,593.6 292.2,592C290.2,590.4 287.3,588.8 286.3,588.2" fill="none" stroke="#6b9689" stroke-width="5.76" stroke-linecap="round"/><path d="M289.5,623.5C288,623.4 283,623.3 280.6,622.9C278.2,622.4 276.9,621.2 275.1,620.8C273.3,620.4 270.7,620.6 269.9,620.5" fill="none" stroke="#b4d8ce" stroke-width="7.13" stroke-linecap="round"/><path d="M289.5,623.5C288,623.4 283,623.3 280.6,622.9C278.2,622.4 276.9,621.2 275.1,620.8C273.3,620.4 270.7,620.6 269.9,620.5" fill="none" stroke="#6b9689" stroke-width="5.76" stroke-linecap="round"/><path d="M332.6,624.2C334.2,624.8 338.4,626.3 342.2,627.6C346.1,629 351.4,630.8 355.9,632.4C360.5,634 367.4,636.4 369.6,637.2" fill="none" stroke="url(#lg1)" stroke-width="5.5"/><defs><linearGradient id="lg2" gradientUnits="userSpaceOnUse" x1="334" y1="0" x2="369" y2="0"><stop offset="0" stop-color="#b83a5e"/><stop offset="1" stop-color="#e58ba4"/></linearGradient><linearGradient id="lg3" gradientUnits="userSpaceOnUse" x1="334" y1="0" x2="369" y2="0"><stop offset="0" stop-color="#27509a"/><stop offset="1" stop-color="#5f8fd0"/></linearGradient></defs><path d="M334.7,622.2C336.4,622.2 341.4,622.3 345,622.4C348.5,622.6 351.8,622.8 355.9,623.1C360.1,623.4 367.4,624 369.6,624.2" fill="none" stroke="url(#lg2)" stroke-width="4.2"/><path d="M334,618.3C335.8,618.3 341.3,618 345,617.9C348.6,617.8 351.8,617.8 355.9,617.8C360.1,617.8 367.4,617.9 369.6,617.9" fill="none" stroke="url(#lg3)" stroke-width="3.0"/><path d="M334.7,620C336.4,619.9 341.4,619.8 345,619.8C348.5,619.8 351.8,619.9 355.9,620C360.1,620.1 367.4,620.3 369.6,620.4" fill="none" stroke="#5a3570" stroke-width="0.9"/><path d="M332.6,624.2C333.3,624.4 335.3,625.1 336.8,625.6C338.2,626 340.8,626.7 341.6,627" fill="none" stroke="#b4d8ce" stroke-width="5.48" stroke-linecap="round"/><path d="M332.6,624.2C333.3,624.4 335.3,625.1 336.8,625.6C338.2,626 340.8,626.7 341.6,627" fill="none" stroke="#6b9689" stroke-width="4.11" stroke-linecap="round"/><path d="M299.8,594.8C301.7,593.7 304.1,591.9 306.6,590.9C309.1,589.9 312.1,589.1 314.8,588.7C317.6,588.4 320.5,588.4 323.1,588.7C325.6,589.1 327.7,589.6 329.9,590.9C332.1,592.3 334.6,594.3 336.1,596.8C337.6,599.3 338.7,603.1 338.8,605.7C338.9,608.3 337.7,610.4 336.8,612.6C335.8,614.7 334.2,616.4 333.3,618.7C332.5,621 331.9,623.6 331.6,626.3C331.2,628.9 331.9,631.8 331.3,634.5C330.7,637.2 329.3,640.6 327.9,642.7C326.4,644.8 324.1,645.9 322.4,647.1C320.6,648.3 319.5,649.2 317.6,649.9C315.6,650.5 313,651 310.7,650.9C308.4,650.9 306.3,650.7 303.9,649.6C301.4,648.5 298.1,646.4 295.9,644.4C293.7,642.3 292,640 290.4,637.2C288.9,634.5 287.6,630.6 286.7,627.6C285.9,624.7 285.3,622.4 285.4,619.4C285.4,616.4 286.2,612.8 287.1,609.8C288.1,606.9 289.5,603.7 290.8,601.6C292.1,599.5 293.5,598.6 294.9,597.5C296.4,596.3 297.8,595.8 299.8,594.8Z" fill="#a9d2c6" stroke="#7ba99d" stroke-width="1.1"/><path d="M300.8,596.8C302.6,595.8 305,594.3 307.3,593.4C309.6,592.4 312.3,591.5 314.8,591.2C317.3,590.8 320.1,590.9 322.4,591.2C324.6,591.5 326.6,591.9 328.5,593.1C330.4,594.3 332.5,596 333.7,598.2C335,600.3 336.1,603.7 336.2,606C336.3,608.3 335.3,609.9 334.4,611.9C333.6,613.9 331.9,615.7 331,618C330.1,620.4 329.6,623.6 329.2,626.3C328.9,628.9 329.5,631.3 328.9,633.8C328.4,636.3 327.1,639.2 325.8,641.1C324.5,642.9 322.5,643.9 321,644.9C319.5,646 318.6,646.8 316.9,647.4C315.2,648 312.8,648.5 310.7,648.5C308.7,648.4 306.7,648.1 304.5,647.1C302.4,646.1 299.7,644.5 297.7,642.7C295.7,640.9 294,638.7 292.6,636.1C291.2,633.6 290,630.2 289.2,627.4C288.4,624.6 287.9,622.2 288,619.4C288,616.6 288.8,613.2 289.6,610.5C290.4,607.8 291.7,605.1 292.9,603.2C294.1,601.4 295.4,600.2 296.7,599.1C298.1,598.1 299.1,597.8 300.8,596.8Z" fill="none" stroke="#c6e2da" stroke-width="1.5"/><path d="M325.5,590.9C325.3,592 324.4,595.5 324.4,597.5C324.5,599.5 325.6,602.1 325.8,603" fill="none" stroke="#86b5a9" stroke-width="1.3" stroke-linecap="round"/><path d="M336.8,604.3C335.8,604.1 332.9,603.2 331.3,603C329.7,602.8 327.8,603.2 327.2,603.2" fill="none" stroke="#86b5a9" stroke-width="1.3" stroke-linecap="round"/><path d="M290.4,620.8C291.8,621 295.9,621.8 298.4,621.9C300.8,622 304.1,621.7 305.2,621.6" fill="none" stroke="#86b5a9" stroke-width="1.3" stroke-linecap="round"/><path d="M305.2,642.7C306.1,641.6 308.9,638 310.7,635.9C312.5,633.7 315.3,630.7 316.2,629.7" fill="none" stroke="#86b5a9" stroke-width="1.3" stroke-linecap="round"/><path d="M320.3,644.1C320.1,642.9 319.2,639.3 319.2,637.2C319.2,635.2 320.1,632.7 320.3,631.8" fill="none" stroke="#86b5a9" stroke-width="1.3" stroke-linecap="round"/><path d="M331.3,626.3C330.6,625.8 328.3,624.7 327.2,623.5C326,622.4 324.9,620.1 324.4,619.4" fill="none" stroke="#86b5a9" stroke-width="1.3" stroke-linecap="round"/></g>
<rect x="261.75" y="311.75" width="134.2" height="73" fill="none" stroke="#000" stroke-width="2.1"/>
<rect x="265.75" y="560.75" width="103.2" height="92.2" fill="none" stroke="#000" stroke-width="2.1"/>
<g opacity="0.999">
<text class="mk" transform="translate(92.2,57.6) scale(1.0,1.03)" fill="#b30f11" stroke="#b30f11">CD45RO</text>
<text class="mk" transform="translate(69.2,423.55) scale(1.0,1.03)" fill="#b30f11" stroke="#b30f11">CD45RO</text>
<text class="mk" transform="translate(923.2,163.05) scale(1.0,1.03)" fill="#b30f11" stroke="#b30f11">CD45RO</text>
<text class="mk" transform="translate(241.5,522.5) scale(0.943,1.06)" fill="#e07a3c" stroke="#e07a3c">CCR7</text>
<text class="mk" transform="translate(1055.9,235.7) scale(1.02,1.03)" fill="#4fa53b" stroke="#4fa53b">CD103</text>
<text class="mk" transform="translate(1059.2,347.3) scale(1.02,1.03)" fill="#1d5b84" stroke="#1d5b84">CD69</text>
<text class="cell" x="36.6" y="351.0">效应记忆T细胞</text>
<text class="cell cell2" transform="translate(95.57,381.3) scale(1.02,0.97)">Tem</text>
<text class="cell" x="16.65" y="714.0">中枢记忆T细胞</text>
<text class="cell cell2" transform="translate(76.53,743.3) scale(1.02,0.97)">Tcm</text>
<text class="cell" x="870.0" y="462.8">组织驻留记忆T细胞</text>
<text class="cell cell2" transform="translate(958.00,493.4) scale(1.02,0.97)">Trm</text>
<text class="cap" x="280.2" y="418.05">循环系统</text>
<text class="cap" x="279.5" y="684.2">淋巴结</text>
</g>
</svg>
</body>
</html>
